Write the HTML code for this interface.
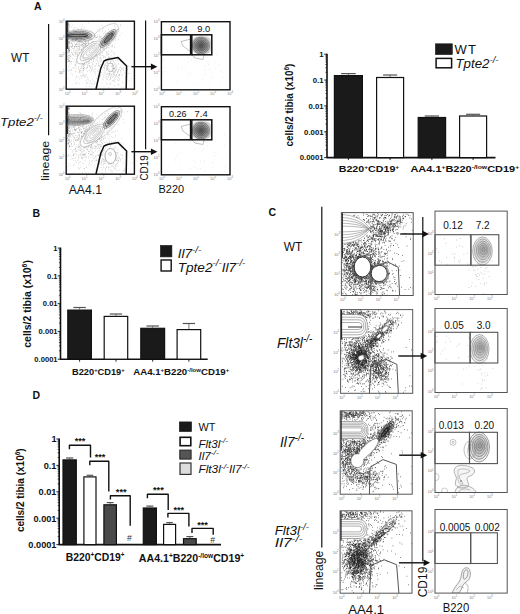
<!DOCTYPE html>
<html><head><meta charset="utf-8"><style>
html,body{margin:0;padding:0;background:#fff;}
svg{display:block;}
text{font-family:"Liberation Sans",sans-serif;}
</style></head><body>
<svg width="520" height="614" viewBox="0 0 520 614">
<rect width="520" height="614" fill="#fff"/>
<text x="34.00" y="9.80" font-size="10.5" text-anchor="start" font-weight="bold" font-style="normal" fill="#111">A</text>
<text x="32.50" y="217.00" font-size="10.5" text-anchor="start" font-weight="bold" font-style="normal" fill="#111">B</text>
<text x="268.50" y="216.20" font-size="10.5" text-anchor="start" font-weight="bold" font-style="normal" fill="#111">C</text>
<text x="32.50" y="398.80" font-size="10.5" text-anchor="start" font-weight="bold" font-style="normal" fill="#111">D</text>
<line x1="327.00" y1="53.70" x2="327.00" y2="157.60" stroke="#111" stroke-width="1.6"/>
<line x1="326.50" y1="157.60" x2="495.50" y2="157.60" stroke="#111" stroke-width="1.6"/>
<line x1="324.20" y1="54.20" x2="327.00" y2="54.20" stroke="#111" stroke-width="0.9"/>
<text x="323.60" y="57.01" font-size="7.8" text-anchor="end" font-weight="bold" font-style="normal" fill="#111" textLength="4.34" lengthAdjust="spacingAndGlyphs">1</text>
<line x1="325.40" y1="72.27" x2="327.00" y2="72.27" stroke="#111" stroke-width="0.7"/>
<line x1="325.40" y1="67.72" x2="327.00" y2="67.72" stroke="#111" stroke-width="0.7"/>
<line x1="325.40" y1="64.49" x2="327.00" y2="64.49" stroke="#111" stroke-width="0.7"/>
<line x1="325.40" y1="61.98" x2="327.00" y2="61.98" stroke="#111" stroke-width="0.7"/>
<line x1="325.40" y1="59.93" x2="327.00" y2="59.93" stroke="#111" stroke-width="0.7"/>
<line x1="325.40" y1="58.20" x2="327.00" y2="58.20" stroke="#111" stroke-width="0.7"/>
<line x1="325.40" y1="56.71" x2="327.00" y2="56.71" stroke="#111" stroke-width="0.7"/>
<line x1="325.40" y1="55.38" x2="327.00" y2="55.38" stroke="#111" stroke-width="0.7"/>
<line x1="324.20" y1="80.05" x2="327.00" y2="80.05" stroke="#111" stroke-width="0.9"/>
<text x="323.60" y="82.86" font-size="7.8" text-anchor="end" font-weight="bold" font-style="normal" fill="#111" textLength="10.84" lengthAdjust="spacingAndGlyphs">0.1</text>
<line x1="325.40" y1="98.12" x2="327.00" y2="98.12" stroke="#111" stroke-width="0.7"/>
<line x1="325.40" y1="93.57" x2="327.00" y2="93.57" stroke="#111" stroke-width="0.7"/>
<line x1="325.40" y1="90.34" x2="327.00" y2="90.34" stroke="#111" stroke-width="0.7"/>
<line x1="325.40" y1="87.83" x2="327.00" y2="87.83" stroke="#111" stroke-width="0.7"/>
<line x1="325.40" y1="85.78" x2="327.00" y2="85.78" stroke="#111" stroke-width="0.7"/>
<line x1="325.40" y1="84.05" x2="327.00" y2="84.05" stroke="#111" stroke-width="0.7"/>
<line x1="325.40" y1="82.56" x2="327.00" y2="82.56" stroke="#111" stroke-width="0.7"/>
<line x1="325.40" y1="81.23" x2="327.00" y2="81.23" stroke="#111" stroke-width="0.7"/>
<line x1="324.20" y1="105.90" x2="327.00" y2="105.90" stroke="#111" stroke-width="0.9"/>
<text x="323.60" y="108.71" font-size="7.8" text-anchor="end" font-weight="bold" font-style="normal" fill="#111" textLength="15.18" lengthAdjust="spacingAndGlyphs">0.01</text>
<line x1="325.40" y1="123.97" x2="327.00" y2="123.97" stroke="#111" stroke-width="0.7"/>
<line x1="325.40" y1="119.42" x2="327.00" y2="119.42" stroke="#111" stroke-width="0.7"/>
<line x1="325.40" y1="116.19" x2="327.00" y2="116.19" stroke="#111" stroke-width="0.7"/>
<line x1="325.40" y1="113.68" x2="327.00" y2="113.68" stroke="#111" stroke-width="0.7"/>
<line x1="325.40" y1="111.63" x2="327.00" y2="111.63" stroke="#111" stroke-width="0.7"/>
<line x1="325.40" y1="109.90" x2="327.00" y2="109.90" stroke="#111" stroke-width="0.7"/>
<line x1="325.40" y1="108.41" x2="327.00" y2="108.41" stroke="#111" stroke-width="0.7"/>
<line x1="325.40" y1="107.08" x2="327.00" y2="107.08" stroke="#111" stroke-width="0.7"/>
<line x1="324.20" y1="131.75" x2="327.00" y2="131.75" stroke="#111" stroke-width="0.9"/>
<text x="323.60" y="134.56" font-size="7.8" text-anchor="end" font-weight="bold" font-style="normal" fill="#111" textLength="19.52" lengthAdjust="spacingAndGlyphs">0.001</text>
<line x1="325.40" y1="149.82" x2="327.00" y2="149.82" stroke="#111" stroke-width="0.7"/>
<line x1="325.40" y1="145.27" x2="327.00" y2="145.27" stroke="#111" stroke-width="0.7"/>
<line x1="325.40" y1="142.04" x2="327.00" y2="142.04" stroke="#111" stroke-width="0.7"/>
<line x1="325.40" y1="139.53" x2="327.00" y2="139.53" stroke="#111" stroke-width="0.7"/>
<line x1="325.40" y1="137.48" x2="327.00" y2="137.48" stroke="#111" stroke-width="0.7"/>
<line x1="325.40" y1="135.75" x2="327.00" y2="135.75" stroke="#111" stroke-width="0.7"/>
<line x1="325.40" y1="134.26" x2="327.00" y2="134.26" stroke="#111" stroke-width="0.7"/>
<line x1="325.40" y1="132.93" x2="327.00" y2="132.93" stroke="#111" stroke-width="0.7"/>
<line x1="324.20" y1="157.60" x2="327.00" y2="157.60" stroke="#111" stroke-width="0.9"/>
<text x="323.60" y="160.41" font-size="7.8" text-anchor="end" font-weight="bold" font-style="normal" fill="#111" textLength="23.85" lengthAdjust="spacingAndGlyphs">0.0001</text>
<line x1="348.40" y1="73.60" x2="348.40" y2="75.00" stroke="#555" stroke-width="0.8"/>
<line x1="341.10" y1="73.60" x2="355.70" y2="73.60" stroke="#555" stroke-width="1.2"/>
<rect x="334.40" y="75.60" width="28.00" height="82.00" fill="#1a1a1a" stroke="#111" stroke-width="1.2"/>
<line x1="390.10" y1="75.00" x2="390.10" y2="76.90" stroke="#555" stroke-width="0.8"/>
<line x1="383.05" y1="75.00" x2="397.15" y2="75.00" stroke="#555" stroke-width="1.2"/>
<rect x="376.60" y="77.50" width="27.00" height="80.10" fill="#fff" stroke="#111" stroke-width="1.2"/>
<line x1="431.90" y1="116.00" x2="431.90" y2="116.90" stroke="#555" stroke-width="0.8"/>
<line x1="424.75" y1="116.00" x2="439.05" y2="116.00" stroke="#555" stroke-width="1.2"/>
<rect x="418.20" y="117.50" width="27.40" height="40.10" fill="#1a1a1a" stroke="#111" stroke-width="1.2"/>
<line x1="473.10" y1="114.30" x2="473.10" y2="115.40" stroke="#555" stroke-width="0.8"/>
<line x1="466.05" y1="114.30" x2="480.15" y2="114.30" stroke="#555" stroke-width="1.2"/>
<rect x="459.60" y="116.00" width="27.00" height="41.60" fill="#fff" stroke="#111" stroke-width="1.2"/>
<line x1="348.40" y1="157.60" x2="348.40" y2="160.10" stroke="#111" stroke-width="0.9"/>
<line x1="390.10" y1="157.60" x2="390.10" y2="160.10" stroke="#111" stroke-width="0.9"/>
<line x1="431.90" y1="157.60" x2="431.90" y2="160.10" stroke="#111" stroke-width="0.9"/>
<line x1="473.10" y1="157.60" x2="473.10" y2="160.10" stroke="#111" stroke-width="0.9"/>
<text transform="translate(293.40,146.60) rotate(-90)" x="0" y="0" font-size="10.1" text-anchor="start" font-weight="bold" font-style="normal" fill="#111" textLength="83.00" lengthAdjust="spacingAndGlyphs"><tspan>cells/2 tibia (x10</tspan><tspan font-size="6.57" dy="-4.24">6</tspan><tspan dy="4.24">)</tspan></text>
<text x="338.70" y="171.90" font-size="8.8" text-anchor="start" font-weight="bold" font-style="normal" fill="#111" textLength="60.50" lengthAdjust="spacingAndGlyphs"><tspan>B220</tspan><tspan font-size="5.46" dy="-3.34">+</tspan><tspan dy="3.34">CD19</tspan><tspan font-size="5.46" dy="-3.34">+</tspan></text>
<text x="410.40" y="171.90" font-size="8.8" text-anchor="start" font-weight="bold" font-style="normal" fill="#111" textLength="108.80" lengthAdjust="spacingAndGlyphs"><tspan>AA4.1</tspan><tspan font-size="5.46" dy="-3.34">+</tspan><tspan dy="3.34">B220</tspan><tspan font-size="5.46" dy="-3.34">-/low</tspan><tspan dy="3.34">CD19</tspan><tspan font-size="5.46" dy="-3.34">+</tspan></text>
<rect x="435.40" y="43.80" width="16.90" height="10.80" fill="#1a1a1a" stroke="#1a1a1a" stroke-width="0.6"/>
<text x="454.4" y="54.2" font-size="13" fill="#111" textLength="21.6" lengthAdjust="spacing">WT</text>
<rect x="436.10" y="58.40" width="15.50" height="9.40" fill="#fff" stroke="#111" stroke-width="1.5"/>
<text x="455.40" y="68.30" font-size="13" text-anchor="start" font-weight="normal" font-style="italic" fill="#111" textLength="43.10" lengthAdjust="spacingAndGlyphs"><tspan>Tpte2</tspan><tspan font-size="9.36" dy="-5.46">-/-</tspan></text>
<line x1="60.50" y1="247.60" x2="60.50" y2="359.20" stroke="#111" stroke-width="1.6"/>
<line x1="60.00" y1="359.20" x2="207.70" y2="359.20" stroke="#111" stroke-width="1.6"/>
<line x1="57.70" y1="248.10" x2="60.50" y2="248.10" stroke="#111" stroke-width="0.9"/>
<text x="57.60" y="250.84" font-size="7.6" text-anchor="end" font-weight="bold" font-style="normal" fill="#111" textLength="4.23" lengthAdjust="spacingAndGlyphs">1</text>
<line x1="58.90" y1="267.51" x2="60.50" y2="267.51" stroke="#111" stroke-width="0.7"/>
<line x1="58.90" y1="262.62" x2="60.50" y2="262.62" stroke="#111" stroke-width="0.7"/>
<line x1="58.90" y1="259.15" x2="60.50" y2="259.15" stroke="#111" stroke-width="0.7"/>
<line x1="58.90" y1="256.46" x2="60.50" y2="256.46" stroke="#111" stroke-width="0.7"/>
<line x1="58.90" y1="254.26" x2="60.50" y2="254.26" stroke="#111" stroke-width="0.7"/>
<line x1="58.90" y1="252.40" x2="60.50" y2="252.40" stroke="#111" stroke-width="0.7"/>
<line x1="58.90" y1="250.79" x2="60.50" y2="250.79" stroke="#111" stroke-width="0.7"/>
<line x1="58.90" y1="249.37" x2="60.50" y2="249.37" stroke="#111" stroke-width="0.7"/>
<line x1="57.70" y1="275.88" x2="60.50" y2="275.88" stroke="#111" stroke-width="0.9"/>
<text x="57.60" y="278.61" font-size="7.6" text-anchor="end" font-weight="bold" font-style="normal" fill="#111" textLength="10.56" lengthAdjust="spacingAndGlyphs">0.1</text>
<line x1="58.90" y1="295.29" x2="60.50" y2="295.29" stroke="#111" stroke-width="0.7"/>
<line x1="58.90" y1="290.40" x2="60.50" y2="290.40" stroke="#111" stroke-width="0.7"/>
<line x1="58.90" y1="286.93" x2="60.50" y2="286.93" stroke="#111" stroke-width="0.7"/>
<line x1="58.90" y1="284.24" x2="60.50" y2="284.24" stroke="#111" stroke-width="0.7"/>
<line x1="58.90" y1="282.04" x2="60.50" y2="282.04" stroke="#111" stroke-width="0.7"/>
<line x1="58.90" y1="280.18" x2="60.50" y2="280.18" stroke="#111" stroke-width="0.7"/>
<line x1="58.90" y1="278.57" x2="60.50" y2="278.57" stroke="#111" stroke-width="0.7"/>
<line x1="58.90" y1="277.15" x2="60.50" y2="277.15" stroke="#111" stroke-width="0.7"/>
<line x1="57.70" y1="303.65" x2="60.50" y2="303.65" stroke="#111" stroke-width="0.9"/>
<text x="57.60" y="306.39" font-size="7.6" text-anchor="end" font-weight="bold" font-style="normal" fill="#111" textLength="14.79" lengthAdjust="spacingAndGlyphs">0.01</text>
<line x1="58.90" y1="323.06" x2="60.50" y2="323.06" stroke="#111" stroke-width="0.7"/>
<line x1="58.90" y1="318.17" x2="60.50" y2="318.17" stroke="#111" stroke-width="0.7"/>
<line x1="58.90" y1="314.70" x2="60.50" y2="314.70" stroke="#111" stroke-width="0.7"/>
<line x1="58.90" y1="312.01" x2="60.50" y2="312.01" stroke="#111" stroke-width="0.7"/>
<line x1="58.90" y1="309.81" x2="60.50" y2="309.81" stroke="#111" stroke-width="0.7"/>
<line x1="58.90" y1="307.95" x2="60.50" y2="307.95" stroke="#111" stroke-width="0.7"/>
<line x1="58.90" y1="306.34" x2="60.50" y2="306.34" stroke="#111" stroke-width="0.7"/>
<line x1="58.90" y1="304.92" x2="60.50" y2="304.92" stroke="#111" stroke-width="0.7"/>
<line x1="57.70" y1="331.42" x2="60.50" y2="331.42" stroke="#111" stroke-width="0.9"/>
<text x="57.60" y="334.16" font-size="7.6" text-anchor="end" font-weight="bold" font-style="normal" fill="#111" textLength="19.02" lengthAdjust="spacingAndGlyphs">0.001</text>
<line x1="58.90" y1="350.84" x2="60.50" y2="350.84" stroke="#111" stroke-width="0.7"/>
<line x1="58.90" y1="345.95" x2="60.50" y2="345.95" stroke="#111" stroke-width="0.7"/>
<line x1="58.90" y1="342.48" x2="60.50" y2="342.48" stroke="#111" stroke-width="0.7"/>
<line x1="58.90" y1="339.79" x2="60.50" y2="339.79" stroke="#111" stroke-width="0.7"/>
<line x1="58.90" y1="337.59" x2="60.50" y2="337.59" stroke="#111" stroke-width="0.7"/>
<line x1="58.90" y1="335.73" x2="60.50" y2="335.73" stroke="#111" stroke-width="0.7"/>
<line x1="58.90" y1="334.12" x2="60.50" y2="334.12" stroke="#111" stroke-width="0.7"/>
<line x1="58.90" y1="332.70" x2="60.50" y2="332.70" stroke="#111" stroke-width="0.7"/>
<line x1="57.70" y1="359.20" x2="60.50" y2="359.20" stroke="#111" stroke-width="0.9"/>
<text x="57.60" y="361.94" font-size="7.6" text-anchor="end" font-weight="bold" font-style="normal" fill="#111" textLength="23.24" lengthAdjust="spacingAndGlyphs">0.0001</text>
<line x1="79.60" y1="307.50" x2="79.60" y2="309.50" stroke="#555" stroke-width="0.8"/>
<line x1="73.40" y1="307.50" x2="85.80" y2="307.50" stroke="#555" stroke-width="1.2"/>
<rect x="67.80" y="310.10" width="23.60" height="49.10" fill="#1a1a1a" stroke="#111" stroke-width="1.2"/>
<line x1="115.95" y1="314.00" x2="115.95" y2="315.80" stroke="#555" stroke-width="0.8"/>
<line x1="109.78" y1="314.00" x2="122.12" y2="314.00" stroke="#555" stroke-width="1.2"/>
<rect x="104.20" y="316.40" width="23.50" height="42.80" fill="#fff" stroke="#111" stroke-width="1.2"/>
<line x1="152.70" y1="326.00" x2="152.70" y2="327.70" stroke="#555" stroke-width="0.8"/>
<line x1="146.45" y1="326.00" x2="158.95" y2="326.00" stroke="#555" stroke-width="1.2"/>
<rect x="140.80" y="328.30" width="23.80" height="30.90" fill="#1a1a1a" stroke="#111" stroke-width="1.2"/>
<line x1="188.90" y1="323.50" x2="188.90" y2="329.00" stroke="#555" stroke-width="0.8"/>
<line x1="182.70" y1="323.50" x2="195.10" y2="323.50" stroke="#555" stroke-width="1.2"/>
<rect x="177.10" y="329.60" width="23.60" height="29.60" fill="#fff" stroke="#111" stroke-width="1.2"/>
<line x1="79.60" y1="359.20" x2="79.60" y2="361.70" stroke="#111" stroke-width="0.9"/>
<line x1="116.00" y1="359.20" x2="116.00" y2="361.70" stroke="#111" stroke-width="0.9"/>
<line x1="152.70" y1="359.20" x2="152.70" y2="361.70" stroke="#111" stroke-width="0.9"/>
<line x1="188.90" y1="359.20" x2="188.90" y2="361.70" stroke="#111" stroke-width="0.9"/>
<text transform="translate(31.40,347.70) rotate(-90)" x="0" y="0" font-size="10.5" text-anchor="start" font-weight="bold" font-style="normal" fill="#111" textLength="87.60" lengthAdjust="spacingAndGlyphs"><tspan>cells/2 tibia (x10</tspan><tspan font-size="6.83" dy="-4.41">6</tspan><tspan dy="4.41">)</tspan></text>
<text x="72.00" y="374.90" font-size="8.9" text-anchor="start" font-weight="bold" font-style="normal" fill="#111" textLength="52.60" lengthAdjust="spacingAndGlyphs"><tspan>B220</tspan><tspan font-size="5.52" dy="-3.38">+</tspan><tspan dy="3.38">CD19</tspan><tspan font-size="5.52" dy="-3.38">+</tspan></text>
<text x="133.20" y="375.20" font-size="8.9" text-anchor="start" font-weight="bold" font-style="normal" fill="#111" textLength="96.00" lengthAdjust="spacingAndGlyphs"><tspan>AA4.1</tspan><tspan font-size="5.52" dy="-3.38">+</tspan><tspan dy="3.38">B220</tspan><tspan font-size="5.52" dy="-3.38">-/low</tspan><tspan dy="3.38">CD19</tspan><tspan font-size="5.52" dy="-3.38">+</tspan></text>
<rect x="160.40" y="245.40" width="11.50" height="11.50" fill="#1a1a1a" stroke="#1a1a1a" stroke-width="0.6"/>
<text x="177.70" y="258.30" font-size="13.4" text-anchor="start" font-weight="normal" font-style="italic" fill="#111" textLength="23.50" lengthAdjust="spacingAndGlyphs"><tspan>Il7</tspan><tspan font-size="9.65" dy="-5.63">-/-</tspan></text>
<rect x="161.10" y="260.00" width="10.10" height="11.00" fill="#fff" stroke="#111" stroke-width="1.4"/>
<text x="177.70" y="271.70" font-size="13.4" text-anchor="start" font-weight="normal" font-style="italic" fill="#111" textLength="67.70" lengthAdjust="spacingAndGlyphs"><tspan>Tpte2</tspan><tspan font-size="9.65" dy="-5.63">-/-</tspan><tspan dy="5.63">Il7</tspan><tspan font-size="9.65" dy="-5.63">-/-</tspan></text>
<line x1="59.20" y1="438.50" x2="59.20" y2="544.60" stroke="#111" stroke-width="1.6"/>
<line x1="58.70" y1="544.60" x2="221.00" y2="544.60" stroke="#111" stroke-width="1.6"/>
<line x1="56.40" y1="439.00" x2="59.20" y2="439.00" stroke="#111" stroke-width="0.9"/>
<text x="56.50" y="442.31" font-size="9.2" text-anchor="end" font-weight="bold" font-style="normal" fill="#111" textLength="5.12" lengthAdjust="spacingAndGlyphs">1</text>
<line x1="57.60" y1="457.45" x2="59.20" y2="457.45" stroke="#111" stroke-width="0.7"/>
<line x1="57.60" y1="452.80" x2="59.20" y2="452.80" stroke="#111" stroke-width="0.7"/>
<line x1="57.60" y1="449.51" x2="59.20" y2="449.51" stroke="#111" stroke-width="0.7"/>
<line x1="57.60" y1="446.95" x2="59.20" y2="446.95" stroke="#111" stroke-width="0.7"/>
<line x1="57.60" y1="444.86" x2="59.20" y2="444.86" stroke="#111" stroke-width="0.7"/>
<line x1="57.60" y1="443.09" x2="59.20" y2="443.09" stroke="#111" stroke-width="0.7"/>
<line x1="57.60" y1="441.56" x2="59.20" y2="441.56" stroke="#111" stroke-width="0.7"/>
<line x1="57.60" y1="440.21" x2="59.20" y2="440.21" stroke="#111" stroke-width="0.7"/>
<line x1="56.40" y1="465.40" x2="59.20" y2="465.40" stroke="#111" stroke-width="0.9"/>
<text x="56.50" y="468.71" font-size="9.2" text-anchor="end" font-weight="bold" font-style="normal" fill="#111" textLength="12.79" lengthAdjust="spacingAndGlyphs">0.1</text>
<line x1="57.60" y1="483.85" x2="59.20" y2="483.85" stroke="#111" stroke-width="0.7"/>
<line x1="57.60" y1="479.20" x2="59.20" y2="479.20" stroke="#111" stroke-width="0.7"/>
<line x1="57.60" y1="475.91" x2="59.20" y2="475.91" stroke="#111" stroke-width="0.7"/>
<line x1="57.60" y1="473.35" x2="59.20" y2="473.35" stroke="#111" stroke-width="0.7"/>
<line x1="57.60" y1="471.26" x2="59.20" y2="471.26" stroke="#111" stroke-width="0.7"/>
<line x1="57.60" y1="469.49" x2="59.20" y2="469.49" stroke="#111" stroke-width="0.7"/>
<line x1="57.60" y1="467.96" x2="59.20" y2="467.96" stroke="#111" stroke-width="0.7"/>
<line x1="57.60" y1="466.61" x2="59.20" y2="466.61" stroke="#111" stroke-width="0.7"/>
<line x1="56.40" y1="491.80" x2="59.20" y2="491.80" stroke="#111" stroke-width="0.9"/>
<text x="56.50" y="495.11" font-size="9.2" text-anchor="end" font-weight="bold" font-style="normal" fill="#111" textLength="17.90" lengthAdjust="spacingAndGlyphs">0.01</text>
<line x1="57.60" y1="510.25" x2="59.20" y2="510.25" stroke="#111" stroke-width="0.7"/>
<line x1="57.60" y1="505.60" x2="59.20" y2="505.60" stroke="#111" stroke-width="0.7"/>
<line x1="57.60" y1="502.31" x2="59.20" y2="502.31" stroke="#111" stroke-width="0.7"/>
<line x1="57.60" y1="499.75" x2="59.20" y2="499.75" stroke="#111" stroke-width="0.7"/>
<line x1="57.60" y1="497.66" x2="59.20" y2="497.66" stroke="#111" stroke-width="0.7"/>
<line x1="57.60" y1="495.89" x2="59.20" y2="495.89" stroke="#111" stroke-width="0.7"/>
<line x1="57.60" y1="494.36" x2="59.20" y2="494.36" stroke="#111" stroke-width="0.7"/>
<line x1="57.60" y1="493.01" x2="59.20" y2="493.01" stroke="#111" stroke-width="0.7"/>
<line x1="56.40" y1="518.20" x2="59.20" y2="518.20" stroke="#111" stroke-width="0.9"/>
<text x="56.50" y="521.51" font-size="9.2" text-anchor="end" font-weight="bold" font-style="normal" fill="#111" textLength="23.02" lengthAdjust="spacingAndGlyphs">0.001</text>
<line x1="57.60" y1="536.65" x2="59.20" y2="536.65" stroke="#111" stroke-width="0.7"/>
<line x1="57.60" y1="532.00" x2="59.20" y2="532.00" stroke="#111" stroke-width="0.7"/>
<line x1="57.60" y1="528.71" x2="59.20" y2="528.71" stroke="#111" stroke-width="0.7"/>
<line x1="57.60" y1="526.15" x2="59.20" y2="526.15" stroke="#111" stroke-width="0.7"/>
<line x1="57.60" y1="524.06" x2="59.20" y2="524.06" stroke="#111" stroke-width="0.7"/>
<line x1="57.60" y1="522.29" x2="59.20" y2="522.29" stroke="#111" stroke-width="0.7"/>
<line x1="57.60" y1="520.76" x2="59.20" y2="520.76" stroke="#111" stroke-width="0.7"/>
<line x1="57.60" y1="519.41" x2="59.20" y2="519.41" stroke="#111" stroke-width="0.7"/>
<line x1="56.40" y1="544.60" x2="59.20" y2="544.60" stroke="#111" stroke-width="0.9"/>
<text x="56.50" y="547.91" font-size="9.2" text-anchor="end" font-weight="bold" font-style="normal" fill="#111" textLength="28.13" lengthAdjust="spacingAndGlyphs">0.0001</text>
<line x1="69.65" y1="458.00" x2="69.65" y2="459.30" stroke="#555" stroke-width="0.8"/>
<line x1="66.03" y1="458.00" x2="73.28" y2="458.00" stroke="#555" stroke-width="1.2"/>
<rect x="63.00" y="459.90" width="13.30" height="84.70" fill="#1a1a1a" stroke="#111" stroke-width="1.2"/>
<line x1="89.95" y1="475.30" x2="89.95" y2="476.30" stroke="#555" stroke-width="0.8"/>
<line x1="86.62" y1="475.30" x2="93.27" y2="475.30" stroke="#555" stroke-width="1.2"/>
<rect x="83.90" y="476.90" width="12.10" height="67.70" fill="#fff" stroke="#111" stroke-width="1.2"/>
<line x1="110.15" y1="502.60" x2="110.15" y2="504.20" stroke="#555" stroke-width="0.8"/>
<line x1="106.73" y1="502.60" x2="113.58" y2="502.60" stroke="#555" stroke-width="1.2"/>
<rect x="103.90" y="504.80" width="12.50" height="39.80" fill="#4a4a4a" stroke="#111" stroke-width="1.2"/>
<line x1="149.85" y1="506.10" x2="149.85" y2="507.40" stroke="#555" stroke-width="0.8"/>
<line x1="146.27" y1="506.10" x2="153.43" y2="506.10" stroke="#555" stroke-width="1.2"/>
<rect x="143.30" y="508.00" width="13.10" height="36.60" fill="#1a1a1a" stroke="#111" stroke-width="1.2"/>
<line x1="169.60" y1="522.60" x2="169.60" y2="523.80" stroke="#555" stroke-width="0.8"/>
<line x1="166.30" y1="522.60" x2="172.90" y2="522.60" stroke="#555" stroke-width="1.2"/>
<rect x="163.60" y="524.40" width="12.00" height="20.20" fill="#fff" stroke="#111" stroke-width="1.2"/>
<line x1="189.85" y1="536.60" x2="189.85" y2="538.10" stroke="#555" stroke-width="0.8"/>
<line x1="186.38" y1="536.60" x2="193.33" y2="536.60" stroke="#555" stroke-width="1.2"/>
<rect x="183.50" y="538.70" width="12.70" height="5.90" fill="#4a4a4a" stroke="#111" stroke-width="1.2"/>
<text x="129.30" y="540.60" font-size="8.6" text-anchor="middle" font-weight="normal" font-style="normal" fill="#333">#</text>
<text x="212.60" y="542.60" font-size="8.6" text-anchor="middle" font-weight="normal" font-style="normal" fill="#333">#</text>
<path d="M69.40 449.20 L69.40 445.20 L90.50 445.20 L90.50 457.40" fill="none" stroke="#111" stroke-width="1.4" stroke-linejoin="round"/>
<path d="M89.80 465.20 L89.80 461.30 L108.80 461.30 L108.80 491.50" fill="none" stroke="#111" stroke-width="1.4" stroke-linejoin="round"/>
<path d="M110.40 499.40 L110.40 495.80 L130.20 495.80 L130.20 525.70" fill="none" stroke="#111" stroke-width="1.4" stroke-linejoin="round"/>
<path d="M147.40 498.30 L147.40 494.20 L168.20 494.20 L168.20 510.10" fill="none" stroke="#111" stroke-width="1.4" stroke-linejoin="round"/>
<path d="M167.90 517.50 L167.90 513.40 L188.90 513.40 L188.90 526.60" fill="none" stroke="#111" stroke-width="1.4" stroke-linejoin="round"/>
<path d="M192.00 533.00 L192.00 528.40 L213.20 528.40 L213.20 534.80" fill="none" stroke="#111" stroke-width="1.4" stroke-linejoin="round"/>
<text x="80.00" y="443.80" font-size="9.2" text-anchor="middle" font-weight="bold" font-style="normal" fill="#111">***</text>
<text x="100.00" y="459.90" font-size="9.2" text-anchor="middle" font-weight="bold" font-style="normal" fill="#111">***</text>
<text x="121.20" y="494.60" font-size="9.2" text-anchor="middle" font-weight="bold" font-style="normal" fill="#111">***</text>
<text x="158.40" y="492.60" font-size="9.2" text-anchor="middle" font-weight="bold" font-style="normal" fill="#111">***</text>
<text x="178.80" y="512.60" font-size="9.2" text-anchor="middle" font-weight="bold" font-style="normal" fill="#111">***</text>
<text x="202.60" y="527.60" font-size="9.2" text-anchor="middle" font-weight="bold" font-style="normal" fill="#111">***</text>
<text transform="translate(24.20,532.10) rotate(-90)" x="0" y="0" font-size="10.2" text-anchor="start" font-weight="bold" font-style="normal" fill="#111" textLength="83.80" lengthAdjust="spacingAndGlyphs"><tspan>cells/2 tibia (x10</tspan><tspan font-size="6.63" dy="-4.28">6</tspan><tspan dy="4.28">)</tspan></text>
<text x="65.80" y="561.40" font-size="10.3" text-anchor="start" font-weight="bold" font-style="normal" fill="#111" textLength="58.80" lengthAdjust="spacingAndGlyphs"><tspan>B220</tspan><tspan font-size="6.39" dy="-3.91">+</tspan><tspan dy="3.91">CD19</tspan><tspan font-size="6.39" dy="-3.91">+</tspan></text>
<text x="138.80" y="561.60" font-size="10.3" text-anchor="start" font-weight="bold" font-style="normal" fill="#111" textLength="105.40" lengthAdjust="spacingAndGlyphs"><tspan>AA4.1</tspan><tspan font-size="6.39" dy="-3.91">+</tspan><tspan dy="3.91">B220</tspan><tspan font-size="6.39" dy="-3.91">-/low</tspan><tspan dy="3.91">CD19</tspan><tspan font-size="6.39" dy="-3.91">+</tspan></text>
<rect x="179.30" y="421.90" width="12.30" height="9.70" fill="#1a1a1a" stroke="#1a1a1a" stroke-width="0.6"/>
<text x="198.40" y="430.70" font-size="10.5" text-anchor="start" font-weight="normal" font-style="normal" fill="#111" textLength="16.90" lengthAdjust="spacingAndGlyphs">WT</text>
<rect x="180.10" y="437.30" width="10.70" height="8.40" fill="#fff" stroke="#111" stroke-width="1.6"/>
<text x="198.40" y="447.60" font-size="11" text-anchor="start" font-weight="normal" font-style="italic" fill="#111" textLength="29.70" lengthAdjust="spacingAndGlyphs"><tspan>Flt3l</tspan><tspan font-size="7.92" dy="-4.62">-/-</tspan></text>
<rect x="179.80" y="450.10" width="11.30" height="9.00" fill="#555" stroke="#222" stroke-width="1"/>
<text x="198.40" y="459.90" font-size="11" text-anchor="start" font-weight="normal" font-style="italic" fill="#111" textLength="20.40" lengthAdjust="spacingAndGlyphs"><tspan>Il7</tspan><tspan font-size="7.92" dy="-4.62">-/-</tspan></text>
<rect x="180.00" y="463.00" width="11.00" height="11.40" fill="#ddd" stroke="#333" stroke-width="1.2"/>
<text x="198.40" y="473.20" font-size="11" text-anchor="start" font-weight="normal" font-style="italic" fill="#111" textLength="51.20" lengthAdjust="spacingAndGlyphs"><tspan>Flt3l</tspan><tspan font-size="7.92" dy="-4.62">-/-</tspan><tspan dy="4.62">Il7</tspan><tspan font-size="7.92" dy="-4.62">-/-</tspan></text>
<clipPath id="cA0"><rect x="66.2" y="21.2" width="68.2" height="68.0"/></clipPath><g clip-path="url(#cA0)"><path transform="scale(.25)" d="M336 244h2M323 182h2M314 176h2M339 298h2M312 196h2M360 247h2M341 180h2M335 264h2M271 204h2M275 242h2M289 186h2M334 274h2M308 222h2M277 232h2M401 148h2M377 234h2M305 332h2M373 166h2M340 258h2M327 264h2M333 263h2M405 193h2M342 166h2M308 218h2M379 288h2M272 187h2M367 124h2M314 223h2M396 264h2M320 209h2M324 307h2M315 212h2M327 170h2M335 205h2M392 262h2M335 263h2M320 283h2M336 258h2M274 246h2M321 181h2M344 345h2M296 196h2M346 254h2M370 255h2M286 224h2M338 173h2M348 183h2M383 238h2M340 197h2M330 124h2M282 247h2M295 269h2M342 148h2M396 303h2M328 177h2M389 200h2M334 187h2M306 162h2M396 220h2M382 229h2M303 211h2M309 228h2M318 212h2M270 186h2M415 193h2M285 246h2M404 152h2M326 195h2M300 252h2M310 221h2M283 165h2M400 202h2M315 202h2M392 263h2M270 277h2M382 221h2M362 269h2M376 276h2M314 307h2M276 273h2M360 273h2M426 305h2M281 140h2M375 175h2M335 272h2M295 149h2M328 177h2M333 249h2M289 194h2M288 182h2M345 187h2M353 246h2M433 156h2M379 223h2M335 153h2M314 267h2M322 288h2M335 114h2M303 126h2M400 230h2M280 179h2M390 236h2M338 270h2M363 239h2M286 255h2M303 285h2M275 221h2M336 159h2M419 304h2M314 268h2M354 92h2M340 172h2M323 219h2M393 245h2M336 308h2M309 208h2M382 276h2M368 234h2M409 257h2M333 198h2M306 311h2M360 232h2M319 170h2M333 273h2M317 216h2M295 274h2M299 258h2M409 212h2M307 238h2M336 176h2M358 333h2M324 217h2M286 245h2M276 170h2M397 181h2M388 307h2M348 257h2M430 218h2M308 158h2M338 305h2M295 202h2M346 243h2M360 325h2M364 231h2M377 265h2M329 139h2M318 193h2M367 345h2M346 187h2M280 225h2M328 168h2M342 168h2M389 283h2M388 203h2M317 210h2M274 153h2M374 218h2M346 280h2M344 248h2M318 282h2M346 165h2M291 270h2M358 129h2M401 259h2M400 208h2M322 169h2M458 219h2M412 194h2M344 141h2M318 279h2M276 284h2M352 174h2M312 204h2M334 200h2M296 212h2M287 161h2M334 274h2M305 177h2M408 187h2M300 259h2M329 259h2M334 172h2M334 138h2M367 172h2M389 149h2M284 189h2M282 248h2M297 190h2M357 177h2M278 133h2M425 211h2M428 174h2M272 267h2M269 210h2M361 172h2M386 172h2M322 150h2M289 300h2M294 130h2M317 226h2M282 225h2M334 295h2M426 221h2M299 225h2M307 189h2M333 174h2M301 179h2M325 199h2M271 231h2M272 196h2M322 120h2M328 206h2M318 177h2M323 199h2M340 165h2M329 205h2M363 141h2M358 241h2M350 248h2M305 215h2M367 250h2M346 149h2M362 289h2M384 240h2M329 96h2M354 150h2M274 195h2M397 209h2M349 319h2M413 223h2M324 162h2M303 250h2M355 234h2M333 266h2M364 284h2M353 176h2M307 183h2M379 248h2M307 227h2M330 256h2M369 316h2M390 244h2M350 269h2M310 226h2M379 330h2M346 298h2M335 304h2M290 218h2M326 269h2M386 150h2M292 246h2M304 149h2M386 254h2M385 216h2M295 239h2M302 263h2M348 180h2M315 291h2M443 332h2M410 222h2M289 234h2M358 185h2M360 182h2M319 175h2M390 227h2M301 210h2M325 264h2M382 222h2M370 335h2M325 209h2M394 254h2M428 317h2M363 264h2M327 251h2M300 211h2M307 210h2M348 286h2M431 229h2M278 202h2M340 124h2M352 149h2M321 224h2M310 196h2M425 331h2M399 265h2M304 303h2M315 224h2M284 209h2M445 224h2M325 256h2M370 170h2M326 276h2M411 193h2M408 127h2M304 200h2M368 260h2M403 146h2M304 256h2M292 120h2M318 150h2M305 247h2M351 311h2M326 148h2M300 180h2M278 251h2M305 125h2M369 222h2M366 230h2M395 250h2M355 249h2M271 313h2M341 165h2M332 191h2M340 195h2M334 279h2M459 176h2M314 184h2M374 168h2M313 226h2M289 178h2M313 119h2M374 257h2M332 182h2M280 186h2M406 239h2M392 203h2M332 245h2M394 203h2M399 244h2M375 171h2M378 337h2M373 241h2M343 321h2M291 222h2M358 267h2M315 244h2M330 169h2M335 274h2M290 215h2M368 172h2M345 173h2M390 348h2M433 217h2M372 234h2M341 308h2M273 283h2M334 301h2M345 193h2M349 266h2M338 253h2M311 117h2M379 264h2M386 204h2M302 218h2M393 156h2M393 195h2M283 294h2M331 160h2M319 276h2M393 206h2M356 265h2M305 246h2M334 200h2M312 231h2M337 199h2M316 286h2M346 274h2M394 259h2M445 185h2M425 316h2M368 269h2M371 224h2M358 262h2M332 281h2M286 278h2M325 182h2M354 181h2M292 147h2M335 254h2M385 221h2M386 229h2M332 258h2M387 210h2M324 220h2M340 181h2M385 207h2M358 185h2M353 248h2M316 333h2M354 320h2M318 251h2M322 134h2M325 113h2M302 217h2M349 154h2M412 173h2M367 157h2M333 258h2M420 238h2M342 177h2M376 226h2M420 125h2M322 274h2M319 187h2M323 156h2M391 170h2M294 207h2M303 274h2M282 147h2M302 112h2M359 325h2M392 168h2M378 288h2M300 178h2M331 145h2M407 103h2M283 214h2M391 117h2M336 191h2M292 195h2M374 246h2M303 334h2M447 152h2M374 239h2M326 200h2M326 199h2M315 165h2M334 182h2M327 282h2M354 254h2M372 172h2M400 230h2M300 203h2M304 236h2M302 287h2M298 110h2M301 124h2M334 283h2M367 158h2M299 320h2M398 235h2M353 260h2M307 173h2M339 179h2M448 184h2M357 282h2M312 185h2M362 230h2M287 209h2M338 254h2M308 215h2M414 114h2M318 186h2M332 130h2M329 184h2M310 240h2M367 275h2M312 276h2M392 287h2M403 220h2M328 271h2M295 159h2M319 189h2M368 166h2M311 148h2M339 162h2M318 132h2M279 133h2M331 132h2M303 152h2M304 175h2M335 159h2M364 159h2M276 203h2M352 173h2M336 109h2M288 157h2M273 173h2M377 156h2M298 138h2M331 178h2M286 187h2M297 146h2M329 186h2M290 176h2M316 236h2M286 201h2M317 165h2M291 155h2M344 182h2M328 132h2M396 148h2M402 192h2M315 163h2M324 172h2M295 167h2M397 127h2M332 146h2M329 188h2M317 187h2M291 183h2M329 106h2M284 173h2M395 175h2M332 134h2M389 211h2M321 163h2M450 185h2M273 200h2M333 189h2M340 177h2M283 137h2M323 151h2M296 124h2M329 178h2M416 132h2M287 190h2M310 160h2M402 160h2M336 175h2M346 182h2M289 183h2M347 125h2M305 178h2M292 117h2M306 186h2M396 115h2M445 141h2M367 172h2M286 107h2M456 185h2M407 146h2M390 206h2M395 167h2M324 144h2M312 165h2M413 199h2M318 197h2M283 160h2M364 138h2M307 136h2M326 207h2M284 173h2M277 140h2M433 180h2M286 185h2M304 187h2M334 175h2M349 154h2M301 127h2M299 134h2M313 145h2M325 179h2M275 186h2M402 188h2M303 203h2M289 101h2M447 206h2M270 172h2M310 170h2M342 173h2M378 170h2M433 151h2M332 122h2M275 181h2M317 143h2M303 156h2M297 186h2M351 154h2M276 175h2M315 193h2M447 188h2M318 164h2M279 146h2M272 159h2M299 186h2M301 163h2M308 185h2M450 139h2M340 186h2M381 152h2M340 147h2M287 153h2M313 172h2M342 133h2M417 196h2M356 159h2M316 181h2M340 127h2M356 240h2M338 165h2M388 139h2M328 204h2M310 158h2M326 157h2M396 146h2M363 137h2M353 165h2M267 157h2M396 140h2M268 204h2M326 206h2M336 146h2M317 198h2M366 168h2M322 165h2M291 216h2M320 140h2M296 186h2M352 165h2M287 169h2M359 156h2M339 198h2M352 169h2M425 184h2M303 186h2M340 147h2M324 164h2M306 157h2M318 171h2M384 151h2M295 194h2M301 161h2M331 194h2M270 141h2M278 147h2M335 146h2M326 178h2M284 171h2M401 176h2M289 166h2M275 175h2M362 148h2M310 195h2M296 173h2M270 148h2M295 220h2M300 155h2M293 164h2M351 173h2M419 173h2M389 175h2M349 133h2M314 166h2M308 116h2M362 159h2M299 162h2M309 178h2M334 171h2M302 154h2M280 167h2M377 143h2M393 188h2M298 187h2M304 156h2M325 117h2M344 134h2M288 158h2M272 168h2M348 182h2M272 149h2M385 217h2M361 267h2M434 180h2M435 180h2M431 190h2M447 132h2M457 129h2M397 163h2M410 199h2M375 234h2M423 169h2M336 255h2M417 145h2M376 143h2M420 145h2M409 122h2M427 150h2M420 137h2M421 230h2M384 174h2M472 159h2M360 180h2M462 151h2M452 164h2M430 134h2M482 98h2M399 212h2M473 120h2M374 226h2M445 122h2M398 219h2M396 158h2M419 169h2M455 146h2M364 239h2M444 152h2M433 134h2M391 224h2M342 187h2M430 132h2M377 170h2M402 196h2M345 270h2M429 153h2M386 257h2M384 212h2M435 190h2M408 208h2M401 219h2M474 115h2M445 204h2M407 154h2M414 136h2M462 154h2M414 172h2M385 220h2M336 245h2M400 151h2M424 155h2M375 225h2M457 154h2M454 118h2M388 230h2M435 182h2M426 194h2M446 157h2M430 165h2M419 173h2M432 136h2M462 115h2M438 142h2M430 214h2M379 172h2M480 104h2M423 131h2M429 174h2M456 104h2M432 161h2M365 156h2M435 164h2M374 176h2M459 129h2M462 161h2M403 207h2M399 186h2M405 181h2M446 140h2M399 180h2M406 154h2M391 195h2M418 227h2M457 137h2M439 209h2M417 165h2M422 171h2M453 127h2M462 91h2M415 140h2M461 109h2M420 192h2M432 118h2M376 172h2M411 172h2M448 179h2M344 245h2M402 200h2M385 224h2M409 172h2M416 161h2M367 241h2M415 166h2M458 159h2M479 142h2M358 235h2M427 136h2M415 189h2M429 144h2M397 165h2M474 124h2M438 159h2M487 131h2M371 227h2M453 209h2M380 147h2M388 203h2M401 196h2M389 172h2M425 143h2M371 177h2M392 215h2M355 235h2M425 147h2M399 155h2M466 146h2M389 146h2M268 163h2M271 235h2M273 148h2M267 232h2M275 246h2M272 168h2M274 121h2M275 173h2M273 198h2M268 163h2M274 142h2M269 133h2M271 92h2M275 203h2M270 213h2M270 150h2M268 182h2M272 120h2M273 194h2M277 200h2M277 165h2M278 243h2M270 226h2M274 178h2M276 196h2M274 129h2M269 239h2M273 190h2M276 231h2M271 245h2M276 171h2M275 102h2M275 209h2M274 95h2M272 115h2M274 223h2M269 98h2M272 139h2M278 224h2M273 197h2M272 199h2M276 193h2M275 206h2M276 207h2M273 201h2M273 96h2M272 98h2M275 211h2M269 184h2M272 127h2M274 171h2M268 99h2M267 216h2M276 100h2M274 165h2M275 100h2M271 212h2M271 122h2M276 242h2M272 196h2M273 139h2M270 224h2M273 239h2M271 133h2M270 245h2M269 94h2M274 204h2M269 132h2M273 154h2M269 188h2M275 92h2M270 121h2M271 101h2M277 205h2M274 120h2M275 166h2M270 138h2M276 123h2M270 237h2M278 167h2M277 191h2M274 200h2M276 219h2M272 127h2M275 97h2M278 112h2M275 87h2M268 187h2M273 152h2M275 106h2M277 171h2M270 113h2M278 245h2M275 240h2M271 236h2M270 220h2M273 191h2M275 109h2M277 185h2M270 95h2M269 201h2M277 140h2M277 198h2M276 221h2M274 185h2M274 223h2M276 192h2M272 236h2M272 231h2M270 91h2M276 128h2M277 148h2M267 125h2M275 113h2M269 227h2M268 88h2M268 114h2M273 209h2M269 121h2M268 126h2M269 209h2M275 158h2M271 128h2M273 245h2M269 95h2M277 200h2M278 146h2M276 202h2M267 132h2M275 105h2M271 87h2M267 132h2M469 291h2M427 254h2M492 272h2M438 335h2M476 301h2M457 302h2M441 231h2M409 297h2M457 273h2M413 230h2M437 230h2M471 323h2M525 314h2M429 251h2M349 261h2M441 317h2M463 303h2M452 306h2M487 244h2M433 232h2M491 329h2M467 239h2M451 274h2M448 275h2M461 268h2M470 291h2M438 278h2M434 311h2M438 293h2M435 229h2M471 244h2M465 297h2M400 248h2M432 252h2M413 309h2M439 296h2M434 293h2M425 281h2M462 284h2M433 243h2M451 294h2M439 254h2M438 294h2M457 190h2M449 257h2M485 273h2M424 274h2M451 262h2M445 233h2M440 310h2M501 307h2M454 325h2M475 342h2M476 278h2M453 288h2M454 289h2M424 206h2M427 209h2M448 282h2M399 307h2M470 285h2M493 349h2M412 319h2M458 297h2M472 256h2M429 252h2M425 278h2M405 244h2M462 279h2M457 214h2M424 262h2M447 261h2M472 280h2M446 282h2M466 265h2M477 299h2M450 284h2M461 319h2M472 296h2M471 286h2M481 281h2M388 330h2M449 240h2M440 250h2M505 300h2M402 302h2M435 351h2M417 201h2M448 269h2M434 205h2M458 342h2M393 324h2M458 275h2M477 301h2M429 308h2M432 218h2M503 269h2M429 294h2M402 233h2M432 263h2M448 322h2M433 300h2M463 243h2M452 248h2M476 298h2M446 234h2M449 254h2M466 278h2M423 315h2M466 261h2M479 271h2M437 286h2M425 266h2M442 337h2M488 273h2M491 280h2M457 314h2M453 239h2M483 267h2M437 174h2M474 311h2M468 317h2M493 280h2M472 255h2M436 320h2M457 234h2M456 275h2M423 298h2M435 225h2M415 346h2M404 290h2M463 305h2M412 270h2M450 311h2M428 240h2M474 322h2M456 260h2M457 286h2M469 237h2M449 276h2M415 290h2M447 267h2M457 231h2M444 298h2M454 321h2M412 228h2M453 298h2M505 304h2M422 311h2M422 229h2M519 294h2M466 302h2M497 292h2M480 245h2M407 333h2M487 300h2M452 288h2M427 337h2M464 300h2M457 320h2M460 309h2M413 300h2M507 263h2M442 314h2M473 304h2M401 300h2M413 252h2M461 271h2M468 308h2M421 259h2M416 263h2M415 258h2M440 246h2M406 233h2M459 284h2M474 337h2M375 325h2M486 297h2M316 316h2M454 306h2M365 334h2M325 313h2M364 277h2M433 272h2M444 266h2M303 309h2M449 263h2M485 278h2M409 316h2M443 246h2M517 322h2M369 271h2M278 260h2M439 293h2M319 287h2M513 293h2M358 347h2M433 305h2M356 254h2M316 289h2M384 315h2M440 311h2M416 272h2M331 283h2M380 264h2M320 301h2M408 283h2M436 297h2M327 305h2M484 348h2M508 278h2M382 297h2M443 306h2M387 345h2M348 271h2M457 327h2M479 270h2M478 319h2M527 264h2M416 295h2M286 281h2M481 289h2M348 332h2M471 336h2M343 302h2M474 283h2M346 331h2M512 267h2M327 300h2M444 299h2M350 309h2M331 302h2M459 277h2M328 290h2M282 281h2M347 332h2M369 279h2M303 266h2M395 297h2M482 284h2M476 312h2M400 240h2M307 328h2M501 311h2M455 291h2M373 283h2" stroke="#555" stroke-width="2" stroke-opacity="0.75"/><rect x="66.2" y="21" width="2" height="28" fill="#222" opacity=".9"/><ellipse cx="80.0" cy="35.6" rx="15.0" ry="5.8" transform="rotate(0 80.0 35.6)" fill="rgba(0,0,0,0.06)" stroke="#888" stroke-width="0.5" opacity="1"/><ellipse cx="79.0" cy="35.6" rx="13.0" ry="4.3" transform="rotate(0 79.0 35.6)" fill="rgba(0,0,0,0.08)" stroke="#555" stroke-width="0.55" opacity="1"/><ellipse cx="78.5" cy="35.6" rx="11.5" ry="2.8" transform="rotate(0 78.5 35.6)" fill="rgba(0,0,0,0.1)" stroke="#333" stroke-width="0.6" opacity="1"/><ellipse cx="78.0" cy="35.6" rx="10.0" ry="1.3" transform="rotate(0 78.0 35.6)" fill="rgba(0,0,0,0.3)" stroke="#222" stroke-width="0.8" opacity="1"/><ellipse cx="89.0" cy="52.5" rx="15.5" ry="6.5" transform="rotate(-42 89.0 52.5)" fill="#fff" stroke="#999" stroke-width="0.5" opacity="1"/><ellipse cx="89.6" cy="52.0" rx="12.0" ry="4.8" transform="rotate(-42 89.6 52.0)" fill="none" stroke="#999" stroke-width="0.5" opacity="1"/><ellipse cx="90.2" cy="51.5" rx="9.0" ry="3.4" transform="rotate(-42 90.2 51.5)" fill="none" stroke="#999" stroke-width="0.5" opacity="1"/><ellipse cx="90.8" cy="51.0" rx="6.0" ry="2.2" transform="rotate(-42 90.8 51.0)" fill="none" stroke="#aaa" stroke-width="0.5" opacity="1"/><ellipse cx="91.4" cy="50.5" rx="3.0" ry="1.1" transform="rotate(-42 91.4 50.5)" fill="none" stroke="#bbb" stroke-width="0.5" opacity="1"/><ellipse cx="100.0" cy="41.5" rx="24.0" ry="9.0" transform="rotate(-44 100.0 41.5)" fill="none" stroke="#aaa" stroke-width="0.5" opacity="1"/><ellipse cx="108.0" cy="38.5" rx="11.5" ry="4.2" transform="rotate(-48 108.0 38.5)" fill="rgba(0,0,0,0.12)" stroke="#555" stroke-width="0.5" opacity="1"/><ellipse cx="108.0" cy="38.5" rx="9.0" ry="2.8" transform="rotate(-48 108.0 38.5)" fill="rgba(0,0,0,0.15)" stroke="#333" stroke-width="0.6" opacity="1"/><ellipse cx="108.5" cy="38.0" rx="6.5" ry="1.6" transform="rotate(-48 108.5 38.0)" fill="rgba(0,0,0,0.35)" stroke="#222" stroke-width="0.7" opacity="1"/><path d="M113 33.5 L118 29.0" stroke="#999" stroke-width=".6"/><ellipse cx="110.5" cy="67.5" rx="3.2" ry="4.2" transform="rotate(0 110.5 67.5)" fill="none" stroke="#888" stroke-width="0.5" opacity="1"/><ellipse cx="110.5" cy="68.0" rx="6.0" ry="7.5" transform="rotate(0 110.5 68.0)" fill="none" stroke="#ccc" stroke-width="0.5" opacity="1"/></g><clipPath id="cA85"><rect x="66.2" y="106.2" width="68.2" height="67.99999999999999"/></clipPath><g clip-path="url(#cA85)"><path transform="scale(.25)" d="M383 586h2M325 551h2M363 585h2M296 657h2M407 621h2M332 596h2M285 535h2M296 517h2M327 582h2M365 660h2M353 614h2M307 605h2M343 544h2M331 565h2M345 589h2M312 529h2M372 480h2M306 649h2M369 482h2M461 433h2M405 649h2M353 521h2M375 510h2M323 620h2M283 549h2M344 498h2M392 586h2M299 534h2M340 531h2M383 566h2M312 508h2M364 617h2M406 617h2M296 532h2M402 584h2M325 630h2M317 553h2M314 466h2M377 505h2M309 529h2M371 564h2M337 481h2M332 491h2M351 587h2M335 674h2M361 599h2M382 625h2M274 623h2M361 618h2M358 503h2M280 663h2M348 494h2M334 555h2M350 599h2M296 504h2M310 562h2M323 492h2M313 673h2M285 480h2M349 599h2M358 510h2M282 536h2M331 605h2M381 572h2M379 495h2M269 552h2M331 543h2M314 640h2M446 569h2M335 606h2M424 506h2M363 576h2M338 533h2M304 561h2M329 507h2M411 561h2M270 625h2M300 594h2M335 581h2M344 538h2M338 674h2M357 513h2M270 680h2M318 676h2M362 572h2M359 601h2M393 591h2M343 577h2M401 610h2M288 535h2M318 518h2M323 590h2M384 568h2M436 564h2M489 620h2M345 668h2M270 667h2M324 606h2M320 603h2M340 509h2M381 604h2M365 620h2M389 567h2M271 496h2M401 605h2M341 545h2M320 532h2M440 580h2M307 500h2M301 605h2M283 636h2M300 561h2M269 519h2M341 586h2M331 620h2M384 585h2M362 616h2M339 591h2M320 495h2M288 608h2M357 651h2M339 613h2M400 620h2M307 558h2M342 517h2M359 621h2M313 671h2M322 557h2M325 531h2M416 600h2M268 563h2M295 617h2M335 655h2M371 611h2M347 579h2M367 616h2M302 594h2M462 563h2M324 532h2M339 584h2M293 623h2M366 589h2M412 600h2M353 633h2M379 592h2M352 659h2M295 550h2M286 574h2M348 462h2M337 602h2M344 518h2M277 512h2M335 619h2M392 579h2M279 534h2M293 559h2M358 519h2M392 622h2M314 631h2M320 647h2M291 493h2M332 547h2M405 546h2M301 633h2M404 586h2M365 569h2M411 497h2M400 564h2M268 510h2M307 515h2M394 638h2M349 514h2M330 532h2M406 584h2M282 587h2M341 526h2M317 649h2M290 520h2M325 532h2M315 596h2M419 475h2M332 558h2M320 620h2M314 561h2M328 620h2M336 577h2M334 516h2M296 513h2M345 531h2M285 580h2M361 476h2M417 570h2M331 623h2M339 537h2M441 512h2M331 612h2M285 563h2M355 693h2M293 566h2M368 572h2M278 589h2M341 591h2M390 621h2M356 584h2M283 561h2M341 525h2M410 680h2M317 589h2M325 634h2M325 575h2M288 603h2M302 596h2M342 625h2M335 621h2M292 600h2M325 578h2M339 617h2M274 574h2M310 474h2M320 602h2M327 617h2M319 568h2M318 586h2M427 587h2M345 536h2M300 644h2M283 521h2M331 546h2M430 445h2M353 605h2M282 534h2M357 653h2M292 486h2M383 647h2M320 453h2M406 558h2M390 566h2M318 545h2M407 643h2M421 549h2M271 568h2M331 563h2M313 552h2M314 585h2M297 553h2M329 636h2M362 589h2M388 594h2M422 638h2M334 546h2M378 595h2M331 491h2M373 610h2M274 622h2M310 588h2M356 526h2M308 460h2M292 474h2M380 587h2M306 586h2M317 600h2M351 517h2M321 615h2M418 549h2M319 451h2M330 545h2M318 518h2M373 489h2M321 669h2M338 592h2M329 507h2M334 589h2M287 586h2M396 624h2M365 605h2M294 507h2M295 575h2M367 580h2M286 458h2M324 577h2M324 546h2M303 605h2M333 574h2M289 536h2M344 516h2M276 551h2M394 578h2M406 561h2M321 496h2M308 643h2M352 606h2M370 568h2M326 574h2M368 592h2M360 576h2M299 554h2M291 620h2M451 550h2M282 567h2M398 560h2M365 573h2M339 540h2M312 588h2M356 608h2M343 494h2M322 491h2M308 530h2M334 492h2M282 536h2M295 615h2M343 524h2M390 499h2M283 624h2M327 555h2M352 503h2M373 569h2M382 627h2M380 595h2M366 427h2M269 540h2M368 642h2M306 521h2M436 571h2M294 619h2M417 493h2M411 553h2M407 548h2M380 677h2M419 604h2M325 541h2M322 525h2M323 436h2M313 597h2M277 537h2M364 507h2M333 617h2M360 588h2M295 535h2M341 616h2M296 510h2M388 581h2M378 659h2M369 608h2M292 532h2M367 648h2M403 688h2M351 579h2M384 569h2M333 514h2M361 494h2M376 485h2M315 629h2M297 571h2M313 448h2M351 590h2M283 598h2M298 516h2M336 533h2M446 487h2M371 619h2M354 627h2M318 513h2M291 584h2M347 496h2M419 624h2M377 506h2M316 540h2M316 510h2M357 580h2M398 578h2M333 618h2M322 555h2M304 603h2M315 537h2M300 597h2M310 481h2M353 587h2M394 622h2M308 559h2M274 655h2M357 641h2M321 461h2M410 573h2M367 596h2M311 544h2M419 616h2M320 471h2M344 596h2M332 503h2M298 503h2M346 611h2M347 597h2M311 560h2M438 579h2M338 479h2M335 630h2M369 571h2M307 560h2M390 558h2M346 628h2M396 542h2M400 588h2M336 591h2M268 527h2M331 600h2M318 561h2M383 641h2M373 634h2M317 552h2M312 654h2M326 518h2M359 663h2M340 632h2M315 542h2M303 561h2M424 508h2M415 516h2M325 611h2M366 583h2M326 578h2M281 543h2M274 619h2M323 597h2M303 542h2M281 545h2M408 637h2M313 557h2M296 578h2M391 493h2M380 499h2M295 475h2M437 571h2M348 533h2M387 459h2M337 683h2M318 569h2M337 618h2M345 587h2M319 584h2M339 644h2M380 513h2M314 579h2M395 567h2M331 539h2M414 623h2M331 495h2M298 598h2M301 614h2M353 583h2M367 594h2M295 551h2M448 505h2M313 623h2M328 526h2M272 596h2M385 641h2M339 622h2M286 577h2M303 577h2M372 624h2M288 634h2M313 515h2M328 492h2M336 583h2M326 596h2M321 568h2M295 545h2M332 578h2M322 593h2M353 614h2M398 594h2M335 514h2M291 544h2M349 579h2M366 579h2M350 584h2M310 514h2M360 590h2M325 546h2M445 529h2M326 582h2M406 530h2M350 522h2M325 531h2M313 498h2M325 530h2M336 524h2M432 540h2M305 488h2M333 484h2M355 495h2M286 474h2M290 503h2M370 471h2M349 521h2M319 480h2M346 517h2M355 518h2M395 476h2M289 525h2M305 550h2M301 523h2M359 482h2M337 525h2M330 546h2M378 488h2M326 488h2M348 487h2M364 517h2M367 505h2M312 541h2M341 524h2M408 516h2M387 472h2M362 502h2M314 508h2M337 548h2M286 536h2M300 519h2M301 524h2M369 498h2M322 474h2M335 529h2M293 535h2M321 506h2M317 525h2M297 478h2M280 508h2M277 526h2M332 535h2M387 500h2M331 566h2M270 530h2M293 509h2M324 544h2M275 495h2M298 518h2M268 499h2M370 504h2M350 521h2M303 471h2M367 512h2M367 460h2M278 533h2M347 507h2M326 526h2M305 518h2M327 456h2M302 541h2M301 505h2M291 496h2M374 502h2M271 433h2M293 461h2M354 462h2M361 519h2M282 526h2M362 476h2M329 500h2M361 491h2M322 486h2M333 551h2M292 509h2M384 492h2M279 481h2M338 520h2M312 509h2M324 525h2M308 492h2M297 465h2M317 493h2M341 483h2M298 484h2M267 524h2M296 518h2M294 521h2M327 503h2M358 512h2M344 525h2M315 500h2M334 497h2M336 534h2M359 498h2M312 533h2M299 502h2M353 495h2M310 548h2M331 484h2M344 508h2M328 494h2M317 502h2M333 541h2M335 467h2M271 469h2M280 520h2M337 493h2M330 489h2M277 541h2M381 502h2M315 492h2M316 523h2M318 531h2M374 515h2M333 505h2M334 480h2M337 512h2M276 558h2M271 486h2M331 460h2M280 470h2M271 504h2M333 533h2M346 495h2M371 495h2M288 543h2M355 512h2M353 528h2M285 539h2M342 487h2M316 478h2M319 520h2M330 460h2M301 519h2M332 534h2M286 511h2M337 523h2M290 511h2M344 505h2M318 544h2M340 516h2M337 501h2M402 542h2M313 483h2M416 493h2M272 514h2M301 519h2M333 553h2M346 506h2M371 500h2M300 560h2M278 495h2M319 481h2M280 494h2M299 483h2M432 524h2M353 470h2M316 478h2M354 501h2M319 504h2M289 470h2M345 473h2M283 513h2M366 513h2M327 507h2M358 462h2M335 484h2M299 521h2M370 451h2M314 554h2M322 472h2M363 489h2M304 513h2M395 559h2M312 551h2M292 487h2M299 563h2M333 511h2M300 503h2M365 492h2M322 516h2M363 509h2M400 501h2M288 495h2M366 513h2M278 515h2M343 523h2M280 529h2M473 431h2M420 456h2M366 581h2M424 504h2M471 497h2M388 489h2M469 466h2M444 481h2M409 460h2M424 509h2M421 553h2M409 478h2M447 491h2M439 539h2M426 504h2M364 515h2M416 530h2M326 573h2M381 586h2M398 555h2M410 521h2M372 591h2M441 496h2M457 456h2M425 519h2M430 485h2M414 495h2M457 490h2M448 528h2M468 436h2M389 579h2M419 468h2M429 462h2M388 506h2M393 503h2M421 501h2M437 470h2M435 532h2M438 464h2M433 454h2M447 462h2M454 484h2M416 517h2M516 519h2M444 479h2M403 553h2M413 474h2M486 463h2M443 496h2M435 494h2M407 528h2M487 468h2M491 478h2M446 511h2M402 542h2M446 546h2M432 486h2M425 529h2M426 464h2M407 477h2M376 513h2M396 545h2M442 471h2M396 554h2M326 550h2M453 486h2M448 465h2M427 472h2M376 509h2M395 556h2M417 471h2M420 468h2M382 480h2M386 554h2M432 455h2M407 541h2M440 487h2M468 474h2M398 487h2M403 551h2M384 573h2M427 491h2M444 490h2M453 454h2M409 508h2M495 448h2M461 526h2M377 582h2M424 478h2M408 502h2M437 515h2M391 575h2M431 536h2M452 505h2M455 497h2M410 490h2M453 488h2M430 524h2M510 446h2M413 553h2M470 471h2M436 492h2M446 478h2M475 432h2M338 584h2M435 498h2M411 489h2M459 440h2M439 473h2M403 564h2M327 581h2M429 482h2M443 474h2M438 548h2M411 508h2M450 487h2M411 493h2M418 455h2M490 448h2M461 460h2M464 478h2M496 491h2M418 514h2M368 457h2M433 472h2M477 479h2M430 536h2M485 446h2M412 557h2M270 528h2M275 556h2M273 486h2M268 547h2M271 510h2M274 545h2M273 545h2M272 435h2M275 561h2M273 559h2M271 433h2M276 534h2M278 481h2M270 479h2M271 529h2M272 438h2M277 563h2M273 431h2M269 463h2M274 478h2M269 435h2M272 576h2M272 572h2M271 457h2M273 561h2M272 479h2M273 471h2M275 537h2M273 577h2M274 482h2M270 554h2M277 439h2M276 502h2M278 452h2M271 437h2M276 490h2M272 466h2M277 479h2M276 582h2M270 464h2M272 547h2M274 538h2M272 511h2M276 463h2M275 458h2M270 469h2M277 569h2M275 500h2M273 571h2M272 450h2M278 476h2M276 432h2M271 460h2M278 525h2M276 564h2M273 544h2M276 539h2M269 485h2M274 434h2M268 528h2M268 436h2M269 555h2M269 446h2M278 428h2M268 588h2M271 451h2M271 519h2M274 434h2M278 585h2M276 537h2M274 473h2M276 430h2M273 434h2M276 511h2M272 571h2M271 528h2M277 457h2M272 461h2M276 584h2M274 496h2M270 554h2M272 542h2M273 470h2M276 457h2M277 547h2M267 582h2M276 585h2M269 476h2M269 435h2M275 586h2M272 474h2M270 563h2M275 464h2M277 581h2M273 504h2M274 561h2M276 522h2M269 550h2M278 436h2M267 438h2M276 568h2M267 573h2M269 541h2M272 522h2M271 576h2M270 532h2M273 562h2M271 463h2M267 526h2M275 536h2M270 548h2M276 543h2M270 572h2M269 452h2M268 575h2M269 462h2M267 564h2M268 521h2M274 479h2M267 556h2M267 443h2M269 462h2M267 557h2M273 557h2M276 436h2M276 510h2M271 541h2M275 477h2M275 434h2M458 674h2M487 622h2M474 622h2M415 648h2M388 641h2M479 647h2M468 654h2M466 641h2M444 681h2M492 651h2M441 686h2M425 668h2M481 638h2M471 632h2M421 654h2M446 656h2M469 524h2M455 571h2M449 685h2M398 643h2M444 568h2M464 637h2M396 602h2M408 607h2M435 667h2M503 614h2M459 662h2M419 643h2M462 673h2M478 629h2M415 644h2M471 641h2M464 642h2M467 682h2M494 682h2M419 691h2M498 597h2M470 646h2M475 680h2M407 618h2M437 593h2M415 639h2M440 577h2M431 655h2M412 603h2M490 683h2M401 587h2M457 593h2M462 545h2M384 592h2M474 630h2M398 654h2M466 627h2M480 641h2M439 669h2M460 667h2M402 656h2M422 680h2M469 610h2M414 636h2M405 570h2M450 663h2M504 624h2M431 573h2M453 667h2M439 679h2M447 691h2M455 598h2M428 581h2M397 646h2M415 672h2M465 656h2M394 663h2M414 612h2M471 592h2M426 571h2M498 674h2M459 644h2M463 610h2M480 618h2M422 683h2M442 656h2M434 555h2M461 588h2M476 580h2M394 647h2M412 668h2M405 619h2M470 613h2M462 661h2M398 594h2M455 566h2M466 663h2M441 586h2M466 620h2M486 553h2M418 654h2M404 662h2M412 639h2M472 666h2M420 674h2M478 636h2M453 528h2M396 617h2M454 657h2M492 573h2M447 667h2M409 635h2M499 683h2M461 542h2M532 628h2M419 645h2M444 664h2M453 593h2M433 677h2M468 600h2M490 634h2M471 612h2M405 656h2M453 655h2M432 653h2M469 634h2M459 587h2M343 690h2M527 652h2M393 603h2M426 669h2M293 662h2M435 658h2M319 661h2M292 692h2M410 607h2M497 681h2M328 654h2M485 571h2M472 642h2M399 610h2M330 630h2M312 694h2M304 620h2M377 644h2M457 670h2M378 632h2M403 670h2M469 652h2M328 633h2M384 624h2M295 634h2M402 578h2M385 640h2M312 589h2M292 641h2M376 665h2M368 631h2M462 681h2M455 677h2M433 669h2M463 657h2M405 649h2M383 632h2M398 652h2M319 581h2M421 593h2M419 648h2M315 619h2M403 578h2M405 644h2M407 620h2M367 587h2M409 694h2M412 656h2M329 690h2M345 670h2M408 613h2M474 644h2M413 658h2M398 632h2M405 623h2M293 622h2M364 644h2M485 590h2M409 573h2M325 628h2M411 646h2M392 618h2" stroke="#555" stroke-width="2" stroke-opacity="0.75"/><rect x="66.2" y="106" width="2" height="28" fill="#222" opacity=".9"/><path d="M64 115.6 C75 114.4 86 113.2 93.0 118.0 C96.0 122.2 86 126.4 64 125.8" fill="rgba(0,0,0,0.025)" stroke="#999" stroke-width=".65"/><path d="M64 116.9 C75 115.9 86 115.0 91.8 118.7 C94.8 121.9 86 125.1 64 124.7" fill="rgba(0,0,0,0.025)" stroke="#777" stroke-width=".65"/><path d="M64 118.0 C75 117.4 86 116.7 90.6 119.3 C93.6 121.7 86 124.0 64 123.6" fill="rgba(0,0,0,0.025)" stroke="#666" stroke-width=".65"/><path d="M64 119.2 C75 118.8 86 118.4 89.4 120.0 C92.4 121.4 86 122.8 64 122.6" fill="rgba(0,0,0,0.025)" stroke="#555" stroke-width=".65"/><path d="M64 120.3 C75 120.1 86 120.0 88.2 120.6 C91.2 121.2 86 121.7 64 121.6" fill="rgba(0,0,0,0.025)" stroke="#444" stroke-width=".65"/><ellipse cx="92.5" cy="135.5" rx="15.5" ry="6.5" transform="rotate(-42 92.5 135.5)" fill="#fff" stroke="#999" stroke-width="0.5" opacity="1"/><ellipse cx="93.1" cy="135.0" rx="12.0" ry="4.8" transform="rotate(-42 93.1 135.0)" fill="none" stroke="#999" stroke-width="0.5" opacity="1"/><ellipse cx="93.7" cy="134.5" rx="9.0" ry="3.4" transform="rotate(-42 93.7 134.5)" fill="none" stroke="#999" stroke-width="0.5" opacity="1"/><ellipse cx="94.3" cy="134.0" rx="6.0" ry="2.2" transform="rotate(-42 94.3 134.0)" fill="none" stroke="#aaa" stroke-width="0.5" opacity="1"/><ellipse cx="94.9" cy="133.5" rx="3.0" ry="1.1" transform="rotate(-42 94.9 133.5)" fill="none" stroke="#bbb" stroke-width="0.5" opacity="1"/><ellipse cx="103.5" cy="124.5" rx="24.0" ry="9.0" transform="rotate(-44 103.5 124.5)" fill="none" stroke="#aaa" stroke-width="0.5" opacity="1"/><ellipse cx="111.5" cy="119.5" rx="11.5" ry="4.2" transform="rotate(-48 111.5 119.5)" fill="rgba(0,0,0,0.12)" stroke="#555" stroke-width="0.5" opacity="1"/><ellipse cx="111.5" cy="119.5" rx="9.0" ry="2.8" transform="rotate(-48 111.5 119.5)" fill="rgba(0,0,0,0.15)" stroke="#333" stroke-width="0.6" opacity="1"/><ellipse cx="112.0" cy="119.0" rx="6.5" ry="1.6" transform="rotate(-48 112.0 119.0)" fill="rgba(0,0,0,0.35)" stroke="#222" stroke-width="0.7" opacity="1"/><path d="M116.5 114.5 L121.5 110.0" stroke="#999" stroke-width=".6"/><ellipse cx="110.5" cy="156.0" rx="5.5" ry="7.5" transform="rotate(0 110.5 156.0)" fill="#fff" stroke="#777" stroke-width="0.6" opacity="1"/><ellipse cx="110.0" cy="154.0" rx="1.5" ry="1.5" transform="rotate(0 110.0 154.0)" fill="none" stroke="#999" stroke-width="0.5" opacity="1"/></g><clipPath id="cB0"><rect x="161" y="21.6" width="68.80000000000001" height="68.6"/></clipPath><g clip-path="url(#cB0)"><path transform="scale(.25)" d="M829 219h2M857 249h2M831 253h2M751 294h2M808 183h2M763 293h2M782 243h2M831 247h2M727 276h2M845 289h2M878 260h2M837 329h2M786 337h2M883 284h2M888 288h2M758 304h2M816 263h2M807 316h2M827 201h2M823 281h2M765 216h2M782 206h2M817 297h2M891 307h2M849 304h2M864 219h2M833 258h2M794 215h2M776 225h2M741 269h2M799 246h2M816 281h2M772 234h2M723 116h2M707 326h2M712 266h2M871 214h2M878 343h2M830 199h2M899 288h2M656 270h2M799 338h2M840 312h2M710 275h2M657 240h2M649 291h2M837 356h2M651 342h2M752 233h2M862 271h2M662 286h2M837 278h2M764 239h2M752 249h2" stroke="#999" stroke-width="2" stroke-opacity="0.7"/><rect x="192.5" y="36.5" width="18.5" height="17.5" rx="5" fill="rgba(0,0,0,0.18)"/><ellipse cx="201.0" cy="45.5" rx="8.5" ry="8.5" transform="rotate(0 201.0 45.5)" fill="rgba(0,0,0,0.13)" stroke="#444" stroke-width="0.5" opacity="1"/><ellipse cx="201.0" cy="45.5" rx="7.1" ry="7.1" transform="rotate(0 201.0 45.5)" fill="rgba(0,0,0,0.13)" stroke="#444" stroke-width="0.5" opacity="1"/><ellipse cx="201.0" cy="45.5" rx="5.6" ry="5.6" transform="rotate(0 201.0 45.5)" fill="rgba(0,0,0,0.13)" stroke="#444" stroke-width="0.5" opacity="1"/><ellipse cx="201.0" cy="45.5" rx="4.2" ry="4.2" transform="rotate(0 201.0 45.5)" fill="rgba(0,0,0,0.13)" stroke="#444" stroke-width="0.5" opacity="1"/><ellipse cx="201.0" cy="45.5" rx="2.7" ry="2.7" transform="rotate(0 201.0 45.5)" fill="rgba(0,0,0,0.13)" stroke="#444" stroke-width="0.5" opacity="1"/><ellipse cx="201.0" cy="45.5" rx="1.3" ry="1.3" transform="rotate(0 201.0 45.5)" fill="rgba(0,0,0,0.13)" stroke="#444" stroke-width="0.5" opacity="1"/><path d="M191 39 L181 41.5 L183 46 L191 52" fill="none" stroke="#999" stroke-width=".6"/><path d="M192 55 L195 58 L203 59.5 L204 55" fill="none" stroke="#999" stroke-width=".6"/></g><clipPath id="cB85"><rect x="161" y="106.6" width="68.80000000000001" height="68.6"/></clipPath><g clip-path="url(#cB85)"><path transform="scale(.25)" d="M782 649h2M896 540h2M784 573h2M784 512h2M806 602h2M820 514h2M796 484h2M845 524h2M788 556h2M773 522h2M716 679h2M814 596h2M902 576h2M828 583h2M858 610h2M817 567h2M815 647h2M702 575h2M781 565h2M707 623h2M761 569h2M777 488h2M780 479h2M756 564h2M801 585h2M822 513h2M772 545h2M793 548h2M761 674h2M804 563h2M789 570h2M868 609h2M817 641h2M896 584h2M719 615h2M773 482h2M772 641h2M859 622h2M767 630h2M714 599h2M778 596h2M850 668h2M677 664h2M777 669h2M789 674h2M701 639h2M820 682h2M716 651h2M801 647h2M801 674h2M849 650h2M899 665h2M896 687h2" stroke="#999" stroke-width="2" stroke-opacity="0.7"/><rect x="192.5" y="121.5" width="18.5" height="17.5" rx="5" fill="rgba(0,0,0,0.18)"/><ellipse cx="201.0" cy="130.5" rx="8.5" ry="8.5" transform="rotate(0 201.0 130.5)" fill="rgba(0,0,0,0.13)" stroke="#444" stroke-width="0.5" opacity="1"/><ellipse cx="201.0" cy="130.5" rx="7.1" ry="7.1" transform="rotate(0 201.0 130.5)" fill="rgba(0,0,0,0.13)" stroke="#444" stroke-width="0.5" opacity="1"/><ellipse cx="201.0" cy="130.5" rx="5.6" ry="5.6" transform="rotate(0 201.0 130.5)" fill="rgba(0,0,0,0.13)" stroke="#444" stroke-width="0.5" opacity="1"/><ellipse cx="201.0" cy="130.5" rx="4.2" ry="4.2" transform="rotate(0 201.0 130.5)" fill="rgba(0,0,0,0.13)" stroke="#444" stroke-width="0.5" opacity="1"/><ellipse cx="201.0" cy="130.5" rx="2.7" ry="2.7" transform="rotate(0 201.0 130.5)" fill="rgba(0,0,0,0.13)" stroke="#444" stroke-width="0.5" opacity="1"/><ellipse cx="201.0" cy="130.5" rx="1.3" ry="1.3" transform="rotate(0 201.0 130.5)" fill="rgba(0,0,0,0.13)" stroke="#444" stroke-width="0.5" opacity="1"/><path d="M191 124 L181 126.5 L183 131 L191 137" fill="none" stroke="#999" stroke-width=".6"/><path d="M192 140 L195 143 L203 144.5 L204 140" fill="none" stroke="#999" stroke-width=".6"/></g>
<rect x="66.20" y="21.20" width="68.20" height="68.00" fill="none" stroke="#111" stroke-width="1.4"/>
<rect x="161.40" y="21.70" width="68.60" height="68.10" fill="none" stroke="#111" stroke-width="1.4"/>
<path d="M96.00 89.00 L100.80 68.20 L104.00 61.00 L107.50 59.50 L118.10 57.60 L126.60 66.00 L126.20 89.00" fill="none" stroke="#111" stroke-width="1.5" stroke-linejoin="round"/>
<rect x="161.40" y="34.80" width="29.20" height="20.00" fill="none" stroke="#111" stroke-width="1.5"/>
<rect x="191.80" y="34.80" width="20.00" height="20.00" fill="none" stroke="#111" stroke-width="1.5"/>
<line x1="131.40" y1="66.70" x2="151.40" y2="66.70" stroke="#111" stroke-width="1.4"/>
<path d="M157.40 66.70 L150.90 63.50 L150.90 69.90 Z" fill="#111"/>
<text x="67.7" y="94.6" font-size="3.9" fill="#7a7a7a" text-anchor="middle">10<tspan font-size="2.7" dy="-1.8">0</tspan></text>
<text x="84.5" y="94.6" font-size="3.9" fill="#7a7a7a" text-anchor="middle">10<tspan font-size="2.7" dy="-1.8">1</tspan></text>
<text x="101.3" y="94.6" font-size="3.9" fill="#7a7a7a" text-anchor="middle">10<tspan font-size="2.7" dy="-1.8">2</tspan></text>
<text x="118.1" y="94.6" font-size="3.9" fill="#7a7a7a" text-anchor="middle">10<tspan font-size="2.7" dy="-1.8">3</tspan></text>
<text x="134.9" y="94.6" font-size="3.9" fill="#7a7a7a" text-anchor="middle">10<tspan font-size="2.7" dy="-1.8">4</tspan></text>
<text x="64.5" y="90.6" font-size="3.9" fill="#7a7a7a" text-anchor="end">10<tspan font-size="2.7" dy="-1.8">0</tspan></text>
<text x="64.5" y="73.6" font-size="3.9" fill="#7a7a7a" text-anchor="end">10<tspan font-size="2.7" dy="-1.8">1</tspan></text>
<text x="64.5" y="56.6" font-size="3.9" fill="#7a7a7a" text-anchor="end">10<tspan font-size="2.7" dy="-1.8">2</tspan></text>
<text x="64.5" y="39.6" font-size="3.9" fill="#7a7a7a" text-anchor="end">10<tspan font-size="2.7" dy="-1.8">3</tspan></text>
<text x="64.5" y="22.6" font-size="3.9" fill="#7a7a7a" text-anchor="end">10<tspan font-size="2.7" dy="-1.8">4</tspan></text>
<text x="162.0" y="95.0" font-size="3.9" fill="#7a7a7a" text-anchor="middle">10<tspan font-size="2.7" dy="-1.8">0</tspan></text>
<text x="179.0" y="95.0" font-size="3.9" fill="#7a7a7a" text-anchor="middle">10<tspan font-size="2.7" dy="-1.8">1</tspan></text>
<text x="196.0" y="95.0" font-size="3.9" fill="#7a7a7a" text-anchor="middle">10<tspan font-size="2.7" dy="-1.8">2</tspan></text>
<text x="213.0" y="95.0" font-size="3.9" fill="#7a7a7a" text-anchor="middle">10<tspan font-size="2.7" dy="-1.8">3</tspan></text>
<text x="230.0" y="95.0" font-size="3.9" fill="#7a7a7a" text-anchor="middle">10<tspan font-size="2.7" dy="-1.8">4</tspan></text>
<text x="159.4" y="91.2" font-size="3.9" fill="#7a7a7a" text-anchor="end">10<tspan font-size="2.7" dy="-1.8">0</tspan></text>
<text x="159.4" y="74.2" font-size="3.9" fill="#7a7a7a" text-anchor="end">10<tspan font-size="2.7" dy="-1.8">1</tspan></text>
<text x="159.4" y="57.2" font-size="3.9" fill="#7a7a7a" text-anchor="end">10<tspan font-size="2.7" dy="-1.8">2</tspan></text>
<text x="159.4" y="40.2" font-size="3.9" fill="#7a7a7a" text-anchor="end">10<tspan font-size="2.7" dy="-1.8">3</tspan></text>
<text x="159.4" y="23.2" font-size="3.9" fill="#7a7a7a" text-anchor="end">10<tspan font-size="2.7" dy="-1.8">4</tspan></text>
<rect x="66.20" y="106.20" width="68.20" height="68.00" fill="none" stroke="#111" stroke-width="1.4"/>
<rect x="161.40" y="106.70" width="68.60" height="68.10" fill="none" stroke="#111" stroke-width="1.4"/>
<path d="M96.00 174.00 L100.80 153.20 L104.00 146.00 L107.50 144.50 L118.10 142.60 L126.60 151.00 L126.20 174.00" fill="none" stroke="#111" stroke-width="1.5" stroke-linejoin="round"/>
<rect x="161.40" y="119.80" width="29.20" height="20.00" fill="none" stroke="#111" stroke-width="1.5"/>
<rect x="191.80" y="119.80" width="20.00" height="20.00" fill="none" stroke="#111" stroke-width="1.5"/>
<line x1="131.40" y1="151.70" x2="151.40" y2="151.70" stroke="#111" stroke-width="1.4"/>
<path d="M157.40 151.70 L150.90 148.50 L150.90 154.90 Z" fill="#111"/>
<text x="67.7" y="179.6" font-size="3.9" fill="#7a7a7a" text-anchor="middle">10<tspan font-size="2.7" dy="-1.8">0</tspan></text>
<text x="84.5" y="179.6" font-size="3.9" fill="#7a7a7a" text-anchor="middle">10<tspan font-size="2.7" dy="-1.8">1</tspan></text>
<text x="101.3" y="179.6" font-size="3.9" fill="#7a7a7a" text-anchor="middle">10<tspan font-size="2.7" dy="-1.8">2</tspan></text>
<text x="118.1" y="179.6" font-size="3.9" fill="#7a7a7a" text-anchor="middle">10<tspan font-size="2.7" dy="-1.8">3</tspan></text>
<text x="134.9" y="179.6" font-size="3.9" fill="#7a7a7a" text-anchor="middle">10<tspan font-size="2.7" dy="-1.8">4</tspan></text>
<text x="64.5" y="175.6" font-size="3.9" fill="#7a7a7a" text-anchor="end">10<tspan font-size="2.7" dy="-1.8">0</tspan></text>
<text x="64.5" y="158.6" font-size="3.9" fill="#7a7a7a" text-anchor="end">10<tspan font-size="2.7" dy="-1.8">1</tspan></text>
<text x="64.5" y="141.6" font-size="3.9" fill="#7a7a7a" text-anchor="end">10<tspan font-size="2.7" dy="-1.8">2</tspan></text>
<text x="64.5" y="124.6" font-size="3.9" fill="#7a7a7a" text-anchor="end">10<tspan font-size="2.7" dy="-1.8">3</tspan></text>
<text x="64.5" y="107.6" font-size="3.9" fill="#7a7a7a" text-anchor="end">10<tspan font-size="2.7" dy="-1.8">4</tspan></text>
<text x="162.0" y="180.0" font-size="3.9" fill="#7a7a7a" text-anchor="middle">10<tspan font-size="2.7" dy="-1.8">0</tspan></text>
<text x="179.0" y="180.0" font-size="3.9" fill="#7a7a7a" text-anchor="middle">10<tspan font-size="2.7" dy="-1.8">1</tspan></text>
<text x="196.0" y="180.0" font-size="3.9" fill="#7a7a7a" text-anchor="middle">10<tspan font-size="2.7" dy="-1.8">2</tspan></text>
<text x="213.0" y="180.0" font-size="3.9" fill="#7a7a7a" text-anchor="middle">10<tspan font-size="2.7" dy="-1.8">3</tspan></text>
<text x="230.0" y="180.0" font-size="3.9" fill="#7a7a7a" text-anchor="middle">10<tspan font-size="2.7" dy="-1.8">4</tspan></text>
<text x="159.4" y="176.2" font-size="3.9" fill="#7a7a7a" text-anchor="end">10<tspan font-size="2.7" dy="-1.8">0</tspan></text>
<text x="159.4" y="159.2" font-size="3.9" fill="#7a7a7a" text-anchor="end">10<tspan font-size="2.7" dy="-1.8">1</tspan></text>
<text x="159.4" y="142.2" font-size="3.9" fill="#7a7a7a" text-anchor="end">10<tspan font-size="2.7" dy="-1.8">2</tspan></text>
<text x="159.4" y="125.2" font-size="3.9" fill="#7a7a7a" text-anchor="end">10<tspan font-size="2.7" dy="-1.8">3</tspan></text>
<text x="159.4" y="108.2" font-size="3.9" fill="#7a7a7a" text-anchor="end">10<tspan font-size="2.7" dy="-1.8">4</tspan></text>
<line x1="48.60" y1="24.00" x2="48.60" y2="135.20" stroke="#111" stroke-width="1.2"/>
<line x1="145.60" y1="20.60" x2="145.60" y2="149.30" stroke="#111" stroke-width="1.2"/>
<text x="11.10" y="61.70" font-size="12.5" text-anchor="start" font-weight="normal" font-style="normal" fill="#111" textLength="18.20" lengthAdjust="spacingAndGlyphs">WT</text>
<text x="0.00" y="126.40" font-size="11.7" text-anchor="start" font-weight="normal" font-style="italic" fill="#111" textLength="42.70" lengthAdjust="spacingAndGlyphs"><tspan>Tpte2</tspan><tspan font-size="8.42" dy="-4.91">-/-</tspan></text>
<text x="170.30" y="32.10" font-size="8.8" text-anchor="start" font-weight="normal" font-style="normal" fill="#111" textLength="17.60" lengthAdjust="spacingAndGlyphs">0.24</text>
<text x="197.20" y="32.10" font-size="8.8" text-anchor="start" font-weight="normal" font-style="normal" fill="#111" textLength="13.00" lengthAdjust="spacingAndGlyphs">9.0</text>
<text x="169.00" y="116.60" font-size="8.8" text-anchor="start" font-weight="normal" font-style="normal" fill="#111" textLength="17.60" lengthAdjust="spacingAndGlyphs">0.26</text>
<text x="194.60" y="116.60" font-size="8.8" text-anchor="start" font-weight="normal" font-style="normal" fill="#111" textLength="13.00" lengthAdjust="spacingAndGlyphs">7.4</text>
<text transform="translate(49.20,180.80) rotate(-90)" x="0" y="0" font-size="10" text-anchor="start" font-weight="normal" font-style="normal" fill="#111" textLength="40.00" lengthAdjust="spacingAndGlyphs">lineage</text>
<text x="68.70" y="194.10" font-size="13" text-anchor="start" font-weight="normal" font-style="normal" fill="#111" textLength="33.30" lengthAdjust="spacingAndGlyphs">AA4.1</text>
<text transform="translate(148.10,180.60) rotate(-90)" x="0" y="0" font-size="11.6" text-anchor="start" font-weight="normal" font-style="normal" fill="#111" textLength="25.40" lengthAdjust="spacingAndGlyphs">CD19</text>
<text x="158.60" y="193.40" font-size="11.7" text-anchor="start" font-weight="normal" font-style="normal" fill="#111" textLength="25.40" lengthAdjust="spacingAndGlyphs">B220</text>
<clipPath id="cc0"><rect x="341.4" y="212.6" width="71.80000000000001" height="82.9"/></clipPath><g clip-path="url(#cc0)"><path transform="scale(.25)" d="M1479 985h3M1513 1007h3M1417 1130h3M1462 1127h3M1390 1054h3M1463 1168h3M1392 1125h3M1408 1086h3M1520 1042h3M1412 1097h3M1388 959h3M1486 1125h3M1387 1149h3M1425 1101h3M1439 1002h3M1411 1141h3M1411 1167h3M1498 1026h3M1464 1137h3M1450 1013h3M1464 1179h3M1393 1104h3M1415 1157h3M1402 1110h3M1467 1138h3M1475 1131h3M1458 1126h3M1429 1138h3M1394 1005h3M1491 995h3M1505 1135h3M1450 989h3M1488 1120h3M1442 1118h3M1383 1051h3M1417 1074h3M1462 1127h3M1464 1156h3M1473 1135h3M1411 1094h3M1497 1053h3M1375 1057h3M1407 1110h3M1422 1169h3M1437 1019h3M1477 1154h3M1450 1124h3M1418 1092h3M1561 1003h3M1514 1137h3M1377 1001h3M1416 1126h3M1509 1036h3M1533 1058h3M1424 1110h3M1479 973h3M1469 1006h3M1423 1117h3M1421 1094h3M1443 1176h3M1455 1015h3M1411 1029h3M1493 1116h3M1435 984h3M1479 1046h3M1410 1166h3M1517 1143h3M1410 1079h3M1401 1075h3M1447 1155h3M1419 1125h3M1453 1014h3M1427 1038h3M1459 1003h3M1385 1025h3M1405 1107h3M1404 1088h3M1436 1009h3M1388 1098h3M1474 1114h3M1418 1177h3M1375 1086h3M1414 1063h3M1436 1017h3M1432 1108h3M1410 1095h3M1413 1032h3M1418 1081h3M1489 1128h3M1385 957h3M1418 1037h3M1387 979h3M1479 1030h3M1485 1032h3M1525 991h3M1398 1064h3M1422 1144h3M1385 1033h3M1551 1046h3M1462 1115h3M1405 1041h3M1386 1090h3M1385 1177h3M1529 1127h3M1479 1032h3M1501 1028h3M1459 980h3M1425 1096h3M1488 1066h3M1508 944h3M1479 1096h3M1386 1002h3M1492 1014h3M1426 1100h3M1416 1085h3M1456 1022h3M1515 979h3M1536 1036h3M1395 1074h3M1500 1023h3M1475 1107h3M1442 1021h3M1412 1108h3M1489 1026h3M1395 1133h3M1386 1077h3M1418 978h3M1445 1122h3M1499 1042h3M1416 1152h3M1427 1108h3M1509 1050h3M1393 1072h3M1388 1036h3M1470 1014h3M1488 953h3M1423 1148h3M1486 998h3M1381 1113h3M1369 1111h3M1425 1017h3M1395 1082h3M1418 1101h3M1442 1125h3M1399 1015h3M1383 1054h3M1493 1154h3M1473 1126h3M1475 1030h3M1469 1119h3M1422 1000h3M1409 1020h3M1502 1006h3M1437 1112h3M1530 1129h3M1488 1076h3M1406 1106h3M1410 1106h3M1511 1055h3M1474 1141h3M1418 1052h3M1405 1131h3M1382 1061h3M1498 1055h3M1400 1073h3M1480 1030h3M1418 1083h3M1414 1036h3M1474 1128h3M1513 1026h3M1491 1162h3M1408 1101h3M1410 1056h3M1464 997h3M1492 1066h3M1439 1160h3M1394 1126h3M1420 1030h3M1526 1031h3M1434 1018h3M1515 1007h3M1488 1145h3M1383 1079h3M1391 1061h3M1547 1034h3M1445 979h3M1433 1132h3M1434 975h3M1429 1028h3M1478 1127h3M1461 991h3M1423 1118h3M1466 1104h3M1397 1142h3M1523 1157h3M1490 1046h3M1497 1061h3M1482 1025h3M1399 1070h3M1414 1064h3M1477 1004h3M1490 1161h3M1463 999h3M1514 1054h3M1482 1091h3M1461 970h3M1407 1081h3M1485 1018h3M1372 971h3M1456 1003h3M1484 1066h3M1467 1104h3M1433 1114h3M1513 1039h3M1412 1067h3M1459 1126h3M1392 1077h3M1413 1067h3M1397 1008h3M1497 1024h3M1534 998h3M1474 1011h3M1463 1018h3M1521 1041h3M1377 1055h3M1471 1164h3M1512 1049h3M1476 1157h3M1477 994h3M1420 1089h3M1479 1024h3M1394 1017h3M1469 989h3M1420 1105h3M1426 1027h3M1575 962h3M1497 1052h3M1408 1068h3M1395 1014h3M1433 1115h3M1492 1040h3M1482 1039h3M1530 1047h3M1508 958h3M1544 1060h3M1401 1077h3M1553 1097h3M1401 1047h3M1513 998h3M1549 1055h3M1512 1035h3M1420 1122h3M1482 981h3M1483 1104h3M1429 1036h3M1443 1002h3M1453 993h3M1409 1114h3M1539 1139h3M1395 1136h3M1536 1016h3M1422 1091h3M1479 997h3M1409 1132h3M1406 1070h3M1494 1017h3M1417 1071h3M1484 1003h3M1396 1123h3M1469 1149h3M1402 1126h3M1419 1108h3M1513 999h3M1409 1021h3M1483 1114h3M1430 995h3M1555 1127h3M1470 1017h3M1413 1153h3M1410 1024h3M1519 1060h3M1411 1070h3M1518 1042h3M1495 1126h3M1495 1010h3M1452 975h3M1402 1100h3M1516 1045h3M1463 1004h3M1461 1150h3M1485 1034h3M1460 1027h3M1421 1097h3M1468 963h3M1459 1135h3M1392 1113h3M1407 1007h3M1428 1006h3M1526 1006h3M1386 1054h3M1501 994h3M1436 1018h3M1493 1119h3M1572 1061h3M1525 1009h3M1435 1026h3M1435 1104h3M1420 1129h3M1522 1129h3M1434 989h3M1490 1061h3M1442 1148h3M1426 1125h3M1494 1003h3M1414 976h3M1387 1092h3M1409 1054h3M1443 992h3M1383 1093h3M1461 1023h3M1534 1025h3M1481 1178h3M1458 1145h3M1454 975h3M1488 1124h3M1507 1132h3M1457 1115h3M1548 1012h3M1430 1004h3M1404 1098h3M1412 1017h3M1443 1111h3M1474 1119h3M1411 1081h3M1427 1123h3M1490 1017h3M1513 1011h3M1417 1013h3M1424 1099h3M1394 1070h3M1455 975h3M1468 1006h3M1445 1117h3M1434 1146h3M1431 1104h3M1444 990h3M1484 1088h3M1398 1076h3M1486 1065h3M1391 1055h3M1476 1117h3M1516 972h3M1508 1157h3M1414 1051h3M1409 1112h3M1397 1131h3M1487 998h3M1486 1061h3M1500 983h3M1507 1062h3M1492 1147h3M1384 1062h3M1446 991h3M1536 1025h3M1404 1085h3M1382 1082h3M1398 1121h3M1396 1075h3M1400 1028h3M1512 1042h3M1441 1144h3M1403 1007h3M1480 988h3M1438 1128h3M1423 1023h3M1430 1032h3M1484 976h3M1406 1018h3M1469 985h3M1414 1036h3M1457 999h3M1501 1053h3M1424 1019h3M1449 1120h3M1422 1101h3M1454 1023h3M1486 992h3M1481 1023h3M1471 1139h3M1478 1038h3M1402 1012h3M1376 1064h3M1409 1121h3M1400 1101h3M1522 963h3M1462 1028h3M1439 996h3M1423 1020h3M1455 1000h3M1513 995h3M1433 1128h3M1479 1117h3M1435 1119h3M1406 1087h3M1483 1044h3M1459 984h3M1466 1139h3M1461 992h3M1441 1132h3M1478 986h3M1413 1101h3M1536 1051h3M1389 960h3M1483 1006h3M1504 1018h3M1455 1152h3M1415 1020h3M1466 987h3M1415 1099h3M1425 1022h3M1404 1074h3M1444 1161h3M1433 967h3M1458 985h3M1500 1065h3M1450 987h3M1510 1046h3M1399 1073h3M1413 1088h3M1405 1060h3M1430 1026h3M1432 1000h3M1486 1120h3M1466 1019h3M1425 1096h3M1457 952h3M1480 1034h3M1404 1056h3M1477 1015h3M1521 1149h3M1464 1123h3M1464 1110h3M1426 1107h3M1438 1140h3M1503 1006h3M1498 1048h3M1469 1018h3M1476 1008h3M1479 1092h3M1483 1041h3M1580 1057h3M1513 1045h3M1495 1022h3M1492 1054h3M1417 1091h3M1404 1022h3M1486 977h3M1485 1049h3M1415 1081h3M1480 1041h3M1446 1109h3M1485 1067h3M1422 1023h3M1429 1103h3M1512 1055h3M1534 969h3M1417 1095h3M1481 1151h3M1375 1124h3M1500 1061h3M1422 1110h3M1411 1026h3M1456 1000h3M1401 1117h3M1434 988h3M1427 1034h3M1399 1111h3M1475 1110h3M1463 1024h3M1428 1031h3M1468 1114h3M1469 1030h3M1487 1080h3M1480 1128h3M1431 1029h3M1383 1093h3M1433 1128h3M1410 1072h3M1486 1009h3M1390 1094h3M1451 1111h3M1486 1158h3M1434 1123h3M1465 965h3M1456 982h3M1407 1111h3M1424 1099h3M1457 1015h3M1483 1007h3M1414 984h3M1522 1142h3M1404 1152h3M1380 1174h3M1492 1019h3M1441 1028h3M1423 1113h3M1423 1110h3M1498 1013h3M1445 1138h3M1463 1162h3M1518 1027h3M1439 999h3M1460 1141h3M1451 1109h3M1456 1137h3M1397 1066h3M1427 1138h3M1532 1143h3M1486 1038h3M1396 1071h3M1444 991h3M1518 1016h3M1428 1100h3M1389 1117h3M1495 1057h3M1411 1049h3M1379 1140h3M1418 1100h3M1518 1009h3M1432 986h3M1484 1080h3M1550 1066h3M1492 992h3M1435 1028h3M1500 1164h3M1529 1041h3M1445 1012h3M1390 1006h3M1415 1104h3M1435 1030h3M1483 1100h3M1424 1041h3M1484 1090h3M1455 1127h3M1420 1116h3M1474 1022h3M1401 1170h3M1408 1026h3M1442 1110h3M1464 944h3M1437 1018h3M1404 1014h3M1469 1021h3M1454 1124h3M1438 963h3M1419 975h3M1567 1134h3M1398 1065h3M1403 985h3M1501 998h3M1375 1168h3M1468 1154h3M1466 1147h3M1436 1118h3M1427 999h3M1479 1144h3M1493 1007h3M1478 983h3M1391 1124h3M1418 1085h3M1438 1121h3M1487 1030h3M1536 1014h3M1476 1128h3M1512 958h3M1500 1135h3M1519 957h3M1436 1142h3M1426 1136h3M1481 997h3M1412 1048h3M1460 1124h3M1448 1119h3M1440 1020h3M1475 1173h3M1419 1174h3M1510 1128h3M1415 1122h3M1500 1043h3M1489 1038h3M1473 1015h3M1420 1124h3M1416 1098h3M1508 1158h3M1403 1139h3M1434 1128h3M1512 1018h3M1505 1126h3M1495 1001h3M1407 1109h3M1397 1119h3M1531 1047h3M1485 1003h3M1483 1080h3M1489 1074h3M1487 1144h3M1465 1125h3M1434 1113h3M1409 1092h3M1515 1049h3M1380 1084h3M1429 1171h3M1433 1028h3M1515 1014h3M1398 1159h3M1397 1078h3M1555 965h3M1398 1141h3M1456 1025h3M1463 1150h3M1509 1175h3M1383 972h3M1510 1047h3M1489 1068h3M1455 1169h3M1387 1096h3M1446 1171h3M1443 1115h3M1498 1158h3M1401 1154h3M1417 1071h3M1556 1093h3M1441 1161h3M1413 1095h3M1449 1027h3M1462 1122h3M1500 1126h3M1554 1095h3M1503 1137h3M1485 1153h3M1517 1049h3M1463 1014h3M1479 1009h3M1432 1032h3M1428 1177h3M1502 1012h3M1464 1123h3M1407 1088h3M1499 1000h3M1440 1157h3M1448 1108h3M1514 1060h3M1400 1057h3M1480 1018h3M1547 1041h3M1485 990h3M1481 1105h3M1499 1133h3M1381 1047h3M1510 1056h3M1444 1119h3M1477 1144h3M1473 1111h3M1434 1026h3M1474 1122h3M1488 1120h3M1503 993h3M1494 1146h3M1478 1038h3M1517 967h3M1473 983h3M1478 1117h3M1472 1133h3M1406 1131h3M1447 1137h3M1490 1144h3M1520 1029h3M1477 1148h3M1554 1003h3M1397 1097h3M1443 1024h3M1473 1034h3M1388 1051h3M1543 1066h3M1382 1114h3M1501 1015h3M1389 1081h3M1487 1017h3M1407 1008h3M1530 1026h3M1451 1016h3M1473 998h3M1495 1018h3M1545 1000h3M1470 1105h3M1447 990h3M1446 1109h3M1503 954h3M1452 1008h3M1479 1129h3M1483 1118h3M1533 1133h3M1435 1111h3M1427 1032h3M1446 969h3M1490 1072h3M1540 1050h3M1497 1163h3M1422 1124h3M1442 1018h3M1419 1131h3M1528 1045h3M1487 1076h3M1394 1032h3M1515 1129h3M1386 1116h3M1512 961h3M1425 993h3M1423 1115h3M1416 1117h3M1386 1026h3M1395 1137h3M1382 1015h3M1484 1083h3M1548 1163h3M1482 1106h3M1379 1028h3M1398 1026h3M1420 1125h3M1384 1105h3M1400 1020h3M1486 1125h3M1488 1114h3M1464 998h3M1426 982h3M1440 1004h3M1374 1108h3M1488 1003h3M1462 1108h3M1444 1114h3M1464 1125h3M1477 1111h3M1522 1132h3M1464 1130h3M1417 1097h3M1409 1049h3M1533 1046h3M1479 1036h3M1412 1168h3M1500 993h3M1380 1029h3M1440 989h3M1407 1075h3M1399 1119h3M1475 1020h3M1464 1134h3M1525 992h3M1448 998h3M1385 1043h3M1473 1129h3M1485 1108h3M1413 1062h3M1497 1050h3M1539 1051h3M1380 1037h3M1450 1010h3M1438 1000h3M1483 1004h3M1485 1049h3M1442 1131h3M1459 973h3M1476 922h3M1394 1074h3M1441 1173h3M1436 1170h3M1515 1039h3M1419 1138h3M1444 1008h3M1438 1021h3M1388 1055h3M1533 1154h3M1477 1141h3M1438 1129h3M1568 1038h3M1397 969h3M1453 1011h3M1467 1005h3M1439 994h3M1481 1140h3M1447 1026h3M1482 1102h3M1485 1110h3M1417 1039h3M1384 1114h3M1481 1025h3M1458 975h3M1402 1039h3M1526 1026h3M1440 1013h3M1484 1072h3M1428 1121h3M1498 962h3M1447 1128h3M1497 1057h3M1402 1035h3M1397 1099h3M1379 1123h3M1383 1073h3M1390 1054h3M1500 1129h3M1482 1050h3M1485 1033h3M1437 1003h3M1492 1005h3M1597 1064h3M1520 945h3M1489 1023h3M1373 1081h3M1426 1032h3M1466 1149h3M1463 1117h3M1382 1101h3M1406 1011h3M1401 1015h3M1479 1124h3M1430 1034h3M1506 996h3M1439 1007h3M1437 1014h3M1392 981h3M1433 1104h3M1400 1047h3M1485 1060h3M1453 1123h3M1411 979h3M1472 1126h3M1429 1028h3M1488 1131h3M1452 962h3M1399 1065h3M1450 1127h3M1401 1145h3M1456 1132h3M1411 1088h3M1389 1053h3M1478 997h3M1391 1082h3M1412 1105h3M1402 974h3M1420 1148h3M1416 1070h3M1465 1020h3M1474 982h3M1486 1147h3M1474 1150h3M1418 1103h3M1490 1029h3M1407 1105h3M1438 1110h3M1473 1147h3M1514 999h3M1418 1050h3M1411 1004h3M1432 1137h3M1486 1072h3M1456 984h3M1407 1081h3M1369 1051h3M1400 1041h3M1387 988h3M1420 1043h3M1393 981h3M1396 1026h3M1401 1072h3M1412 1147h3M1392 1080h3M1392 1032h3M1418 1087h3M1379 978h3M1425 999h3M1393 1084h3M1427 1006h3M1380 1135h3M1380 1123h3M1397 1035h3M1386 1040h3M1380 969h3M1388 972h3M1399 1024h3M1385 1004h3M1386 1144h3M1391 976h3M1384 1066h3M1387 1007h3M1385 1030h3M1401 1050h3M1418 1112h3M1395 1101h3M1391 1010h3M1377 1084h3M1431 985h3M1400 1038h3M1384 1008h3M1387 1006h3M1393 1046h3M1407 970h3M1410 1073h3M1391 1018h3M1415 1045h3M1369 1030h3M1405 1033h3M1396 1007h3M1376 1034h3M1414 1100h3M1408 980h3M1445 985h3M1374 1079h3M1390 1113h3M1385 1043h3M1394 1030h3M1386 1010h3M1431 969h3M1378 993h3M1405 1047h3M1397 1005h3M1384 1030h3M1389 1129h3M1382 1060h3M1386 960h3M1369 990h3M1375 1089h3M1388 969h3M1387 987h3M1390 954h3M1390 1089h3M1374 1036h3M1413 1049h3M1417 979h3M1377 1096h3M1397 1112h3M1379 999h3M1425 1011h3M1384 1054h3M1392 1035h3M1409 1042h3M1393 994h3M1394 1016h3M1377 994h3M1414 980h3M1415 1000h3M1395 960h3M1387 1098h3M1411 1030h3M1399 1052h3M1417 1162h3M1401 1087h3M1412 1116h3M1408 1052h3M1427 973h3M1407 1096h3M1402 1029h3M1406 1066h3M1374 1044h3M1419 996h3M1411 1158h3M1413 982h3M1374 1033h3M1408 1029h3M1412 1035h3M1420 971h3M1396 1156h3M1409 1004h3M1370 1127h3M1377 1081h3M1398 995h3M1411 1064h3M1401 1090h3M1413 971h3M1383 1107h3M1429 980h3M1374 1064h3M1399 975h3M1407 1062h3M1419 972h3M1400 1028h3M1380 1041h3M1399 1019h3M1382 1081h3M1393 1042h3M1408 980h3M1383 866h3M1383 1038h3M1409 1003h3M1398 1054h3M1377 970h3M1439 963h3M1422 1028h3M1428 978h3M1405 1047h3M1388 1045h3M1375 1018h3M1384 1077h3M1384 1016h3M1372 1117h3M1403 1083h3M1375 995h3M1402 1030h3M1381 1030h3M1426 974h3M1392 1089h3M1401 1145h3M1390 1066h3M1369 1035h3M1411 971h3M1398 962h3M1408 1094h3M1398 873h3M1438 1028h3M1382 1071h3M1432 1006h3M1429 1113h3M1406 960h3M1415 1156h3M1412 1137h3M1375 1096h3M1395 1056h3M1388 1019h3M1391 1030h3M1407 1059h3M1392 1042h3M1383 1081h3M1381 1141h3M1393 1043h3M1375 999h3M1397 1025h3M1394 1035h3M1406 1113h3M1407 978h3M1378 1018h3M1385 1156h3M1368 1096h3M1377 1097h3M1370 1077h3M1383 965h3M1390 1058h3M1403 1137h3M1384 881h3M1384 1069h3M1397 1003h3M1406 1150h3M1381 1024h3M1370 1043h3M1418 1122h3M1393 973h3M1396 1122h3M1412 1081h3M1398 1084h3M1395 1065h3M1378 967h3M1388 1008h3M1395 981h3M1409 1027h3M1402 1025h3M1404 1069h3M1399 1012h3M1386 1003h3M1395 1113h3M1417 1115h3M1409 1004h3M1399 1057h3M1387 1034h3M1378 1023h3M1382 1044h3M1405 1042h3M1371 1010h3M1369 1173h3M1374 1056h3M1388 999h3M1417 1085h3M1387 961h3M1444 1127h3M1397 1005h3M1401 1032h3M1395 970h3M1425 1156h3M1392 1065h3M1428 1005h3M1372 1101h3M1406 1012h3M1393 1162h3M1394 1012h3M1405 1044h3M1386 1128h3M1371 966h3M1378 977h3M1396 1105h3M1420 1100h3M1399 1076h3M1402 987h3M1440 1027h3M1421 1178h3M1374 1003h3M1388 1014h3M1416 980h3M1436 1002h3M1373 994h3M1391 1042h3M1399 971h3M1389 979h3M1384 1060h3M1371 1079h3M1397 1082h3M1416 1117h3M1409 1078h3M1390 1068h3M1373 1009h3M1412 1023h3M1427 985h3M1404 1025h3M1417 999h3M1370 890h3M1407 1131h3M1402 1116h3M1402 1050h3M1406 1068h3M1399 968h3M1388 989h3M1377 1077h3M1377 1030h3M1368 1156h3M1382 1013h3M1412 985h3M1387 1132h3M1398 981h3M1413 1101h3M1395 999h3M1400 1031h3M1400 1084h3M1393 1042h3M1389 1062h3M1383 1043h3M1377 1034h3M1418 991h3M1410 962h3M1385 1009h3M1424 971h3M1390 1093h3M1381 1025h3M1450 1139h3M1402 1030h3M1392 1123h3M1397 971h3M1395 1032h3M1370 1083h3M1400 866h3M1399 988h3M1422 1124h3M1389 966h3M1382 1059h3M1380 1042h3M1369 1127h3M1378 1099h3M1370 1010h3M1422 990h3M1403 972h3M1398 960h3M1421 994h3M1409 1062h3M1389 1119h3M1426 978h3M1379 1039h3M1410 995h3M1391 1070h3M1404 1110h3M1400 960h3M1385 999h3M1384 959h3M1388 1037h3M1412 969h3M1388 999h3M1457 954h3M1479 1020h3M1418 983h3M1403 1049h3M1378 1028h3M1391 988h3M1395 1028h3M1373 1033h3M1428 1133h3M1401 1095h3M1397 1106h3M1397 1054h3M1492 906h3M1609 866h3M1507 886h3M1559 966h3M1540 926h3M1543 920h3M1520 871h3M1469 885h3M1533 873h3M1586 918h3M1389 962h3M1515 887h3M1575 894h3M1504 913h3M1540 870h3M1586 853h3M1472 883h3M1546 930h3M1526 923h3M1532 903h3M1494 901h3M1518 897h3M1452 855h3M1555 860h3M1491 920h3M1592 885h3M1515 944h3M1504 881h3M1621 934h3M1516 873h3M1553 926h3M1478 891h3M1553 938h3M1537 933h3M1474 889h3M1571 920h3M1551 929h3M1511 888h3M1527 962h3M1513 883h3M1524 864h3M1518 895h3M1557 908h3M1562 982h3M1494 877h3M1530 902h3M1513 885h3M1535 907h3M1523 944h3M1474 878h3M1567 884h3M1511 920h3M1545 905h3M1482 887h3M1614 934h3M1492 880h3M1547 913h3M1483 912h3M1540 870h3M1487 886h3M1543 913h3M1600 872h3M1513 884h3M1572 902h3M1481 866h3M1492 932h3M1541 861h3M1589 896h3M1471 885h3M1533 887h3M1569 922h3M1538 910h3M1574 894h3M1516 891h3M1572 928h3M1511 891h3M1563 882h3M1482 929h3M1537 972h3M1540 946h3M1496 956h3M1600 882h3M1479 863h3M1534 928h3M1537 863h3M1463 857h3M1418 860h3M1527 925h3M1503 882h3M1504 923h3M1488 906h3M1488 887h3M1506 867h3M1529 859h3M1585 933h3M1526 988h3M1551 922h3M1527 898h3M1504 909h3M1568 856h3M1478 863h3M1452 878h3M1563 975h3M1576 865h3M1508 867h3M1528 946h3M1535 933h3M1535 946h3M1485 906h3M1518 939h3M1500 868h3M1562 918h3M1524 862h3M1481 923h3M1581 903h3M1599 885h3M1545 862h3M1511 894h3M1493 923h3M1525 892h3M1484 866h3M1533 882h3M1528 857h3M1577 870h3M1566 889h3M1533 899h3M1540 904h3M1572 926h3M1540 959h3M1467 947h3M1508 855h3M1529 897h3M1594 888h3M1507 912h3M1593 904h3M1513 928h3M1488 865h3M1496 874h3M1598 881h3M1497 888h3M1491 945h3M1527 860h3M1481 928h3M1502 921h3M1494 899h3M1455 961h3M1503 897h3M1546 901h3M1509 902h3M1465 874h3M1467 941h3M1471 891h3M1480 927h3M1610 874h3M1533 908h3M1488 921h3M1516 871h3M1589 932h3M1566 856h3M1490 887h3M1537 948h3M1497 937h3M1502 862h3M1494 870h3M1478 913h3M1423 980h3M1571 927h3M1623 947h3M1476 944h3M1569 905h3M1569 915h3M1469 866h3M1497 937h3M1601 890h3M1543 965h3M1427 870h3M1623 895h3M1497 911h3M1560 947h3M1510 893h3M1502 914h3M1574 908h3M1601 876h3M1532 961h3M1572 915h3M1457 881h3M1496 914h3M1491 856h3M1548 858h3M1474 1020h3M1507 893h3M1473 864h3M1489 952h3M1532 952h3M1504 913h3M1564 898h3M1497 917h3M1507 882h3M1530 938h3M1521 946h3M1509 898h3M1481 924h3M1490 942h3M1495 857h3M1556 951h3M1503 919h3M1475 896h3M1521 925h3M1587 931h3M1485 907h3M1536 870h3M1575 934h3M1492 883h3M1554 963h3M1556 911h3M1542 874h3M1542 854h3M1527 922h3M1421 967h3M1476 914h3M1469 986h3M1559 964h3M1546 927h3M1513 897h3M1537 910h3M1497 859h3M1489 924h3M1480 916h3M1497 871h3M1457 880h3M1490 896h3M1565 869h3M1481 901h3M1641 953h3M1537 936h3M1512 936h3M1473 881h3M1481 957h3M1588 885h3M1567 900h3M1563 895h3M1557 901h3M1490 904h3M1514 886h3M1433 961h3M1473 950h3M1525 916h3M1578 959h3M1561 886h3M1435 871h3M1412 965h3M1496 909h3M1517 972h3M1476 944h3M1522 900h3M1466 890h3M1518 908h3M1566 883h3M1515 915h3M1508 928h3M1493 945h3M1468 858h3M1504 944h3M1479 885h3M1488 911h3M1497 916h3M1537 877h3M1580 920h3M1585 867h3M1595 907h3M1490 872h3M1537 898h3M1492 952h3M1508 884h3M1563 886h3M1509 905h3M1618 865h3M1490 925h3M1566 863h3M1551 931h3M1500 986h3M1506 876h3M1590 938h3M1485 926h3M1535 969h3M1473 863h3M1528 891h3M1495 913h3M1557 862h3M1457 988h3M1498 871h3M1493 886h3M1505 905h3M1482 945h3M1522 859h3M1535 872h3M1520 946h3M1619 903h3M1543 915h3M1485 915h3M1531 881h3M1550 942h3M1510 898h3M1487 910h3M1569 955h3M1481 875h3M1518 915h3M1532 918h3M1500 871h3M1527 893h3M1484 950h3M1481 913h3M1489 877h3M1541 902h3M1533 933h3M1500 922h3M1597 894h3M1510 919h3M1492 946h3M1550 938h3M1509 894h3M1487 893h3M1549 905h3M1480 907h3M1518 916h3M1601 877h3M1525 928h3M1510 898h3M1543 953h3M1534 938h3M1519 920h3M1553 867h3M1558 895h3M1499 898h3M1492 910h3M1524 890h3M1465 888h3M1548 892h3M1582 897h3M1578 867h3M1532 900h3M1613 907h3M1521 887h3M1593 933h3M1525 890h3M1526 935h3M1552 910h3M1519 920h3M1502 930h3M1587 887h3M1487 960h3M1604 890h3M1470 962h3M1548 909h3M1500 943h3M1527 922h3M1549 910h3M1508 945h3M1478 989h3M1463 977h3M1560 912h3M1562 923h3M1491 957h3M1544 910h3M1524 952h3M1506 939h3M1528 927h3M1547 912h3M1559 908h3M1573 916h3M1516 964h3M1526 941h3M1546 911h3M1465 1001h3M1502 937h3M1589 884h3M1638 872h3M1575 898h3M1566 881h3M1550 915h3M1522 938h3M1483 977h3M1589 864h3M1559 929h3M1552 896h3M1503 961h3M1537 911h3M1531 932h3M1534 914h3M1541 936h3M1540 917h3M1576 878h3M1582 904h3M1569 896h3M1528 903h3M1537 927h3M1581 892h3M1518 925h3M1540 922h3M1595 879h3M1518 935h3M1518 933h3M1432 978h3M1491 964h3M1539 924h3M1585 871h3M1594 885h3M1520 957h3M1470 956h3M1535 930h3M1517 906h3M1527 929h3M1539 905h3M1548 897h3M1552 916h3M1525 935h3M1522 925h3M1613 874h3M1522 923h3M1553 919h3M1589 905h3M1553 894h3M1639 863h3M1587 905h3M1472 966h3M1527 948h3M1486 956h3M1612 875h3M1537 950h3M1485 968h3M1534 932h3M1523 921h3M1541 900h3M1562 899h3M1578 885h3M1514 946h3M1580 859h3M1550 922h3M1472 959h3M1563 891h3M1525 957h3M1493 943h3M1431 986h3M1499 977h3M1585 867h3M1633 862h3M1538 933h3M1552 900h3M1456 970h3M1538 917h3M1515 954h3M1500 964h3M1520 937h3M1491 957h3M1494 929h3M1539 920h3M1579 895h3M1491 948h3M1423 992h3M1608 891h3M1576 897h3M1570 905h3M1458 969h3M1601 892h3M1549 909h3M1519 928h3M1486 932h3M1544 911h3M1543 943h3M1561 894h3M1555 886h3M1589 887h3M1536 932h3M1601 867h3M1512 973h3M1552 934h3M1513 946h3M1516 947h3M1523 923h3M1611 871h3M1449 985h3M1491 939h3M1511 935h3M1536 911h3M1454 977h3M1569 878h3M1571 904h3M1523 938h3M1504 941h3M1498 958h3M1596 868h3M1578 860h3M1494 940h3M1612 857h3M1560 874h3M1549 922h3M1519 895h3M1554 922h3M1602 879h3M1463 975h3M1574 882h3M1562 896h3M1550 924h3M1529 971h3M1549 918h3M1507 945h3M1518 915h3M1474 974h3M1517 898h3M1442 989h3M1541 928h3M1489 967h3M1523 925h3M1541 934h3M1571 910h3M1507 940h3M1484 954h3M1519 929h3M1575 900h3M1575 896h3M1589 885h3M1587 892h3M1572 895h3M1474 948h3M1630 858h3M1559 903h3M1540 963h3M1489 957h3M1530 911h3M1478 956h3M1521 927h3M1568 881h3M1569 920h3M1572 879h3M1414 1028h3M1558 898h3M1594 873h3M1537 906h3M1551 905h3M1525 947h3M1539 898h3M1577 905h3M1500 944h3M1541 916h3M1550 922h3M1533 957h3M1504 939h3M1645 876h3M1540 917h3M1500 967h3M1542 906h3M1568 919h3M1587 918h3M1595 885h3M1543 926h3M1601 887h3M1589 887h3M1583 906h3M1523 913h3M1621 867h3M1522 937h3M1517 912h3M1522 913h3M1548 912h3M1590 881h3M1555 905h3M1513 919h3M1586 888h3M1515 942h3M1516 927h3M1560 923h3M1518 915h3M1525 958h3M1512 959h3M1535 935h3M1524 908h3M1537 954h3M1538 930h3M1524 930h3M1558 914h3M1527 920h3M1470 949h3M1556 880h3M1609 881h3M1519 919h3M1542 919h3M1585 875h3M1523 932h3M1523 923h3M1452 962h3M1508 941h3M1602 908h3M1620 866h3M1623 856h3M1533 960h3M1489 952h3M1539 943h3M1519 947h3M1513 922h3M1552 914h3M1482 951h3M1512 956h3M1563 907h3M1559 899h3M1557 898h3M1476 958h3M1550 914h3M1575 868h3M1533 931h3M1499 955h3M1514 923h3M1580 869h3M1582 882h3M1492 943h3M1501 937h3M1539 893h3M1602 886h3M1595 864h3M1432 992h3M1535 928h3M1517 936h3M1536 900h3M1560 921h3M1506 946h3M1611 862h3M1589 887h3M1556 919h3M1529 926h3M1585 890h3M1554 891h3M1550 931h3M1583 893h3M1513 931h3M1571 918h3M1552 931h3M1536 941h3M1497 955h3M1498 962h3M1560 891h3M1504 940h3M1468 961h3M1549 1007h3M1438 995h3M1485 1133h3M1566 894h3M1371 983h3M1547 885h3M1539 982h3M1464 1114h3M1541 1125h3M1537 898h3M1585 1082h3M1578 909h3M1424 868h3M1582 1137h3M1489 860h3M1481 1144h3M1541 1048h3M1573 982h3M1394 981h3M1556 1146h3M1491 900h3M1474 1036h3M1564 954h3M1494 1148h3M1525 904h3M1540 1014h3M1493 939h3M1389 1053h3M1404 1153h3M1460 1004h3M1541 886h3M1563 886h3M1381 1155h3M1444 1012h3M1418 1029h3M1582 973h3M1404 983h3M1559 1139h3M1483 1101h3M1427 979h3M1460 1120h3M1396 976h3M1503 878h3M1517 927h3M1466 991h3M1545 997h3M1539 910h3M1536 930h3M1401 1025h3M1485 1064h3M1470 1145h3M1400 1085h3M1523 1054h3M1519 1022h3M1409 1178h3M1419 1120h3M1571 903h3M1522 995h3M1436 1154h3M1569 1097h3M1404 1031h3M1575 906h3M1412 862h3M1374 960h3M1370 1142h3M1420 1022h3M1540 1018h3M1545 1014h3M1397 1094h3M1439 1150h3M1577 1012h3M1531 895h3M1531 1168h3M1512 857h3M1463 1135h3M1545 1161h3M1518 1047h3M1567 943h3M1555 862h3M1556 1093h3M1387 1063h3M1371 890h3M1580 1164h3M1503 913h3M1497 1050h3M1553 989h3M1509 1054h3M1473 1147h3M1562 948h3M1548 1062h3M1592 911h3M1484 1166h3M1463 1165h3M1579 1134h3M1569 1035h3M1510 862h3M1382 1105h3M1545 1076h3M1383 1044h3M1438 1006h3M1400 977h3M1399 1095h3M1586 1014h3M1416 1051h3M1477 912h3M1551 1115h3M1422 1178h3M1527 1171h3M1394 1109h3M1550 892h3M1444 960h3M1510 1160h3M1581 949h3M1529 904h3M1441 994h3M1535 1176h3M1415 863h3M1582 1061h3M1417 1128h3M1374 1120h3M1486 1154h3M1401 1130h3M1475 984h3M1550 1032h3M1477 997h3M1485 999h3M1399 1084h3M1580 902h3M1423 1125h3M1541 918h3M1484 966h3M1438 1128h3M1511 991h3M1528 1130h3M1397 983h3M1424 1178h3M1407 980h3M1371 1175h3M1506 978h3M1592 990h3M1578 1110h3M1453 878h3M1572 1108h3M1387 1015h3M1438 1134h3M1557 1056h3M1571 1163h3M1547 1021h3M1520 926h3M1436 1155h3M1589 1145h3M1496 1128h3M1551 1049h3M1578 858h3M1398 997h3M1460 1021h3M1388 1111h3M1494 859h3M1537 1173h3M1452 861h3M1542 1072h3M1454 1025h3M1490 1014h3M1386 1038h3M1543 1054h3M1482 1126h3M1545 1124h3M1543 1118h3M1542 871h3M1452 1140h3M1432 1024h3M1417 1137h3M1472 1150h3M1502 879h3M1561 987h3M1592 1018h3M1531 1050h3M1494 1160h3M1431 863h3M1498 1050h3M1430 1013h3M1563 896h3M1417 1077h3M1539 1012h3M1412 1166h3M1439 1125h3M1376 1070h3M1572 982h3M1569 1164h3M1451 1008h3M1574 897h3M1418 1048h3M1492 1136h3M1415 1017h3M1571 1094h3M1585 1131h3M1394 1111h3M1467 1112h3M1462 1110h3M1589 979h3M1589 861h3M1582 1065h3M1440 1161h3M1521 1158h3M1383 1090h3M1445 1117h3M1413 1128h3M1444 1119h3M1601 1102h3M1507 1158h3M1479 1154h3M1496 1163h3M1449 1143h3M1494 1162h3M1506 1148h3M1481 1157h3M1462 1132h3M1482 1174h3M1553 1151h3M1576 1126h3M1504 1124h3M1542 1136h3M1527 1178h3M1495 1128h3M1385 1128h3M1463 1162h3M1467 1154h3M1405 1108h3M1466 1135h3M1420 1126h3M1472 1114h3M1547 1180h3M1490 1133h3M1561 1148h3M1480 1131h3M1545 1130h3M1418 1118h3M1491 1120h3M1383 1148h3M1472 1129h3M1558 1124h3M1506 1170h3M1535 1141h3M1480 1143h3M1525 1150h3M1458 1147h3M1499 1153h3M1490 1170h3M1490 1158h3M1482 1122h3M1433 1132h3M1506 1167h3M1476 1123h3M1455 1168h3M1485 1124h3M1486 1135h3M1473 1108h3M1528 1177h3M1415 1139h3M1459 1113h3M1483 1143h3M1567 1083h3M1373 1158h3M1505 1137h3M1491 1116h3M1458 1114h3M1483 1130h3M1563 1151h3M1403 1146h3M1550 1143h3M1533 1135h3M1376 1149h3M1472 1139h3M1501 1135h3M1436 1141h3M1497 1148h3M1578 1118h3M1483 1150h3M1452 1162h3M1467 1151h3M1444 1147h3M1447 1115h3M1486 1137h3M1553 1096h3M1505 1176h3M1547 1127h3M1446 1124h3M1495 1141h3M1497 1151h3M1427 1108h3M1420 1103h3M1475 1144h3M1605 1149h3M1481 1171h3M1444 1144h3M1528 1155h3M1500 1127h3M1419 1132h3M1451 1153h3M1473 1150h3M1401 1160h3M1412 1121h3M1535 1154h3M1422 1138h3M1475 1097h3M1441 1113h3M1441 1116h3M1537 1127h3M1492 1155h3M1524 1153h3M1453 1109h3M1442 1124h3M1480 1134h3M1534 1133h3M1568 1161h3M1456 1157h3M1500 1146h3M1467 1132h3M1535 1131h3M1438 1152h3M1430 1154h3M1487 1164h3M1421 1167h3M1644 889h3M1627 984h3M1599 899h3M1650 1152h3M1637 1110h3M1614 1043h3M1611 915h3M1649 921h3M1606 1046h3M1641 1150h3M1619 1158h3M1634 1157h3M1641 958h3M1598 1081h3M1608 1022h3" stroke="#222" stroke-width="3" stroke-opacity="0.9"/><path d="M339.5 214.5 C355.8 214.5 366.0 221.8 370.0 229.0 C366.0 236.2 355.8 243.5 339.5 243.5 Z" fill="#fff" stroke="#888" stroke-width="0.6"/><path d="M339.5 217.4 C355.8 217.4 365.0 224.4 369.0 229.0 C365.0 233.6 355.8 240.6 339.5 240.6" fill="none" stroke="#888" stroke-width="0.6"/><path d="M339.5 220.3 C355.8 220.3 365.0 225.5 369.0 229.0 C365.0 232.5 355.8 237.7 339.5 237.7" fill="none" stroke="#888" stroke-width="0.6"/><path d="M339.5 223.2 C355.8 223.2 365.0 226.7 369.0 229.0 C365.0 231.3 355.8 234.8 339.5 234.8" fill="none" stroke="#888" stroke-width="0.6"/><path d="M339.5 226.1 C355.8 226.1 365.0 227.8 369.0 229.0 C365.0 230.2 355.8 231.9 339.5 231.9" fill="none" stroke="#888" stroke-width="0.6"/><ellipse cx="362.5" cy="267.0" rx="9.5" ry="11.2" transform="rotate(0 362.5 267.0)" fill="none" stroke="#333" stroke-width="2.2" opacity="0.45"/><ellipse cx="379.2" cy="273.4" rx="9.2" ry="9.4" transform="rotate(0 379.2 273.4)" fill="none" stroke="#333" stroke-width="2.2" opacity="0.45"/><ellipse cx="362.5" cy="267.0" rx="8.3" ry="10.0" transform="rotate(0 362.5 267.0)" fill="#fff" stroke="#222" stroke-width="0.9" opacity="1"/><ellipse cx="379.2" cy="273.4" rx="8.0" ry="8.2" transform="rotate(0 379.2 273.4)" fill="#fff" stroke="#222" stroke-width="0.9" opacity="1"/><ellipse cx="388.0" cy="226.0" rx="15.0" ry="3.2" transform="rotate(-37 388.0 226.0)" fill="none" stroke="#999" stroke-width="0.5" opacity="1"/><rect x="341.4" y="212.6" width="1.5" height="45" fill="#222"/></g><clipPath id="cr0"><rect x="435" y="211.1" width="72.19999999999999" height="83.4"/></clipPath><g clip-path="url(#cr0)"><path transform="scale(.25)" d="M1935 1139h3M1907 1105h3M1927 1046h3M1867 1013h3M1935 1096h3M1887 1066h3M1910 1077h3M1901 1098h3M1901 1066h3M1898 1083h3M1906 1106h3M1925 1055h3M1967 1044h3M1902 1146h3M1955 1106h3M1875 1150h3M1922 1070h3M1951 1062h3M1946 1070h3M1933 1048h3M1910 1055h3M1903 1100h3M1916 1100h3M1951 1087h3M1874 1080h3M1922 1134h3M1945 1131h3M1914 1118h3M1885 1145h3M1931 1113h3M1911 1094h3M1904 1115h3M1887 1132h3M1933 1175h3M1919 1088h3M1925 1093h3M1917 1047h3M1893 1069h3M1913 1043h3M1892 1080h3M1938 1084h3M1937 1132h3M1939 1075h3M1868 1056h3M1807 1016h3M1787 1057h3M1816 1044h3M1876 948h3M1840 954h3M1757 1043h3M1782 973h3M1836 1050h3M1874 1058h3M1817 1033h3M1818 1016h3M1744 995h3M1765 1049h3M1854 1017h3M1777 955h3M1817 1028h3M1837 982h3M1825 960h3M1848 987h3M1832 1044h3M1786 1030h3M1824 988h3M1839 1040h3M1753 1009h3" stroke="#999" stroke-width="3" stroke-opacity="0.8"/><ellipse cx="482.5" cy="251.0" rx="9.8" ry="14.0" transform="rotate(0 482.5 251.0)" fill="rgba(0,0,0,0.07)" stroke="#777" stroke-width="0.55" opacity="1"/><ellipse cx="482.7" cy="250.7" rx="8.2" ry="11.7" transform="rotate(0 482.7 250.7)" fill="rgba(0,0,0,0.07)" stroke="#777" stroke-width="0.55" opacity="1"/><ellipse cx="482.9" cy="250.4" rx="6.5" ry="9.3" transform="rotate(0 482.9 250.4)" fill="rgba(0,0,0,0.07)" stroke="#777" stroke-width="0.55" opacity="1"/><ellipse cx="483.0" cy="250.1" rx="4.9" ry="7.0" transform="rotate(0 483.0 250.1)" fill="rgba(0,0,0,0.07)" stroke="#777" stroke-width="0.55" opacity="1"/><ellipse cx="483.2" cy="249.8" rx="3.3" ry="4.7" transform="rotate(0 483.2 249.8)" fill="rgba(0,0,0,0.07)" stroke="#777" stroke-width="0.55" opacity="1"/><ellipse cx="483.4" cy="249.5" rx="1.6" ry="2.3" transform="rotate(0 483.4 249.5)" fill="rgba(0,0,0,0.07)" stroke="#777" stroke-width="0.55" opacity="1"/></g>
<clipPath id="cc1"><rect x="340.6" y="309.6" width="72.09999999999997" height="83.69999999999999"/></clipPath><g clip-path="url(#cc1)"><path transform="scale(.25)" d="M1471 1318h3M1435 1513h3M1435 1445h3M1420 1420h3M1518 1491h3M1420 1400h3M1433 1536h3M1440 1479h3M1419 1353h3M1481 1416h3M1403 1383h3M1407 1388h3M1376 1484h3M1446 1472h3M1419 1438h3M1438 1482h3M1462 1439h3M1408 1356h3M1403 1386h3M1412 1355h3M1493 1434h3M1383 1433h3M1471 1368h3M1455 1405h3M1474 1492h3M1443 1458h3M1432 1400h3M1389 1437h3M1429 1400h3M1429 1410h3M1394 1392h3M1474 1408h3M1483 1359h3M1383 1427h3M1460 1385h3M1455 1469h3M1471 1414h3M1484 1353h3M1401 1367h3M1393 1529h3M1456 1350h3M1430 1465h3M1452 1408h3M1403 1464h3M1432 1463h3M1446 1395h3M1484 1394h3M1448 1387h3M1424 1407h3M1408 1432h3M1480 1518h3M1484 1411h3M1485 1442h3M1497 1354h3M1486 1389h3M1474 1396h3M1465 1405h3M1423 1421h3M1405 1409h3M1440 1377h3M1377 1436h3M1420 1467h3M1413 1454h3M1400 1434h3M1435 1444h3M1398 1414h3M1401 1412h3M1433 1457h3M1436 1479h3M1449 1475h3M1445 1546h3M1482 1331h3M1415 1382h3M1459 1461h3M1445 1403h3M1432 1396h3M1474 1447h3M1504 1401h3M1485 1390h3M1426 1366h3M1451 1417h3M1455 1498h3M1430 1440h3M1465 1417h3M1412 1439h3M1450 1461h3M1462 1385h3M1448 1485h3M1415 1439h3M1410 1429h3M1495 1429h3M1397 1438h3M1440 1479h3M1383 1373h3M1473 1315h3M1409 1462h3M1454 1469h3M1414 1400h3M1413 1446h3M1403 1511h3M1454 1482h3M1460 1467h3M1431 1523h3M1394 1444h3M1432 1409h3M1444 1381h3M1464 1461h3M1436 1459h3M1411 1408h3M1522 1409h3M1470 1465h3M1508 1427h3M1456 1410h3M1401 1368h3M1404 1495h3M1443 1412h3M1433 1391h3M1431 1418h3M1456 1468h3M1373 1433h3M1482 1367h3M1423 1429h3M1472 1452h3M1424 1447h3M1470 1441h3M1499 1443h3M1395 1380h3M1428 1410h3M1455 1439h3M1494 1463h3M1486 1381h3M1417 1456h3M1436 1453h3M1441 1388h3M1494 1480h3M1376 1389h3M1433 1456h3M1430 1350h3M1462 1410h3M1476 1437h3M1469 1464h3M1464 1394h3M1470 1432h3M1388 1400h3M1421 1445h3M1457 1363h3M1459 1418h3M1395 1464h3M1405 1359h3M1460 1468h3M1409 1476h3M1469 1394h3M1505 1418h3M1456 1389h3M1474 1497h3M1501 1268h3M1454 1439h3M1430 1495h3M1403 1432h3M1431 1441h3M1419 1468h3M1468 1351h3M1474 1383h3M1423 1480h3M1437 1452h3M1462 1453h3M1414 1373h3M1458 1462h3M1446 1413h3M1464 1421h3M1384 1437h3M1452 1463h3M1402 1384h3M1446 1399h3M1431 1471h3M1448 1517h3M1444 1512h3M1472 1555h3M1435 1419h3M1481 1397h3M1418 1436h3M1448 1351h3M1444 1408h3M1428 1480h3M1452 1415h3M1438 1478h3M1463 1490h3M1430 1432h3M1507 1423h3M1496 1469h3M1420 1353h3M1458 1389h3M1478 1431h3M1437 1446h3M1454 1411h3M1493 1353h3M1451 1341h3M1421 1457h3M1392 1454h3M1511 1497h3M1435 1442h3M1402 1432h3M1424 1374h3M1388 1525h3M1439 1373h3M1421 1502h3M1494 1394h3M1443 1471h3M1423 1365h3M1401 1426h3M1408 1358h3M1427 1473h3M1460 1414h3M1504 1385h3M1433 1355h3M1463 1419h3M1376 1383h3M1500 1463h3M1440 1470h3M1379 1382h3M1388 1382h3M1422 1452h3M1472 1476h3M1531 1400h3M1435 1451h3M1406 1410h3M1450 1379h3M1452 1488h3M1438 1371h3M1442 1402h3M1446 1483h3M1464 1406h3M1439 1389h3M1376 1335h3M1458 1376h3M1461 1484h3M1406 1372h3M1418 1382h3M1457 1416h3M1433 1443h3M1416 1478h3M1367 1433h3M1450 1381h3M1408 1467h3M1384 1472h3M1401 1488h3M1481 1410h3M1452 1377h3M1418 1384h3M1453 1354h3M1427 1423h3M1368 1374h3M1424 1427h3M1439 1524h3M1455 1450h3M1414 1460h3M1456 1454h3M1428 1452h3M1486 1378h3M1458 1407h3M1416 1562h3M1415 1356h3M1414 1445h3M1410 1399h3M1442 1397h3M1436 1417h3M1393 1423h3M1390 1467h3M1398 1407h3M1366 1396h3M1387 1496h3M1427 1446h3M1369 1355h3M1472 1398h3M1426 1459h3M1407 1438h3M1474 1430h3M1436 1402h3M1433 1454h3M1437 1411h3M1487 1357h3M1397 1452h3M1395 1435h3M1455 1489h3M1438 1347h3M1459 1365h3M1427 1440h3M1426 1416h3M1401 1379h3M1457 1414h3M1414 1388h3M1437 1423h3M1418 1386h3M1433 1477h3M1464 1451h3M1435 1402h3M1443 1394h3M1419 1376h3M1429 1414h3M1495 1446h3M1418 1457h3M1414 1469h3M1458 1565h3M1393 1414h3M1427 1433h3M1456 1369h3M1405 1433h3M1465 1362h3M1377 1476h3M1460 1473h3M1397 1408h3M1427 1416h3M1466 1396h3M1412 1397h3M1413 1425h3M1424 1396h3M1480 1433h3M1419 1482h3M1412 1418h3M1428 1389h3M1417 1422h3M1381 1399h3M1441 1535h3M1454 1411h3M1427 1418h3M1446 1403h3M1483 1363h3M1452 1443h3M1391 1449h3M1450 1386h3M1510 1453h3M1419 1394h3M1405 1431h3M1433 1348h3M1395 1383h3M1417 1400h3M1408 1450h3M1463 1422h3M1450 1414h3M1452 1392h3M1445 1403h3M1425 1486h3M1390 1417h3M1393 1422h3M1447 1450h3M1436 1350h3M1439 1462h3M1465 1524h3M1450 1368h3M1413 1422h3M1466 1362h3M1462 1450h3M1401 1448h3M1405 1418h3M1420 1430h3M1390 1444h3M1411 1496h3M1449 1394h3M1400 1420h3M1409 1528h3M1403 1497h3M1412 1471h3M1438 1476h3M1463 1445h3M1431 1440h3M1437 1390h3M1497 1430h3M1409 1419h3M1425 1395h3M1429 1363h3M1401 1382h3M1460 1442h3M1433 1361h3M1417 1458h3M1473 1345h3M1416 1423h3M1443 1419h3M1454 1347h3M1484 1362h3M1433 1444h3M1471 1463h3M1461 1481h3M1426 1455h3M1484 1381h3M1383 1369h3M1479 1480h3M1419 1431h3M1447 1471h3M1367 1391h3M1422 1434h3M1434 1403h3M1537 1460h3M1462 1386h3M1445 1521h3M1494 1423h3M1389 1427h3M1421 1461h3M1387 1410h3M1441 1396h3M1468 1363h3M1389 1402h3M1460 1404h3M1411 1459h3M1439 1393h3M1436 1407h3M1404 1395h3M1417 1438h3M1444 1378h3M1425 1434h3M1469 1432h3M1499 1420h3M1457 1403h3M1397 1424h3M1436 1403h3M1403 1404h3M1447 1467h3M1469 1482h3M1445 1452h3M1416 1415h3M1449 1364h3M1404 1429h3M1385 1422h3M1380 1429h3M1432 1391h3M1399 1394h3M1435 1479h3M1414 1410h3M1479 1506h3M1414 1471h3M1472 1445h3M1397 1372h3M1451 1535h3M1425 1497h3M1497 1357h3M1411 1494h3M1465 1446h3M1431 1450h3M1410 1544h3M1436 1491h3M1414 1416h3M1396 1415h3M1396 1369h3M1380 1392h3M1496 1416h3M1438 1531h3M1409 1369h3M1449 1358h3M1443 1477h3M1394 1393h3M1490 1366h3M1408 1431h3M1420 1376h3M1487 1390h3M1443 1398h3M1423 1350h3M1463 1397h3M1475 1361h3M1415 1443h3M1435 1386h3M1427 1354h3M1437 1487h3M1462 1462h3M1417 1444h3M1417 1414h3M1428 1251h3M1463 1442h3M1460 1371h3M1455 1443h3M1433 1386h3M1431 1387h3M1483 1324h3M1384 1370h3M1384 1390h3M1430 1352h3M1444 1485h3M1469 1519h3M1471 1418h3M1493 1454h3M1496 1410h3M1438 1447h3M1424 1469h3M1392 1384h3M1466 1422h3M1435 1490h3M1470 1380h3M1431 1439h3M1372 1498h3M1501 1445h3M1464 1495h3M1426 1472h3M1445 1343h3M1401 1392h3M1469 1425h3M1466 1396h3M1388 1523h3M1526 1439h3M1425 1480h3M1394 1410h3M1382 1444h3M1441 1400h3M1403 1482h3M1420 1483h3M1402 1416h3M1416 1407h3M1458 1455h3M1432 1424h3M1424 1455h3M1434 1378h3M1437 1468h3M1439 1395h3M1426 1469h3M1419 1375h3M1463 1428h3M1437 1444h3M1456 1418h3M1403 1507h3M1434 1382h3M1438 1480h3M1383 1485h3M1427 1520h3M1455 1415h3M1475 1484h3M1420 1432h3M1414 1466h3M1384 1411h3M1441 1403h3M1417 1372h3M1443 1460h3M1458 1418h3M1474 1443h3M1465 1440h3M1433 1383h3M1428 1519h3M1400 1420h3M1402 1438h3M1431 1464h3M1437 1444h3M1476 1446h3M1428 1482h3M1428 1440h3M1421 1387h3M1393 1457h3M1494 1355h3M1462 1416h3M1448 1361h3M1433 1428h3M1481 1526h3M1443 1402h3M1508 1415h3M1430 1426h3M1448 1456h3M1413 1415h3M1497 1500h3M1425 1471h3M1415 1427h3M1417 1390h3M1434 1421h3M1413 1418h3M1435 1398h3M1410 1414h3M1457 1476h3M1439 1407h3M1432 1515h3M1464 1374h3M1431 1395h3M1434 1354h3M1412 1496h3M1467 1378h3M1397 1376h3M1368 1372h3M1423 1369h3M1459 1418h3M1414 1507h3M1457 1424h3M1496 1486h3M1408 1437h3M1498 1495h3M1389 1445h3M1376 1474h3M1431 1407h3M1476 1421h3M1424 1466h3M1422 1464h3M1433 1462h3M1454 1460h3M1398 1515h3M1427 1509h3M1412 1407h3M1424 1479h3M1418 1442h3M1379 1397h3M1440 1416h3M1368 1446h3M1399 1518h3M1426 1534h3M1456 1444h3M1416 1415h3M1467 1362h3M1448 1458h3M1420 1429h3M1475 1400h3M1450 1457h3M1425 1433h3M1440 1396h3M1517 1399h3M1492 1475h3M1469 1462h3M1401 1434h3M1391 1369h3M1424 1430h3M1489 1439h3M1470 1361h3M1392 1396h3M1494 1353h3M1377 1417h3M1474 1339h3M1424 1352h3M1483 1456h3M1442 1418h3M1424 1428h3M1410 1376h3M1394 1421h3M1405 1465h3M1451 1482h3M1400 1478h3M1422 1400h3M1412 1417h3M1412 1472h3M1483 1414h3M1414 1489h3M1426 1361h3M1428 1456h3M1487 1396h3M1451 1404h3M1472 1434h3M1442 1371h3M1421 1404h3M1432 1410h3M1420 1422h3M1441 1354h3M1427 1356h3M1445 1487h3M1463 1403h3M1413 1392h3M1445 1387h3M1403 1381h3M1413 1482h3M1385 1353h3M1453 1371h3M1427 1429h3M1433 1381h3M1464 1496h3M1397 1407h3M1465 1410h3M1397 1399h3M1461 1370h3M1409 1449h3M1456 1471h3M1465 1345h3M1464 1450h3M1466 1377h3M1464 1439h3M1392 1485h3M1405 1369h3M1446 1390h3M1445 1408h3M1442 1462h3M1431 1464h3M1462 1378h3M1462 1452h3M1437 1477h3M1490 1459h3M1381 1443h3M1428 1407h3M1444 1404h3M1489 1434h3M1433 1460h3M1460 1480h3M1455 1419h3M1381 1473h3M1421 1512h3M1495 1358h3M1443 1566h3M1405 1441h3M1425 1409h3M1423 1420h3M1459 1380h3M1450 1385h3M1405 1428h3M1407 1378h3M1473 1329h3M1452 1457h3M1412 1476h3M1464 1356h3M1451 1444h3M1407 1450h3M1459 1385h3M1421 1497h3M1400 1400h3M1401 1453h3M1432 1381h3M1387 1399h3M1473 1360h3M1431 1534h3M1493 1408h3M1427 1370h3M1384 1461h3M1424 1401h3M1427 1455h3M1466 1421h3M1426 1426h3M1505 1316h3M1392 1445h3M1438 1483h3M1479 1522h3M1405 1452h3M1424 1470h3M1439 1466h3M1407 1429h3M1415 1408h3M1417 1369h3M1472 1436h3M1471 1371h3M1427 1461h3M1470 1483h3M1487 1458h3M1437 1382h3M1457 1396h3M1405 1451h3M1441 1465h3M1408 1481h3M1446 1413h3M1406 1366h3M1385 1493h3M1383 1454h3M1424 1392h3M1416 1416h3M1465 1450h3M1433 1351h3M1370 1517h3M1473 1345h3M1459 1469h3M1442 1470h3M1384 1359h3M1426 1421h3M1430 1445h3M1447 1410h3M1462 1527h3M1436 1451h3M1401 1468h3M1465 1363h3M1453 1444h3M1489 1329h3M1430 1533h3M1418 1399h3M1496 1549h3M1437 1385h3M1412 1401h3M1403 1380h3M1390 1459h3M1441 1391h3M1423 1437h3M1435 1414h3M1460 1475h3M1422 1420h3M1394 1412h3M1450 1465h3M1439 1417h3M1407 1432h3M1394 1427h3M1433 1375h3M1444 1410h3M1454 1396h3M1450 1501h3M1439 1461h3M1410 1403h3M1366 1413h3M1393 1427h3M1436 1441h3M1374 1400h3M1523 1461h3M1400 1447h3M1441 1444h3M1466 1426h3M1463 1330h3M1521 1406h3M1410 1497h3M1454 1470h3M1411 1435h3M1458 1363h3M1425 1408h3M1422 1385h3M1388 1443h3M1441 1479h3M1430 1386h3M1381 1425h3M1421 1523h3M1513 1501h3M1401 1350h3M1424 1375h3M1482 1426h3M1418 1420h3M1477 1372h3M1450 1353h3M1425 1387h3M1475 1455h3M1411 1353h3M1404 1399h3M1424 1382h3M1470 1468h3M1423 1395h3M1424 1418h3M1433 1455h3M1395 1429h3M1411 1385h3M1501 1466h3M1449 1398h3M1447 1411h3M1448 1375h3M1430 1400h3M1382 1506h3M1461 1380h3M1380 1383h3M1403 1389h3M1379 1378h3M1434 1441h3M1397 1367h3M1421 1385h3M1457 1456h3M1421 1387h3M1495 1515h3M1446 1412h3M1468 1494h3M1414 1512h3M1426 1476h3M1414 1424h3M1416 1421h3M1468 1374h3M1422 1448h3M1416 1524h3M1380 1550h3M1409 1470h3M1489 1447h3M1382 1403h3M1435 1449h3M1467 1478h3M1484 1371h3M1467 1331h3M1437 1365h3M1369 1467h3M1431 1471h3M1376 1357h3M1429 1386h3M1435 1388h3M1420 1361h3M1478 1404h3M1390 1455h3M1440 1400h3M1376 1357h3M1442 1483h3M1426 1406h3M1472 1401h3M1455 1442h3M1385 1436h3M1439 1361h3M1395 1354h3M1481 1529h3M1457 1501h3M1384 1493h3M1503 1504h3M1398 1476h3M1428 1476h3M1409 1421h3M1412 1445h3M1428 1478h3M1462 1442h3M1431 1405h3M1432 1459h3M1431 1416h3M1453 1449h3M1397 1519h3M1390 1472h3M1473 1468h3M1433 1365h3M1388 1430h3M1489 1466h3M1431 1437h3M1457 1509h3M1405 1458h3M1442 1381h3M1396 1486h3M1444 1409h3M1436 1471h3M1436 1504h3M1423 1380h3M1428 1372h3M1420 1484h3M1493 1453h3M1439 1373h3M1396 1439h3M1438 1390h3M1416 1501h3M1468 1423h3M1440 1487h3M1432 1437h3M1401 1443h3M1448 1416h3M1379 1495h3M1482 1390h3M1502 1423h3M1404 1399h3M1365 1402h3M1375 1479h3M1444 1348h3M1438 1445h3M1435 1362h3M1428 1411h3M1434 1497h3M1493 1502h3M1409 1381h3M1433 1443h3M1497 1356h3M1406 1383h3M1450 1417h3M1454 1420h3M1408 1421h3M1460 1343h3M1376 1367h3M1410 1478h3M1420 1473h3M1482 1502h3M1414 1377h3M1446 1357h3M1435 1420h3M1491 1439h3M1408 1415h3M1386 1422h3M1424 1442h3M1444 1458h3M1389 1519h3M1406 1548h3M1460 1470h3M1442 1473h3M1395 1378h3M1406 1459h3M1454 1350h3M1457 1434h3M1439 1444h3M1431 1421h3M1470 1368h3M1389 1380h3M1469 1403h3M1501 1259h3M1406 1397h3M1442 1490h3M1425 1367h3M1462 1501h3M1443 1377h3M1415 1435h3M1433 1407h3M1390 1435h3M1408 1424h3M1411 1430h3M1459 1432h3M1456 1348h3M1409 1411h3M1450 1387h3M1442 1407h3M1421 1446h3M1433 1389h3M1418 1463h3M1459 1407h3M1418 1452h3M1427 1424h3M1400 1429h3M1463 1421h3M1438 1474h3M1457 1466h3M1452 1461h3M1407 1412h3M1407 1485h3M1425 1407h3M1384 1486h3M1412 1430h3M1452 1412h3M1446 1453h3M1451 1441h3M1438 1408h3M1421 1450h3M1408 1418h3M1455 1455h3M1432 1433h3M1424 1442h3M1462 1439h3M1431 1436h3M1479 1415h3M1435 1413h3M1447 1402h3M1449 1450h3M1424 1411h3M1410 1433h3M1417 1417h3M1431 1415h3M1457 1470h3M1397 1412h3M1445 1407h3M1429 1437h3M1468 1460h3M1433 1428h3M1416 1389h3M1433 1455h3M1455 1387h3M1436 1417h3M1446 1406h3M1458 1427h3M1451 1453h3M1401 1427h3M1470 1432h3M1461 1442h3M1430 1439h3M1461 1463h3M1469 1405h3M1456 1399h3M1452 1439h3M1465 1417h3M1457 1441h3M1440 1403h3M1451 1439h3M1435 1441h3M1449 1448h3M1478 1417h3M1480 1361h3M1459 1412h3M1480 1411h3M1461 1408h3M1417 1451h3M1457 1415h3M1488 1424h3M1471 1408h3M1421 1434h3M1420 1443h3M1397 1436h3M1429 1409h3M1431 1451h3M1466 1430h3M1457 1422h3M1452 1445h3M1429 1396h3M1414 1409h3M1434 1443h3M1454 1465h3M1428 1445h3M1454 1409h3M1442 1410h3M1435 1442h3M1406 1411h3M1424 1434h3M1425 1441h3M1423 1420h3M1452 1440h3M1460 1465h3M1433 1415h3M1419 1473h3M1422 1400h3M1445 1457h3M1415 1429h3M1411 1415h3M1472 1436h3M1416 1404h3M1480 1414h3M1464 1415h3M1466 1449h3M1436 1480h3M1421 1426h3M1423 1413h3M1433 1409h3M1433 1470h3M1405 1402h3M1421 1421h3M1460 1449h3M1488 1405h3M1417 1431h3M1423 1401h3M1434 1415h3M1430 1406h3M1467 1443h3M1477 1420h3M1437 1385h3M1435 1448h3M1401 1424h3M1451 1462h3M1438 1443h3M1475 1463h3M1431 1418h3M1460 1437h3M1429 1426h3M1435 1426h3M1410 1473h3M1464 1468h3M1451 1452h3M1404 1440h3M1420 1430h3M1427 1473h3M1468 1430h3M1426 1428h3M1439 1456h3M1446 1455h3M1443 1401h3M1418 1392h3M1463 1442h3M1431 1408h3M1446 1412h3M1418 1469h3M1421 1431h3M1467 1388h3M1416 1379h3M1477 1425h3M1458 1458h3M1446 1443h3M1454 1469h3M1450 1462h3M1434 1422h3M1451 1478h3M1457 1434h3M1479 1440h3M1447 1444h3M1433 1406h3M1423 1435h3M1436 1418h3M1405 1428h3M1475 1453h3M1461 1432h3M1461 1416h3M1431 1444h3M1412 1433h3M1446 1472h3M1426 1442h3M1427 1419h3M1387 1410h3M1463 1444h3M1443 1491h3M1451 1403h3M1472 1411h3M1448 1455h3M1424 1434h3M1400 1434h3M1397 1423h3M1474 1442h3M1483 1445h3M1461 1422h3M1432 1407h3M1437 1416h3M1460 1447h3M1438 1419h3M1383 1418h3M1446 1448h3M1379 1375h3M1443 1408h3M1436 1421h3M1452 1388h3M1429 1454h3M1444 1412h3M1423 1449h3M1459 1404h3M1422 1418h3M1463 1419h3M1433 1417h3M1424 1455h3M1484 1464h3M1450 1450h3M1433 1420h3M1417 1466h3M1433 1415h3M1428 1437h3M1429 1433h3M1443 1464h3M1416 1439h3M1426 1422h3M1472 1447h3M1432 1444h3M1440 1459h3M1431 1444h3M1437 1417h3M1442 1455h3M1428 1423h3M1447 1414h3M1457 1449h3M1395 1417h3M1419 1452h3M1459 1404h3M1427 1430h3M1433 1449h3M1460 1446h3M1462 1454h3M1439 1422h3M1426 1452h3M1458 1456h3M1434 1423h3M1445 1462h3M1424 1443h3M1451 1410h3M1475 1411h3M1459 1427h3M1443 1414h3M1429 1449h3M1436 1424h3M1458 1449h3M1474 1428h3M1448 1442h3M1413 1387h3M1443 1453h3M1444 1420h3M1427 1452h3M1434 1394h3M1454 1438h3M1448 1457h3M1466 1446h3M1437 1382h3M1466 1463h3M1450 1465h3M1424 1425h3M1444 1457h3M1426 1451h3M1486 1401h3M1460 1479h3M1465 1431h3M1424 1431h3M1423 1468h3M1426 1448h3M1444 1406h3M1437 1451h3M1431 1492h3M1462 1411h3M1391 1462h3M1421 1398h3M1403 1493h3M1472 1419h3M1477 1388h3M1454 1449h3M1423 1421h3M1420 1433h3M1466 1456h3M1448 1459h3M1405 1480h3M1439 1401h3M1433 1417h3M1394 1462h3M1474 1407h3M1469 1462h3M1460 1471h3M1413 1449h3M1420 1489h3M1421 1403h3M1462 1447h3M1452 1473h3M1426 1419h3M1429 1430h3M1440 1401h3M1446 1402h3M1434 1426h3M1435 1468h3M1473 1458h3M1472 1425h3M1468 1431h3M1413 1417h3M1437 1441h3M1438 1412h3M1417 1432h3M1416 1404h3M1423 1389h3M1446 1452h3M1432 1423h3M1394 1454h3M1418 1449h3M1428 1429h3M1436 1389h3M1495 1394h3M1442 1413h3M1435 1465h3M1403 1429h3M1448 1414h3M1407 1401h3M1432 1450h3M1442 1470h3M1444 1390h3M1452 1405h3M1432 1488h3M1415 1435h3M1440 1419h3M1480 1384h3M1419 1468h3M1451 1414h3M1422 1426h3M1493 1444h3M1419 1438h3M1427 1468h3M1446 1462h3M1443 1481h3M1420 1422h3M1448 1420h3M1490 1432h3M1425 1456h3M1429 1442h3M1438 1415h3M1468 1434h3M1462 1424h3M1411 1402h3M1430 1428h3M1441 1444h3M1415 1438h3M1416 1416h3M1491 1463h3M1433 1475h3M1468 1453h3M1469 1426h3M1438 1411h3M1452 1402h3M1430 1443h3M1430 1440h3M1476 1408h3M1468 1416h3M1421 1437h3M1461 1415h3M1425 1421h3M1426 1437h3M1426 1426h3M1463 1416h3M1425 1481h3M1470 1434h3M1457 1440h3M1430 1448h3M1446 1463h3M1403 1451h3M1443 1416h3M1431 1422h3M1414 1418h3M1456 1396h3M1432 1375h3M1428 1441h3M1418 1446h3M1422 1454h3M1470 1423h3M1460 1435h3M1440 1456h3M1419 1370h3M1464 1443h3M1463 1474h3M1438 1412h3M1456 1418h3M1435 1467h3M1451 1458h3M1413 1433h3M1462 1401h3M1394 1470h3M1426 1429h3M1474 1389h3M1441 1412h3M1467 1405h3M1447 1445h3M1435 1457h3M1418 1436h3M1469 1386h3M1490 1428h3M1417 1390h3M1457 1446h3M1463 1447h3M1438 1393h3M1468 1421h3M1419 1463h3M1450 1384h3M1407 1423h3M1415 1428h3M1492 1504h3M1439 1451h3M1458 1429h3M1411 1458h3M1437 1443h3M1454 1413h3M1474 1434h3M1454 1457h3M1429 1446h3M1431 1403h3M1434 1447h3M1451 1458h3M1427 1425h3M1442 1447h3M1438 1409h3M1409 1461h3M1462 1416h3M1470 1431h3M1449 1463h3M1431 1414h3M1405 1440h3M1449 1453h3M1463 1408h3M1448 1445h3M1438 1474h3M1449 1465h3M1458 1428h3M1479 1459h3M1420 1429h3M1501 1366h3M1495 1332h3M1484 1355h3M1460 1392h3M1539 1297h3M1432 1422h3M1520 1329h3M1560 1322h3M1517 1361h3M1472 1388h3M1464 1396h3M1491 1370h3M1471 1390h3M1512 1334h3M1470 1365h3M1501 1363h3M1509 1350h3M1561 1290h3M1532 1339h3M1537 1326h3M1534 1358h3M1507 1343h3M1552 1335h3M1570 1287h3M1551 1315h3M1522 1346h3M1539 1320h3M1578 1271h3M1588 1307h3M1600 1262h3M1491 1336h3M1533 1368h3M1437 1391h3M1552 1316h3M1440 1415h3M1513 1316h3M1539 1293h3M1560 1300h3M1471 1356h3M1499 1356h3M1503 1343h3M1513 1360h3M1475 1377h3M1531 1325h3M1562 1323h3M1501 1359h3M1393 1457h3M1530 1306h3M1549 1273h3M1562 1285h3M1468 1379h3M1493 1345h3M1453 1393h3M1554 1309h3M1561 1285h3M1496 1355h3M1523 1342h3M1589 1280h3M1532 1349h3M1470 1363h3M1541 1319h3M1526 1347h3M1498 1356h3M1534 1334h3M1553 1305h3M1501 1311h3M1547 1281h3M1534 1368h3M1485 1342h3M1572 1275h3M1505 1349h3M1549 1321h3M1518 1359h3M1483 1386h3M1494 1375h3M1482 1366h3M1561 1275h3M1471 1396h3M1498 1351h3M1526 1369h3M1469 1382h3M1510 1329h3M1515 1350h3M1486 1390h3M1466 1388h3M1554 1359h3M1445 1416h3M1557 1303h3M1459 1404h3M1478 1380h3M1459 1410h3M1415 1438h3M1568 1298h3M1496 1356h3M1520 1385h3M1510 1346h3M1479 1369h3M1531 1314h3M1475 1371h3M1500 1360h3M1491 1361h3M1494 1385h3M1513 1338h3M1523 1332h3M1448 1404h3M1582 1283h3M1553 1291h3M1447 1397h3M1556 1281h3M1491 1385h3M1500 1352h3M1528 1330h3M1502 1358h3M1483 1372h3M1528 1308h3M1493 1342h3M1547 1320h3M1559 1316h3M1559 1310h3M1490 1383h3M1497 1401h3M1529 1338h3M1473 1403h3M1544 1283h3M1486 1362h3M1499 1382h3M1588 1249h3M1551 1300h3M1544 1268h3M1506 1372h3M1493 1385h3M1502 1375h3M1531 1317h3M1480 1373h3M1558 1298h3M1516 1400h3M1447 1405h3M1524 1313h3M1508 1341h3M1457 1407h3M1460 1382h3M1551 1285h3M1546 1331h3M1555 1309h3M1490 1341h3M1521 1342h3M1483 1355h3M1537 1300h3M1525 1322h3M1459 1426h3M1541 1325h3M1454 1399h3M1516 1327h3M1558 1261h3M1522 1299h3M1437 1395h3M1527 1316h3M1476 1363h3M1444 1395h3M1468 1381h3M1473 1338h3M1495 1382h3M1490 1364h3M1475 1368h3M1494 1337h3M1487 1338h3M1508 1319h3M1543 1330h3M1450 1417h3M1502 1373h3M1484 1365h3M1507 1370h3M1507 1339h3M1506 1365h3M1555 1330h3M1465 1355h3M1483 1367h3M1501 1376h3M1601 1260h3M1482 1373h3M1544 1317h3M1507 1352h3M1543 1323h3M1471 1373h3M1541 1317h3M1528 1301h3M1504 1362h3M1501 1346h3M1533 1351h3M1438 1445h3M1510 1329h3M1533 1322h3M1547 1292h3M1537 1301h3M1526 1341h3M1509 1356h3M1493 1381h3M1480 1361h3M1502 1351h3M1481 1388h3M1507 1358h3M1436 1394h3M1487 1349h3M1507 1358h3M1564 1316h3M1532 1310h3M1524 1321h3M1519 1316h3M1564 1298h3M1483 1346h3M1513 1331h3M1510 1331h3M1491 1374h3M1554 1277h3M1503 1358h3M1497 1349h3M1585 1254h3M1517 1328h3M1482 1330h3M1540 1310h3M1484 1400h3M1491 1353h3M1483 1390h3M1505 1343h3M1446 1391h3M1521 1333h3M1419 1419h3M1540 1362h3M1457 1357h3M1533 1312h3M1460 1405h3M1489 1348h3M1454 1398h3M1494 1328h3M1535 1297h3M1566 1295h3M1503 1358h3M1483 1370h3M1567 1277h3M1531 1307h3M1515 1357h3M1463 1398h3M1412 1422h3M1499 1372h3M1527 1310h3M1504 1354h3M1449 1413h3M1572 1305h3M1480 1367h3M1466 1380h3M1503 1363h3M1502 1335h3M1548 1323h3M1481 1369h3M1488 1336h3M1519 1348h3M1586 1272h3M1495 1357h3M1539 1330h3M1475 1383h3M1515 1303h3M1560 1291h3M1541 1312h3M1497 1356h3M1527 1343h3M1487 1347h3M1471 1366h3M1529 1308h3M1569 1288h3M1516 1362h3M1490 1359h3M1545 1323h3M1490 1409h3M1519 1313h3M1509 1362h3M1524 1346h3M1610 1261h3M1594 1273h3M1495 1387h3M1489 1383h3M1526 1313h3M1479 1373h3M1536 1342h3M1529 1360h3M1538 1306h3M1485 1371h3M1488 1366h3M1543 1317h3M1542 1301h3M1463 1367h3M1435 1412h3M1511 1341h3M1529 1363h3M1465 1386h3M1483 1356h3M1564 1291h3M1550 1285h3M1605 1291h3M1476 1379h3M1511 1355h3M1463 1401h3M1534 1311h3M1415 1428h3M1502 1367h3M1476 1359h3M1539 1324h3M1540 1316h3M1557 1307h3M1442 1417h3M1542 1314h3M1565 1283h3M1528 1306h3M1506 1340h3M1460 1372h3M1524 1340h3M1475 1358h3M1483 1386h3M1474 1402h3M1448 1413h3M1549 1329h3M1487 1355h3M1463 1409h3M1502 1345h3M1497 1363h3M1523 1354h3M1490 1365h3M1498 1356h3M1543 1316h3M1454 1401h3M1511 1352h3M1512 1342h3M1542 1294h3M1593 1253h3M1478 1392h3M1566 1313h3M1574 1291h3M1518 1345h3M1507 1339h3M1592 1297h3M1510 1342h3M1477 1348h3M1480 1366h3M1502 1336h3M1561 1257h3M1514 1357h3M1453 1377h3M1511 1341h3M1502 1384h3M1577 1291h3M1507 1344h3M1545 1307h3M1583 1296h3M1496 1374h3M1581 1287h3M1473 1378h3M1501 1358h3M1511 1339h3M1560 1321h3M1478 1352h3M1529 1328h3M1524 1320h3M1517 1323h3M1573 1315h3M1454 1356h3M1490 1357h3M1523 1335h3M1559 1347h3M1490 1361h3M1516 1308h3M1541 1305h3M1451 1391h3M1543 1330h3M1569 1296h3M1492 1375h3M1534 1366h3M1550 1315h3M1507 1340h3M1464 1365h3M1606 1269h3M1546 1318h3M1438 1415h3M1532 1347h3M1479 1383h3M1508 1351h3M1489 1375h3M1503 1321h3M1585 1313h3M1493 1386h3M1474 1375h3M1589 1273h3M1580 1283h3M1556 1299h3M1591 1300h3M1539 1308h3M1495 1346h3M1547 1321h3M1499 1376h3M1512 1380h3M1565 1322h3M1481 1359h3M1452 1418h3M1486 1397h3M1531 1341h3M1462 1385h3M1533 1339h3M1471 1394h3M1493 1380h3M1507 1346h3M1546 1333h3M1520 1360h3M1482 1382h3M1477 1386h3M1483 1376h3M1535 1306h3M1448 1407h3M1541 1321h3M1490 1383h3M1514 1358h3M1488 1379h3M1559 1287h3M1513 1357h3M1542 1322h3M1499 1331h3M1507 1329h3M1501 1316h3M1592 1301h3M1528 1315h3M1514 1360h3M1538 1308h3M1572 1299h3M1536 1316h3M1512 1334h3M1519 1327h3M1564 1295h3M1529 1335h3M1518 1315h3M1569 1291h3M1488 1353h3M1486 1362h3M1511 1332h3M1523 1337h3M1510 1387h3M1516 1348h3M1520 1335h3M1556 1326h3M1507 1336h3M1519 1300h3M1522 1333h3M1516 1314h3M1491 1349h3M1501 1367h3M1504 1343h3M1563 1295h3M1428 1411h3M1536 1329h3M1527 1335h3M1480 1376h3M1461 1381h3M1472 1370h3M1500 1353h3M1493 1383h3M1510 1374h3M1543 1293h3M1536 1296h3M1573 1289h3M1455 1362h3M1486 1347h3M1545 1289h3M1508 1357h3M1515 1345h3M1509 1360h3M1481 1385h3M1467 1392h3M1466 1387h3M1546 1332h3M1435 1407h3M1485 1393h3M1484 1384h3M1479 1351h3M1506 1330h3M1548 1323h3M1555 1283h3M1582 1291h3M1461 1434h3M1568 1269h3M1512 1319h3M1508 1351h3M1528 1313h3M1502 1337h3M1532 1335h3M1525 1352h3M1544 1318h3M1543 1432h3M1515 1416h3M1515 1457h3M1535 1458h3M1501 1469h3M1513 1488h3M1495 1424h3M1478 1508h3M1486 1457h3M1489 1499h3M1502 1510h3M1499 1481h3M1534 1502h3M1487 1460h3M1514 1414h3M1533 1484h3M1528 1428h3M1520 1486h3M1540 1455h3M1532 1534h3M1506 1459h3M1508 1425h3M1507 1523h3M1494 1466h3M1544 1490h3M1521 1461h3M1513 1472h3M1532 1474h3M1538 1413h3M1535 1455h3M1516 1459h3M1531 1468h3M1531 1447h3M1520 1511h3M1542 1461h3M1519 1460h3M1513 1473h3M1545 1490h3M1551 1521h3M1486 1482h3M1505 1421h3M1490 1456h3M1556 1475h3M1512 1471h3M1498 1478h3M1514 1421h3M1531 1469h3M1532 1442h3M1518 1500h3M1478 1449h3M1507 1463h3M1504 1481h3M1540 1483h3M1540 1505h3M1502 1481h3M1507 1493h3M1508 1466h3M1556 1467h3M1480 1476h3M1523 1456h3M1518 1504h3M1504 1466h3M1500 1483h3M1513 1443h3M1513 1530h3M1476 1429h3M1524 1429h3M1562 1426h3M1486 1456h3M1542 1497h3M1530 1482h3M1547 1416h3M1523 1517h3M1491 1482h3M1545 1512h3M1513 1531h3M1528 1506h3M1491 1449h3M1499 1528h3M1462 1415h3M1535 1477h3M1447 1460h3M1509 1510h3M1472 1456h3M1541 1496h3M1495 1464h3M1482 1515h3M1506 1512h3M1535 1445h3M1513 1493h3M1527 1520h3M1543 1483h3M1533 1451h3M1503 1491h3M1524 1438h3M1515 1448h3M1504 1513h3M1495 1452h3M1530 1475h3M1521 1428h3M1516 1461h3M1498 1455h3M1510 1499h3M1560 1476h3M1551 1477h3M1482 1475h3M1547 1516h3M1496 1542h3M1500 1450h3M1505 1518h3M1526 1501h3M1465 1472h3M1514 1495h3M1506 1510h3M1501 1430h3M1479 1512h3M1535 1449h3M1543 1468h3M1514 1428h3M1504 1477h3M1522 1456h3M1540 1518h3M1498 1486h3M1482 1486h3M1495 1469h3M1521 1466h3M1541 1449h3M1506 1484h3M1516 1481h3M1512 1449h3M1533 1476h3M1538 1515h3M1509 1451h3M1507 1454h3M1471 1524h3M1527 1546h3M1504 1492h3M1524 1472h3M1540 1474h3M1516 1479h3M1466 1452h3M1500 1525h3M1531 1498h3M1532 1468h3M1556 1467h3M1485 1493h3M1545 1477h3M1526 1503h3M1553 1492h3M1556 1483h3M1566 1431h3M1539 1483h3M1520 1435h3M1542 1468h3M1495 1455h3M1512 1477h3M1497 1446h3M1527 1472h3M1563 1461h3M1535 1528h3M1513 1504h3M1524 1476h3M1555 1443h3M1504 1419h3M1515 1504h3M1512 1499h3M1500 1509h3M1515 1459h3M1555 1474h3M1531 1478h3M1534 1478h3M1490 1483h3M1528 1486h3M1512 1530h3M1501 1478h3M1522 1441h3M1490 1494h3M1533 1478h3M1480 1465h3M1523 1493h3M1545 1488h3M1540 1525h3M1464 1504h3M1507 1489h3M1522 1443h3M1497 1487h3M1513 1496h3M1509 1540h3M1511 1537h3M1500 1491h3M1543 1434h3M1495 1486h3M1544 1516h3M1530 1506h3M1491 1461h3M1551 1457h3M1512 1420h3M1513 1425h3M1526 1519h3M1524 1479h3M1508 1491h3M1492 1459h3M1567 1434h3M1504 1431h3M1545 1466h3M1488 1435h3M1543 1494h3M1535 1471h3M1538 1514h3M1532 1424h3M1472 1428h3M1523 1427h3M1492 1474h3M1497 1434h3M1539 1488h3M1535 1501h3M1550 1472h3M1512 1419h3M1511 1454h3M1541 1493h3M1550 1506h3M1544 1489h3M1520 1461h3M1516 1443h3M1525 1470h3M1469 1389h3M1499 1458h3M1509 1512h3M1502 1433h3M1525 1503h3M1554 1441h3M1510 1459h3M1551 1493h3M1516 1494h3M1508 1466h3M1515 1456h3M1510 1483h3M1521 1517h3M1536 1469h3M1465 1426h3M1504 1460h3M1486 1460h3M1518 1452h3M1512 1469h3M1499 1445h3M1513 1480h3M1492 1409h3M1494 1487h3M1478 1500h3M1502 1475h3M1498 1489h3M1516 1482h3M1471 1493h3M1477 1461h3M1527 1465h3M1527 1476h3M1517 1446h3M1538 1505h3M1503 1444h3M1520 1448h3M1518 1496h3M1530 1516h3M1526 1439h3M1496 1487h3M1559 1460h3M1494 1513h3M1512 1492h3M1540 1441h3M1507 1454h3M1527 1491h3M1504 1488h3M1475 1481h3M1523 1471h3M1482 1468h3M1491 1515h3M1509 1465h3M1513 1487h3M1517 1487h3M1494 1504h3M1504 1494h3M1520 1503h3M1513 1426h3M1489 1464h3M1546 1458h3M1516 1509h3M1502 1480h3M1521 1453h3M1520 1502h3M1539 1461h3M1581 1481h3M1509 1449h3M1493 1495h3M1450 1466h3M1484 1466h3M1514 1431h3M1493 1509h3M1503 1471h3M1508 1496h3M1543 1498h3M1528 1488h3M1488 1510h3M1502 1444h3M1507 1447h3M1524 1492h3M1544 1468h3M1502 1462h3M1489 1449h3M1560 1448h3M1505 1490h3M1521 1494h3M1496 1439h3M1545 1450h3M1513 1477h3M1473 1465h3M1500 1487h3M1508 1403h3M1533 1394h3M1506 1450h3M1501 1470h3M1537 1445h3M1501 1493h3M1526 1492h3M1523 1463h3M1504 1456h3M1535 1516h3M1560 1439h3M1510 1471h3M1511 1437h3M1564 1516h3M1511 1457h3M1515 1434h3M1507 1494h3M1553 1498h3M1544 1439h3M1442 1512h3M1519 1468h3M1553 1442h3M1493 1448h3M1552 1499h3M1475 1521h3M1515 1484h3M1498 1528h3M1525 1511h3M1492 1492h3M1517 1464h3M1497 1450h3M1489 1451h3M1515 1489h3M1480 1439h3M1501 1421h3M1509 1463h3M1511 1483h3M1537 1495h3M1521 1489h3M1497 1442h3M1530 1488h3M1565 1464h3M1493 1480h3M1505 1444h3M1546 1529h3M1524 1451h3M1521 1469h3M1483 1496h3M1523 1509h3M1502 1470h3M1513 1418h3M1573 1407h3M1489 1460h3M1479 1484h3M1505 1473h3M1521 1473h3M1518 1466h3M1525 1496h3M1509 1458h3M1506 1481h3M1507 1460h3M1481 1530h3M1487 1523h3M1534 1503h3M1522 1487h3M1522 1490h3M1535 1518h3M1493 1487h3M1553 1515h3M1492 1481h3M1522 1479h3M1464 1498h3M1479 1539h3M1531 1469h3M1531 1476h3M1504 1469h3M1524 1447h3M1533 1507h3M1541 1509h3M1546 1494h3M1547 1474h3M1526 1516h3M1561 1462h3M1483 1539h3M1543 1529h3M1537 1480h3M1502 1443h3M1550 1503h3M1524 1438h3M1504 1453h3M1509 1383h3M1522 1521h3M1504 1473h3M1523 1442h3M1527 1447h3M1506 1481h3M1515 1476h3M1495 1495h3M1491 1499h3M1505 1436h3M1514 1440h3M1504 1468h3M1535 1497h3M1528 1464h3M1481 1466h3M1509 1469h3M1504 1456h3M1535 1431h3M1517 1512h3M1498 1442h3M1511 1462h3M1523 1515h3M1514 1490h3M1503 1457h3M1523 1452h3M1545 1460h3M1513 1440h3M1506 1441h3M1505 1417h3M1516 1527h3M1472 1527h3M1514 1500h3M1493 1536h3M1491 1470h3M1553 1433h3M1461 1470h3M1498 1442h3M1495 1426h3M1549 1511h3M1484 1469h3M1506 1507h3M1497 1524h3M1516 1448h3M1514 1454h3M1570 1477h3M1505 1475h3M1551 1442h3M1476 1514h3M1531 1458h3M1514 1507h3M1452 1513h3M1512 1494h3M1515 1570h3M1501 1507h3M1454 1474h3M1535 1423h3M1468 1475h3M1540 1510h3M1500 1483h3M1482 1528h3M1502 1513h3M1510 1462h3M1555 1444h3M1547 1461h3M1495 1445h3M1543 1470h3M1508 1424h3M1544 1506h3M1524 1497h3M1438 1455h3M1520 1475h3M1502 1480h3M1499 1451h3M1486 1476h3M1499 1456h3M1549 1471h3M1515 1423h3M1503 1503h3M1529 1474h3M1512 1474h3M1526 1462h3M1456 1535h3M1543 1467h3M1550 1430h3M1547 1478h3M1537 1461h3M1520 1491h3M1541 1488h3M1527 1453h3M1557 1479h3M1511 1462h3M1487 1448h3M1479 1479h3M1514 1479h3M1369 1255h3M1480 1264h3M1490 1274h3M1386 1257h3M1459 1267h3M1442 1255h3M1434 1257h3M1396 1254h3M1406 1243h3M1427 1246h3M1481 1256h3M1407 1252h3M1412 1250h3M1381 1268h3M1439 1255h3M1411 1256h3M1498 1250h3M1476 1272h3M1461 1255h3M1419 1248h3M1449 1259h3M1390 1248h3M1412 1258h3M1426 1245h3M1499 1268h3M1379 1266h3M1371 1272h3M1400 1257h3M1491 1272h3M1432 1257h3M1459 1252h3M1434 1257h3M1456 1259h3M1403 1254h3M1465 1278h3M1472 1246h3M1365 1245h3M1471 1249h3M1437 1251h3M1487 1255h3M1441 1262h3M1516 1271h3M1459 1276h3M1450 1252h3M1450 1252h3M1455 1270h3M1372 1248h3M1469 1260h3M1404 1246h3M1476 1263h3M1499 1247h3M1421 1255h3M1498 1256h3M1392 1251h3M1404 1244h3M1418 1249h3M1436 1250h3M1444 1245h3M1394 1258h3M1443 1260h3M1394 1256h3M1406 1256h3M1439 1252h3M1389 1253h3M1481 1258h3M1450 1262h3M1474 1260h3M1376 1257h3M1472 1244h3M1478 1246h3M1539 1252h3M1472 1257h3M1455 1251h3M1404 1256h3M1366 1258h3M1453 1251h3M1414 1246h3M1532 1267h3M1389 1264h3M1441 1251h3M1386 1258h3M1413 1258h3M1402 1244h3M1374 1263h3M1467 1244h3M1491 1253h3M1446 1251h3M1440 1244h3M1396 1252h3M1481 1281h3M1454 1253h3M1469 1269h3M1465 1270h3M1473 1262h3M1444 1254h3M1443 1250h3M1435 1253h3M1517 1274h3M1435 1244h3M1370 1268h3M1429 1257h3M1365 1250h3M1458 1255h3M1439 1261h3M1423 1242h3M1467 1252h3M1447 1256h3M1460 1269h3M1378 1271h3M1478 1269h3M1539 1244h3M1376 1257h3M1381 1261h3M1447 1260h3M1458 1252h3M1409 1250h3M1436 1256h3M1429 1259h3M1387 1245h3M1494 1252h3M1422 1252h3M1377 1272h3M1434 1260h3M1367 1258h3M1453 1262h3M1470 1261h3M1454 1265h3M1376 1247h3M1415 1250h3M1451 1265h3M1477 1267h3M1374 1271h3M1395 1251h3M1469 1294h3M1401 1255h3M1482 1265h3M1443 1250h3M1498 1258h3M1395 1260h3M1453 1269h3M1488 1247h3M1523 1252h3M1419 1241h3M1387 1249h3M1419 1246h3M1464 1259h3M1412 1245h3M1415 1257h3M1369 1253h3M1531 1267h3M1490 1248h3M1442 1241h3M1457 1270h3M1432 1252h3M1465 1284h3M1445 1247h3M1436 1260h3M1462 1260h3M1425 1250h3M1396 1260h3M1429 1253h3M1466 1247h3M1470 1261h3M1506 1253h3M1406 1250h3M1369 1263h3M1377 1264h3M1412 1255h3M1374 1254h3M1386 1251h3M1452 1260h3M1441 1258h3M1441 1261h3M1374 1262h3M1408 1257h3M1435 1253h3M1504 1256h3M1473 1264h3M1395 1250h3M1411 1255h3M1409 1258h3M1373 1270h3M1374 1247h3M1464 1269h3M1564 1322h3M1518 1328h3M1377 1487h3M1435 1502h3M1378 1418h3M1479 1447h3M1445 1451h3M1455 1505h3M1524 1504h3M1378 1472h3M1405 1514h3M1542 1252h3M1399 1551h3M1555 1321h3M1562 1332h3M1389 1451h3M1525 1411h3M1408 1520h3M1509 1320h3M1561 1298h3M1459 1266h3M1408 1503h3M1499 1457h3M1488 1465h3M1474 1306h3M1468 1482h3M1448 1506h3M1552 1344h3M1499 1503h3M1448 1507h3M1479 1297h3M1492 1327h3M1541 1492h3M1456 1475h3M1530 1367h3M1396 1506h3M1513 1469h3M1507 1385h3M1367 1405h3M1495 1310h3M1379 1375h3M1549 1278h3M1477 1411h3M1513 1243h3M1420 1560h3M1479 1346h3M1527 1533h3M1510 1268h3M1528 1431h3M1509 1406h3M1408 1457h3M1433 1405h3M1534 1539h3M1369 1453h3M1551 1432h3M1366 1257h3M1477 1327h3M1547 1540h3M1470 1259h3M1516 1354h3M1370 1263h3M1515 1537h3M1490 1259h3M1493 1427h3M1420 1393h3M1488 1533h3M1520 1256h3M1536 1245h3M1380 1514h3M1545 1301h3M1509 1386h3M1475 1542h3M1514 1346h3M1516 1311h3M1476 1514h3M1539 1506h3M1542 1570h3M1529 1503h3M1409 1439h3M1552 1490h3M1480 1424h3M1399 1380h3M1529 1434h3M1561 1550h3M1499 1364h3M1557 1549h3M1428 1499h3M1544 1455h3M1380 1472h3M1518 1362h3M1554 1545h3M1552 1360h3M1391 1525h3M1477 1256h3M1500 1508h3M1428 1406h3M1513 1439h3M1441 1446h3M1541 1566h3M1479 1446h3M1452 1555h3M1466 1475h3M1449 1389h3M1463 1546h3M1507 1491h3M1431 1472h3M1369 1545h3M1503 1303h3M1540 1440h3M1369 1356h3M1520 1292h3M1530 1253h3M1430 1516h3M1496 1249h3M1407 1424h3M1527 1328h3M1477 1290h3M1538 1412h3M1502 1378h3M1456 1368h3M1487 1459h3M1384 1403h3M1415 1545h3M1469 1360h3M1547 1484h3M1366 1365h3M1382 1370h3M1531 1264h3M1544 1335h3M1477 1343h3M1409 1515h3M1533 1523h3M1432 1494h3M1490 1405h3M1526 1264h3M1433 1469h3M1408 1407h3M1378 1508h3M1551 1400h3M1371 1255h3M1531 1413h3M1555 1281h3M1449 1536h3M1392 1257h3M1504 1384h3M1431 1257h3M1512 1565h3M1517 1456h3M1490 1518h3M1468 1366h3M1515 1354h3M1401 1376h3M1405 1248h3M1399 1471h3M1403 1419h3M1456 1445h3M1553 1258h3M1378 1461h3M1554 1517h3M1526 1373h3M1477 1375h3M1471 1326h3M1527 1315h3M1431 1487h3M1530 1419h3M1452 1567h3M1528 1443h3M1563 1327h3M1490 1464h3M1495 1358h3M1412 1474h3M1568 1458h3M1377 1500h3M1369 1440h3M1437 1405h3M1564 1408h3M1429 1517h3M1520 1465h3M1525 1431h3M1380 1502h3M1399 1519h3M1394 1430h3M1429 1531h3M1488 1556h3M1497 1337h3M1489 1473h3M1450 1560h3M1400 1425h3M1392 1566h3M1514 1326h3M1403 1478h3M1461 1436h3M1621 1551h3M1636 1544h3M1644 1400h3M1645 1545h3M1636 1358h3M1638 1503h3M1594 1284h3M1613 1569h3M1623 1390h3M1619 1563h3" stroke="#222" stroke-width="3" stroke-opacity="0.9"/><path d="M339.0 314.5 L357.1 314.5 Q367.5 314.5 367.5 326.0 Q367.5 337.5 357.1 337.5 L339.0 337.5 Z" fill="#fff" stroke="#777" stroke-width="0.6"/><path d="M339.0 317.2 L357.7 317.2 Q365.7 317.2 365.7 326.0 Q365.7 334.8 357.7 334.8 L339.0 334.8 Z" fill="none" stroke="#777" stroke-width="0.6"/><path d="M339.0 319.8 L358.3 319.8 Q363.8 319.8 363.8 326.0 Q363.8 332.2 358.3 332.2 L339.0 332.2 Z" fill="none" stroke="#777" stroke-width="0.6"/><path d="M339.0 322.5 L358.8 322.5 Q362.0 322.5 362.0 326.0 Q362.0 329.5 358.8 329.5 L339.0 329.5 Z" fill="none" stroke="#777" stroke-width="0.6"/><line x1="348" y1="327" x2="362" y2="327" stroke="#333" stroke-width="1.2"/><ellipse cx="361.2" cy="357.8" rx="3.2" ry="2.6" transform="rotate(-30 361.2 357.8)" fill="#fff" stroke="#333" stroke-width="0.6" opacity="1"/><ellipse cx="378.0" cy="337.0" rx="12.0" ry="2.2" transform="rotate(-45 378.0 337.0)" fill="rgba(0,0,0,0.35)" stroke="none" stroke-width="0" opacity="1"/><ellipse cx="384.0" cy="330.0" rx="13.0" ry="3.8" transform="rotate(-45 384.0 330.0)" fill="none" stroke="#555" stroke-width="0.5" opacity="1"/><ellipse cx="385.0" cy="329.0" rx="4.0" ry="2.0" transform="rotate(-45 385.0 329.0)" fill="#fff" stroke="#444" stroke-width="0.5" opacity="1"/><ellipse cx="379.0" cy="336.0" rx="3.0" ry="1.6" transform="rotate(-45 379.0 336.0)" fill="#fff" stroke="#444" stroke-width="0.5" opacity="1"/><rect x="340.6" y="309.6" width="1.5" height="30" fill="#222"/></g><clipPath id="cr1"><rect x="435" y="308.5" width="72.19999999999999" height="84.0"/></clipPath><g clip-path="url(#cr1)"><path transform="scale(.25)" d="M1918 1479h3M1940 1455h3M1875 1467h3M1924 1492h3M1925 1536h3M1910 1480h3M1897 1465h3M1949 1502h3M1848 1536h3M1865 1472h3M1947 1493h3M1936 1522h3M1928 1439h3M1930 1461h3M1853 1477h3M1935 1493h3M1920 1557h3M1928 1524h3M1929 1553h3M1910 1535h3M1970 1474h3M1949 1435h3M1929 1517h3M1897 1418h3M1922 1476h3M1925 1500h3M1943 1550h3M1932 1428h3M1939 1504h3M1925 1551h3M1834 1432h3M1749 1364h3M1786 1345h3M1879 1442h3M1837 1375h3M1762 1416h3M1873 1352h3M1871 1427h3M1833 1431h3M1746 1370h3M1801 1366h3M1796 1355h3M1768 1403h3M1826 1385h3M1783 1436h3M1835 1380h3M1778 1395h3M1868 1382h3M1781 1369h3M1746 1346h3" stroke="#aaa" stroke-width="3" stroke-opacity="0.8"/><ellipse cx="479.5" cy="349.0" rx="9.5" ry="14.5" transform="rotate(0 479.5 349.0)" fill="rgba(0,0,0,0.07)" stroke="#777" stroke-width="0.55" opacity="1"/><ellipse cx="479.7" cy="348.7" rx="7.9" ry="12.1" transform="rotate(0 479.7 348.7)" fill="rgba(0,0,0,0.07)" stroke="#777" stroke-width="0.55" opacity="1"/><ellipse cx="479.9" cy="348.4" rx="6.3" ry="9.7" transform="rotate(0 479.9 348.4)" fill="rgba(0,0,0,0.07)" stroke="#777" stroke-width="0.55" opacity="1"/><ellipse cx="480.0" cy="348.1" rx="4.8" ry="7.2" transform="rotate(0 480.0 348.1)" fill="rgba(0,0,0,0.07)" stroke="#777" stroke-width="0.55" opacity="1"/><ellipse cx="480.2" cy="347.8" rx="3.2" ry="4.8" transform="rotate(0 480.2 347.8)" fill="rgba(0,0,0,0.07)" stroke="#777" stroke-width="0.55" opacity="1"/><ellipse cx="480.4" cy="347.5" rx="1.6" ry="2.4" transform="rotate(0 480.4 347.5)" fill="rgba(0,0,0,0.07)" stroke="#777" stroke-width="0.55" opacity="1"/></g>
<clipPath id="cc2"><rect x="340.2" y="410.8" width="72.0" height="83.39999999999998"/></clipPath><g clip-path="url(#cc2)"><path transform="scale(.25)" d="M1399 1798h3M1411 1771h3M1437 1803h3M1434 1774h3M1377 1771h3M1436 1804h3M1437 1801h3M1435 1765h3M1374 1855h3M1392 1880h3M1387 1850h3M1443 1893h3M1461 1843h3M1406 1825h3M1372 1862h3M1384 1857h3M1391 1890h3M1390 1792h3M1399 1764h3M1380 1806h3M1381 1832h3M1380 1787h3M1398 1867h3M1374 1903h3M1364 1790h3M1402 1780h3M1404 1837h3M1398 1672h3M1399 1775h3M1434 1670h3M1386 1836h3M1448 1773h3M1422 1876h3M1417 1799h3M1470 1752h3M1424 1771h3M1464 1907h3M1379 1862h3M1375 1826h3M1424 1799h3M1417 1754h3M1378 1785h3M1385 1923h3M1410 1817h3M1420 1908h3M1413 1799h3M1417 1890h3M1402 1899h3M1418 1810h3M1424 1930h3M1400 1897h3M1410 1866h3M1429 1773h3M1387 1765h3M1397 1809h3M1397 1850h3M1378 1807h3M1436 1913h3M1410 1887h3M1452 1764h3M1416 1762h3M1396 1843h3M1368 1850h3M1404 1807h3M1425 1775h3M1385 1809h3M1373 1768h3M1376 1749h3M1382 1777h3M1380 1801h3M1409 1824h3M1415 1813h3M1391 1808h3M1365 1856h3M1401 1924h3M1386 1903h3M1381 1838h3M1440 1771h3M1438 1791h3M1391 1803h3M1459 1771h3M1385 1769h3M1387 1856h3M1382 1889h3M1408 1769h3M1435 1765h3M1393 1907h3M1385 1831h3M1423 1808h3M1401 1800h3M1366 1843h3M1378 1674h3M1425 1795h3M1401 1808h3M1403 1765h3M1403 1825h3M1444 1751h3M1402 1770h3M1415 1788h3M1386 1758h3M1366 1810h3M1411 1813h3M1418 1772h3M1426 1812h3M1395 1886h3M1432 1795h3M1462 1909h3M1387 1843h3M1406 1871h3M1429 1794h3M1413 1876h3M1387 1784h3M1381 1898h3M1395 1817h3M1434 1914h3M1396 1911h3M1383 1772h3M1453 1753h3M1397 1805h3M1417 1791h3M1375 1826h3M1461 1749h3M1426 1810h3M1482 1746h3M1399 1897h3M1383 1784h3M1374 1883h3M1373 1850h3M1429 1915h3M1389 1906h3M1396 1848h3M1404 1824h3M1454 1782h3M1434 1805h3M1406 1780h3M1399 1875h3M1372 1797h3M1407 1806h3M1417 1769h3M1440 1771h3M1436 1925h3M1468 1887h3M1395 1880h3M1378 1841h3M1424 1939h3M1463 1757h3M1366 1823h3M1384 1895h3M1416 1877h3M1407 1877h3M1391 1791h3M1393 1828h3M1395 1816h3M1409 1683h3M1373 1880h3M1380 1759h3M1368 1863h3M1368 1847h3M1406 1804h3M1374 1782h3M1416 1764h3M1418 1768h3M1438 1767h3M1397 1753h3M1405 1857h3M1406 1875h3M1391 1867h3M1459 1763h3M1380 1855h3M1507 1847h3M1406 1892h3M1377 1894h3M1446 1760h3M1384 1799h3M1368 1806h3M1402 1867h3M1405 1796h3M1423 1881h3M1395 1792h3M1366 1823h3M1407 1911h3M1387 1806h3M1411 1756h3M1372 1882h3M1371 1810h3M1371 1854h3M1425 1767h3M1400 1865h3M1380 1816h3M1370 1697h3M1409 1755h3M1366 1851h3M1402 1840h3M1374 1855h3M1418 1807h3M1410 1954h3M1387 1800h3M1411 1809h3M1437 1916h3M1428 1761h3M1407 1796h3M1413 1794h3M1430 1767h3M1484 1863h3M1387 1765h3M1401 1793h3M1381 1897h3M1439 1758h3M1432 1782h3M1476 1823h3M1373 1759h3M1387 1853h3M1442 1911h3M1376 1876h3M1390 1842h3M1415 1789h3M1405 1910h3M1437 1774h3M1414 1776h3M1381 1860h3M1399 1798h3M1415 1901h3M1410 1906h3M1369 1757h3M1392 1933h3M1457 1758h3M1393 1851h3M1410 1869h3M1428 1890h3M1422 1755h3M1432 1801h3M1401 1763h3M1453 1786h3M1391 1842h3M1405 1892h3M1402 1873h3M1402 1861h3M1380 1846h3M1413 1807h3M1459 1849h3M1401 1836h3M1430 1888h3M1455 1852h3M1389 1864h3M1437 1798h3M1408 1930h3M1431 1786h3M1412 1876h3M1368 1779h3M1399 1838h3M1364 1774h3M1421 1886h3M1388 1900h3M1475 1887h3M1366 1788h3M1366 1827h3M1374 1847h3M1402 1790h3M1413 1801h3M1413 1918h3M1421 1766h3M1407 1816h3M1372 1867h3M1376 1842h3M1411 1914h3M1405 1816h3M1400 1868h3M1418 1806h3M1435 1937h3M1460 1904h3M1392 1816h3M1463 1742h3M1413 1867h3M1425 1774h3M1388 1872h3M1407 1828h3M1438 1683h3M1417 1891h3M1465 1859h3M1386 1875h3M1386 1813h3M1389 1845h3M1392 1831h3M1436 1768h3M1420 1874h3M1373 1836h3M1431 1937h3M1428 1801h3M1393 1782h3M1368 1749h3M1391 1826h3M1384 1822h3M1400 1808h3M1395 1837h3M1409 1675h3M1389 1830h3M1387 1828h3M1381 1858h3M1387 1859h3M1373 1783h3M1408 1775h3M1401 1794h3M1372 1760h3M1436 1778h3M1385 1834h3M1394 1803h3M1374 1879h3M1371 1826h3M1405 1754h3M1372 1773h3M1436 1800h3M1453 1859h3M1454 1772h3M1426 1879h3M1421 1870h3M1413 1883h3M1395 1792h3M1366 1885h3M1445 1876h3M1385 1889h3M1424 1870h3M1406 1797h3M1386 1787h3M1436 1778h3M1389 1838h3M1388 1800h3M1458 1856h3M1377 1760h3M1394 1832h3M1384 1844h3M1364 1838h3M1445 1676h3M1457 1876h3M1437 1786h3M1393 1877h3M1376 1875h3M1366 1935h3M1446 1790h3M1406 1884h3M1427 1806h3M1471 1850h3M1421 1804h3M1426 1962h3M1415 1924h3M1445 1792h3M1428 1772h3M1392 1789h3M1386 1912h3M1411 1911h3M1399 1796h3M1382 1904h3M1413 1820h3M1395 1771h3M1437 1778h3M1374 1792h3M1389 1812h3M1399 1843h3M1408 1822h3M1366 1787h3M1375 1804h3M1386 1820h3M1484 1872h3M1457 1838h3M1410 1878h3M1370 1700h3M1371 1895h3M1400 1810h3M1419 1772h3M1431 1766h3M1379 1803h3M1379 1812h3M1395 1884h3M1392 1818h3M1399 1894h3M1407 1768h3M1485 1821h3M1402 1867h3M1389 1806h3M1434 1754h3M1393 1870h3M1404 1878h3M1447 1670h3M1403 1891h3M1380 1748h3M1415 1798h3M1429 1782h3M1437 1881h3M1389 1815h3M1451 1786h3M1468 1837h3M1415 1888h3M1428 1804h3M1368 1821h3M1404 1892h3M1416 1766h3M1391 1884h3M1401 1850h3M1426 1956h3M1415 1779h3M1392 1859h3M1468 1853h3M1394 1823h3M1370 1860h3M1381 1805h3M1390 1836h3M1399 1839h3M1437 1889h3M1376 1801h3M1373 1888h3M1381 1894h3M1392 1876h3M1391 1807h3M1403 1856h3M1445 1867h3M1411 1664h3M1370 1852h3M1387 1889h3M1384 1774h3M1387 1833h3M1375 1944h3M1396 1916h3M1399 1802h3M1386 1778h3M1422 1886h3M1411 1771h3M1415 1777h3M1410 1798h3M1400 1905h3M1438 1903h3M1412 1864h3M1381 1847h3M1375 1879h3M1392 1818h3M1376 1871h3M1405 1919h3M1368 1854h3M1370 1762h3M1401 1773h3M1384 1945h3M1382 1798h3M1400 1776h3M1426 1883h3M1367 1792h3M1366 1797h3M1379 1835h3M1415 1767h3M1388 1838h3M1424 1812h3M1423 1804h3M1370 1834h3M1429 1791h3M1437 1782h3M1397 1886h3M1406 1818h3M1452 1880h3M1413 1920h3M1389 1897h3M1411 1868h3M1437 1922h3M1410 1758h3M1403 1816h3M1395 1855h3M1375 1800h3M1380 1835h3M1403 1816h3M1423 1802h3M1439 1874h3M1378 1888h3M1397 1779h3M1417 1882h3M1393 1866h3M1416 1804h3M1391 1782h3M1413 1802h3M1447 1785h3M1385 1774h3M1398 1826h3M1392 1768h3M1365 1827h3M1390 1765h3M1398 1835h3M1469 1904h3M1380 1794h3M1386 1790h3M1386 1895h3M1368 1786h3M1501 1871h3M1433 1881h3M1373 1868h3M1430 1894h3M1455 1845h3M1447 1894h3M1375 1935h3M1414 1766h3M1395 1801h3M1420 1813h3M1446 1689h3M1380 1870h3M1395 1854h3M1456 1862h3M1373 1845h3M1423 1809h3M1407 1823h3M1396 1789h3M1401 1845h3M1394 1762h3M1398 1794h3M1426 1793h3M1396 1920h3M1422 1771h3M1383 1854h3M1365 1817h3M1392 1794h3M1405 1885h3M1417 1893h3M1374 1881h3M1382 1836h3M1434 1787h3M1373 1858h3M1397 1876h3M1403 1782h3M1430 1877h3M1408 1919h3M1392 1819h3M1392 1797h3M1400 1784h3M1396 1836h3M1412 1765h3M1424 1777h3M1437 1787h3M1388 1798h3M1400 1911h3M1391 1796h3M1403 1830h3M1453 1946h3M1398 1812h3M1428 1814h3M1435 1764h3M1380 1835h3M1383 1758h3M1380 1748h3M1397 1801h3M1484 1708h3M1390 1850h3M1440 1892h3M1378 1864h3M1364 1775h3M1365 1835h3M1384 1852h3M1404 1802h3M1463 1883h3M1367 1895h3M1432 1892h3M1396 1688h3M1364 1782h3M1380 1880h3M1415 1767h3M1390 1806h3M1427 1897h3M1398 1807h3M1464 1830h3M1397 1857h3M1417 1776h3M1450 1958h3M1381 1777h3M1390 1882h3M1451 1894h3M1384 1849h3M1379 1810h3M1495 1887h3M1384 1788h3M1405 1812h3M1370 1812h3M1396 1906h3M1390 1880h3M1397 1868h3M1428 1915h3M1374 1803h3M1386 1904h3M1379 1859h3M1366 1833h3M1403 1837h3M1421 1782h3M1433 1792h3M1412 1898h3M1379 1824h3M1459 1890h3M1386 1785h3M1425 1783h3M1367 1838h3M1409 1877h3M1406 1788h3M1402 1872h3M1386 1789h3M1374 1858h3M1442 1921h3M1391 1814h3M1411 1819h3M1381 1864h3M1363 1755h3M1407 1761h3M1416 1798h3M1471 1751h3M1382 1852h3M1399 1873h3M1419 1894h3M1365 1834h3M1401 1842h3M1378 1865h3M1365 1870h3M1406 1805h3M1424 1793h3M1496 1830h3M1465 1840h3M1384 1784h3M1371 1849h3M1381 1825h3M1445 1893h3M1467 1887h3M1482 1817h3M1448 1662h3M1414 1787h3M1460 1907h3M1389 1818h3M1413 1878h3M1368 1914h3M1424 1662h3M1381 1819h3M1483 1824h3M1407 1882h3M1425 1880h3M1399 1920h3M1366 1749h3M1428 1809h3M1407 1767h3M1422 1900h3M1385 1933h3M1438 1765h3M1408 1766h3M1407 1768h3M1413 1934h3M1400 1819h3M1376 1801h3M1383 1798h3M1422 1808h3M1421 1899h3M1414 1882h3M1415 1797h3M1541 1769h3M1541 1749h3M1510 1718h3M1491 1820h3M1424 1789h3M1457 1773h3M1501 1704h3M1482 1734h3M1495 1700h3M1499 1729h3M1476 1833h3M1456 1773h3M1507 1809h3M1459 1766h3M1458 1753h3M1429 1797h3M1488 1751h3M1506 1787h3M1509 1695h3M1447 1764h3M1459 1774h3M1400 1787h3M1505 1745h3M1530 1789h3M1391 1835h3M1427 1797h3M1518 1743h3M1431 1796h3M1446 1795h3M1388 1851h3M1405 1806h3M1490 1741h3M1477 1754h3M1393 1799h3M1434 1796h3M1454 1766h3M1543 1745h3M1419 1792h3M1514 1784h3M1466 1843h3M1480 1722h3M1451 1762h3M1429 1783h3M1462 1767h3M1499 1794h3M1514 1733h3M1458 1837h3M1462 1837h3M1444 1778h3M1499 1711h3M1448 1784h3M1468 1745h3M1540 1761h3M1502 1736h3M1518 1751h3M1451 1786h3M1510 1705h3M1438 1800h3M1368 1829h3M1520 1755h3M1455 1853h3M1455 1774h3M1521 1754h3M1378 1812h3M1516 1779h3M1430 1808h3M1484 1737h3M1477 1760h3M1380 1880h3M1516 1757h3M1509 1731h3M1448 1768h3M1444 1776h3M1401 1777h3M1453 1773h3M1474 1768h3M1483 1812h3M1451 1790h3M1425 1814h3M1535 1756h3M1461 1838h3M1406 1877h3M1450 1774h3M1508 1782h3M1525 1741h3M1456 1778h3M1599 1708h3M1481 1711h3M1492 1743h3M1383 1886h3M1427 1803h3M1537 1733h3M1493 1740h3M1469 1749h3M1606 1691h3M1497 1798h3M1437 1795h3M1429 1804h3M1548 1719h3M1587 1677h3M1451 1758h3M1498 1741h3M1561 1740h3M1491 1746h3M1445 1789h3M1463 1774h3M1458 1778h3M1519 1770h3M1474 1842h3M1523 1691h3M1528 1755h3M1485 1720h3M1370 1846h3M1415 1796h3M1448 1754h3M1530 1801h3M1459 1781h3M1397 1807h3M1369 1809h3M1551 1747h3M1457 1760h3M1541 1727h3M1437 1806h3M1440 1781h3M1531 1791h3M1413 1782h3M1505 1682h3M1510 1727h3M1466 1838h3M1518 1756h3M1474 1763h3M1398 1837h3M1511 1751h3M1499 1743h3M1553 1764h3M1391 1803h3M1538 1732h3M1544 1757h3M1490 1749h3M1440 1778h3M1565 1740h3M1468 1762h3M1383 1802h3M1555 1695h3M1455 1784h3M1456 1842h3M1397 1857h3M1518 1761h3M1421 1814h3M1411 1793h3M1508 1743h3M1437 1792h3M1480 1762h3M1458 1762h3M1481 1821h3M1433 1799h3M1429 1810h3M1549 1710h3M1472 1736h3M1480 1739h3M1407 1821h3M1518 1720h3M1471 1750h3M1517 1746h3M1426 1814h3M1395 1782h3M1543 1732h3M1450 1775h3M1377 1802h3M1429 1801h3M1504 1810h3M1421 1798h3M1416 1770h3M1539 1729h3M1522 1789h3M1509 1797h3M1384 1891h3M1469 1763h3M1511 1746h3M1406 1773h3M1501 1673h3M1492 1810h3M1483 1749h3M1444 1782h3M1388 1803h3M1494 1720h3M1452 1867h3M1409 1790h3M1430 1808h3M1534 1741h3M1421 1811h3M1481 1738h3M1425 1778h3M1466 1770h3M1543 1675h3M1558 1674h3M1521 1757h3M1442 1791h3M1537 1770h3M1396 1801h3M1417 1874h3M1518 1705h3M1432 1795h3M1510 1797h3M1459 1767h3M1483 1753h3M1376 1842h3M1445 1796h3M1383 1822h3M1456 1784h3M1428 1815h3M1505 1749h3M1440 1780h3M1444 1779h3M1446 1785h3M1519 1751h3M1497 1751h3M1397 1827h3M1485 1812h3M1382 1798h3M1446 1778h3M1559 1664h3M1390 1823h3M1517 1737h3M1403 1914h3M1462 1917h3M1429 1904h3M1460 1926h3M1438 1924h3M1389 1920h3M1491 1894h3M1454 1912h3M1474 1936h3M1471 1908h3M1457 1917h3M1491 1917h3M1445 1905h3M1436 1895h3M1447 1901h3M1491 1889h3M1467 1889h3M1492 1918h3M1508 1923h3M1428 1913h3M1442 1902h3M1428 1906h3M1467 1916h3M1551 1909h3M1467 1910h3M1455 1906h3M1466 1908h3M1490 1920h3M1433 1912h3M1475 1907h3M1456 1910h3M1485 1915h3M1445 1911h3M1507 1894h3M1487 1907h3M1593 1924h3M1466 1910h3M1412 1902h3M1534 1919h3M1454 1912h3M1466 1894h3M1468 1922h3M1413 1907h3M1370 1880h3M1493 1936h3M1528 1887h3M1461 1906h3M1501 1918h3M1467 1924h3M1449 1931h3M1453 1933h3M1471 1917h3M1425 1883h3M1410 1921h3M1390 1938h3M1453 1886h3M1476 1888h3M1466 1907h3M1505 1929h3M1496 1903h3M1507 1911h3M1468 1921h3M1474 1887h3M1486 1882h3M1480 1911h3M1467 1891h3M1498 1909h3M1493 1898h3M1440 1913h3M1499 1887h3M1444 1903h3M1455 1903h3M1501 1926h3M1465 1928h3M1499 1900h3M1439 1925h3M1537 1867h3M1443 1927h3M1437 1929h3M1472 1888h3M1448 1919h3M1433 1923h3M1475 1906h3M1478 1905h3M1472 1893h3M1513 1907h3M1504 1953h3M1518 1912h3M1470 1911h3M1475 1896h3M1402 1918h3M1466 1941h3M1526 1886h3M1432 1927h3M1505 1915h3M1466 1877h3M1543 1899h3M1484 1919h3M1433 1928h3M1514 1911h3M1469 1925h3M1498 1929h3M1434 1894h3M1419 1908h3M1441 1896h3M1495 1919h3M1492 1909h3M1450 1896h3M1473 1878h3M1434 1923h3M1493 1911h3M1425 1923h3M1439 1910h3M1431 1947h3M1515 1896h3M1424 1911h3M1486 1936h3M1462 1888h3M1474 1917h3M1409 1907h3M1454 1893h3M1472 1932h3M1499 1895h3M1444 1925h3M1453 1905h3M1540 1863h3M1442 1896h3M1462 1945h3M1459 1907h3M1469 1906h3M1477 1961h3M1440 1908h3M1462 1872h3M1485 1911h3M1397 1907h3M1470 1895h3M1501 1901h3M1413 1927h3M1459 1915h3M1409 1886h3M1429 1909h3M1459 1938h3M1517 1915h3M1461 1948h3M1466 1931h3M1447 1910h3M1454 1899h3M1477 1896h3M1460 1920h3M1536 1876h3M1467 1925h3M1452 1929h3M1482 1921h3M1450 1908h3M1456 1893h3M1470 1892h3M1432 1886h3M1502 1901h3M1434 1927h3M1450 1918h3M1458 1919h3M1470 1871h3M1514 1931h3M1414 1929h3M1456 1914h3M1508 1931h3M1497 1950h3M1501 1901h3M1420 1928h3M1405 1905h3M1452 1899h3M1510 1918h3M1456 1929h3M1450 1935h3M1534 1910h3M1458 1934h3M1397 1888h3M1429 1881h3M1464 1918h3M1463 1911h3M1495 1932h3M1507 1909h3M1465 1940h3M1478 1937h3M1448 1911h3M1442 1912h3M1479 1903h3M1531 1884h3M1494 1891h3M1474 1897h3M1466 1913h3M1437 1889h3M1439 1912h3M1492 1943h3M1405 1921h3M1448 1912h3M1475 1927h3M1478 1911h3M1517 1917h3M1464 1934h3M1425 1894h3M1514 1908h3M1403 1927h3M1505 1897h3M1419 1911h3M1476 1900h3M1432 1922h3M1482 1882h3M1425 1906h3M1442 1916h3M1481 1947h3M1476 1929h3M1410 1899h3M1499 1884h3M1509 1922h3M1468 1909h3M1424 1891h3M1445 1903h3M1505 1892h3M1442 1879h3M1469 1912h3M1501 1948h3M1482 1895h3M1471 1917h3M1461 1891h3M1475 1889h3M1460 1906h3M1375 1923h3M1536 1905h3M1442 1929h3M1419 1912h3M1471 1901h3M1461 1896h3M1443 1924h3M1433 1901h3M1439 1921h3M1450 1895h3M1474 1874h3M1398 1917h3M1527 1902h3M1475 1885h3M1467 1915h3M1483 1898h3M1529 1893h3M1515 1891h3M1490 1937h3M1537 1909h3M1407 1928h3M1439 1891h3M1396 1782h3M1453 1770h3M1431 1669h3M1424 1806h3M1499 1870h3M1451 1951h3M1490 1758h3M1511 1955h3M1399 1678h3M1444 1765h3M1374 1806h3M1397 1958h3M1481 1934h3M1485 1943h3M1437 1894h3M1403 1907h3M1422 1915h3M1390 1910h3M1483 1751h3M1487 1712h3M1370 1925h3M1480 1876h3M1375 1673h3M1426 1941h3M1472 1648h3M1487 1944h3M1370 1817h3M1452 1758h3M1397 1813h3M1475 1853h3M1367 1872h3M1474 1825h3M1435 1660h3M1473 1697h3M1466 1836h3M1370 1907h3M1500 1713h3M1390 1681h3M1424 1920h3M1482 1668h3M1497 1909h3M1389 1817h3M1476 1651h3M1383 1809h3M1428 1789h3M1381 1897h3M1468 1675h3M1427 1776h3M1452 1948h3M1520 1885h3M1493 1860h3M1395 1778h3M1453 1675h3M1373 1765h3M1418 1790h3M1407 1923h3M1395 1787h3M1389 1858h3M1435 1953h3M1478 1702h3M1485 1681h3M1497 1669h3M1496 1693h3M1385 1673h3M1423 1877h3M1394 1915h3M1426 1678h3M1503 1917h3M1503 1919h3M1396 1895h3M1500 1711h3M1493 1965h3M1392 1904h3M1484 1752h3M1488 1900h3M1504 1679h3M1441 1974h3M1403 1865h3M1442 1949h3M1508 1710h3M1490 1744h3M1499 1957h3M1459 1694h3M1450 1653h3M1397 1821h3M1455 1782h3M1372 1951h3M1365 1741h3M1516 1723h3M1372 1869h3M1490 1967h3M1494 1896h3M1449 1663h3M1451 1924h3M1399 1823h3M1457 1859h3M1503 1799h3M1400 1650h3M1507 1920h3M1412 1918h3M1452 1898h3M1488 1875h3M1517 1803h3M1479 1667h3M1508 1915h3M1445 1653h3M1460 1771h3M1404 1938h3M1425 1894h3M1514 1853h3M1514 1954h3M1510 1900h3M1464 1681h3M1396 1920h3M1439 1908h3M1381 1859h3M1447 1941h3M1512 1654h3M1388 1831h3M1506 1693h3M1600 1686h3M1584 1866h3M1515 1695h3M1389 1928h3M1494 1700h3M1510 1851h3M1548 1723h3M1596 1748h3M1547 1752h3M1485 1652h3M1542 1783h3M1448 1931h3M1490 1708h3M1596 1954h3M1432 1798h3M1516 1804h3M1419 1900h3M1599 1666h3M1584 1746h3M1525 1826h3M1501 1903h3M1382 1780h3M1464 1905h3M1528 1941h3M1478 1752h3M1428 1791h3M1489 1872h3M1453 1647h3M1557 1938h3M1471 1767h3M1532 1683h3M1491 1676h3M1383 1916h3M1473 1845h3M1568 1947h3M1593 1971h3M1565 1815h3M1573 1957h3M1481 1717h3M1528 1830h3M1511 1711h3M1481 1937h3M1414 1899h3M1447 1933h3M1545 1871h3M1400 1853h3M1380 1868h3M1565 1940h3M1520 1777h3M1375 1668h3M1437 1661h3M1408 1651h3M1370 1647h3M1376 1667h3M1369 1672h3M1477 1667h3M1495 1651h3M1427 1652h3M1500 1663h3M1427 1662h3M1382 1658h3M1369 1667h3M1465 1661h3M1369 1647h3M1441 1656h3M1400 1648h3M1421 1661h3M1443 1649h3M1420 1659h3M1396 1668h3M1428 1665h3M1422 1652h3M1388 1669h3M1411 1662h3M1397 1667h3M1438 1646h3M1491 1669h3M1445 1662h3M1409 1668h3M1516 1658h3M1367 1659h3M1414 1669h3M1398 1669h3M1456 1661h3M1455 1660h3M1375 1647h3M1429 1659h3M1367 1659h3M1405 1663h3M1388 1651h3M1459 1656h3M1451 1650h3M1401 1655h3M1371 1666h3M1411 1670h3M1491 1651h3M1391 1659h3M1411 1666h3M1429 1668h3M1382 1660h3M1367 1657h3M1411 1654h3M1383 1652h3M1418 1663h3M1391 1657h3M1423 1649h3M1449 1679h3M1424 1653h3M1418 1670h3M1422 1651h3M1391 1661h3M1430 1655h3M1375 1656h3M1367 1676h3M1413 1658h3M1367 1653h3M1395 1653h3M1399 1659h3M1391 1662h3M1437 1653h3M1438 1659h3M1386 1663h3M1453 1655h3M1448 1647h3M1403 1663h3M1437 1666h3M1467 1647h3M1446 1681h3M1436 1651h3M1414 1651h3M1417 1667h3M1447 1662h3M1414 1663h3M1406 1658h3M1383 1679h3M1447 1647h3M1380 1652h3M1383 1652h3M1434 1664h3M1410 1662h3M1411 1658h3M1452 1647h3M1398 1651h3M1443 1653h3M1420 1657h3M1376 1648h3M1411 1652h3M1365 1671h3M1384 1668h3M1439 1650h3M1433 1669h3M1421 1662h3M1380 1650h3M1535 1669h3M1394 1663h3M1473 1674h3M1392 1654h3M1387 1660h3M1441 1647h3M1399 1652h3M1375 1652h3M1480 1675h3M1419 1682h3M1423 1650h3M1430 1655h3M1390 1660h3M1426 1656h3M1406 1647h3M1405 1665h3M1410 1656h3M1392 1666h3M1449 1654h3M1367 1648h3M1418 1678h3M1433 1656h3M1461 1656h3M1441 1661h3M1478 1654h3M1438 1663h3M1396 1654h3M1447 1651h3M1385 1666h3M1444 1673h3M1390 1656h3M1476 1658h3M1412 1648h3M1399 1658h3M1466 1661h3M1452 1657h3M1384 1661h3M1370 1661h3M1395 1655h3M1396 1648h3M1443 1656h3M1414 1662h3M1421 1660h3M1422 1661h3M1389 1655h3M1397 1651h3M1385 1671h3M1386 1664h3M1407 1656h3M1430 1675h3M1402 1657h3M1385 1678h3M1454 1669h3M1382 1667h3M1384 1651h3M1424 1653h3M1370 1660h3M1442 1657h3M1452 1652h3M1417 1662h3M1385 1658h3M1408 1664h3M1459 1653h3M1426 1656h3M1376 1650h3M1405 1658h3M1377 1685h3M1406 1664h3M1396 1686h3M1414 1670h3M1405 1648h3M1470 1664h3M1396 1655h3M1397 1659h3M1382 1663h3M1420 1647h3M1460 1665h3M1371 1647h3M1379 1661h3M1457 1649h3M1376 1663h3M1404 1657h3M1402 1654h3M1476 1667h3M1393 1670h3M1482 1662h3M1419 1653h3M1411 1660h3M1458 1648h3M1398 1650h3M1415 1656h3M1432 1658h3M1381 1666h3M1423 1647h3M1414 1665h3M1383 1654h3M1538 1715h3M1527 1719h3M1517 1761h3M1571 1676h3M1516 1735h3M1510 1734h3M1554 1735h3M1561 1694h3M1527 1716h3M1541 1742h3M1580 1712h3M1513 1797h3M1571 1728h3M1555 1739h3M1526 1717h3M1544 1710h3M1545 1733h3M1571 1705h3M1551 1676h3M1565 1676h3M1538 1719h3M1515 1778h3M1557 1651h3M1500 1798h3M1537 1750h3M1534 1722h3M1553 1694h3M1526 1749h3M1489 1752h3M1501 1796h3M1613 1668h3M1514 1745h3M1571 1688h3M1500 1694h3M1535 1703h3M1537 1739h3M1553 1730h3M1560 1647h3M1513 1800h3M1547 1701h3M1533 1736h3M1569 1684h3M1524 1712h3M1592 1677h3M1510 1729h3M1551 1736h3M1636 1661h3M1525 1735h3M1517 1766h3M1525 1759h3M1557 1718h3M1526 1773h3M1521 1720h3M1543 1728h3M1556 1733h3M1607 1704h3M1554 1741h3M1485 1840h3M1557 1739h3M1542 1739h3M1554 1696h3M1489 1716h3M1558 1703h3M1551 1746h3M1556 1714h3M1546 1746h3M1512 1730h3M1558 1752h3M1532 1770h3M1513 1710h3M1591 1726h3M1544 1697h3M1525 1724h3M1480 1821h3M1544 1697h3M1523 1747h3M1590 1656h3M1531 1763h3M1510 1737h3M1549 1738h3M1543 1715h3M1605 1686h3M1547 1718h3M1551 1727h3M1476 1750h3M1567 1727h3M1544 1713h3M1556 1701h3M1571 1700h3M1558 1694h3M1578 1719h3M1527 1732h3M1583 1680h3M1588 1680h3M1609 1662h3M1564 1726h3M1538 1758h3M1538 1725h3M1550 1705h3M1563 1708h3M1555 1729h3M1511 1753h3M1582 1654h3M1580 1674h3M1563 1707h3M1538 1735h3M1565 1682h3M1525 1768h3M1530 1737h3M1533 1726h3M1513 1727h3M1530 1747h3M1591 1655h3M1580 1670h3M1555 1704h3M1569 1698h3M1513 1722h3M1556 1672h3M1547 1764h3M1553 1716h3M1551 1722h3M1538 1740h3M1535 1726h3M1566 1713h3M1567 1721h3M1623 1673h3M1534 1709h3M1581 1683h3M1564 1692h3M1557 1681h3M1534 1704h3M1604 1647h3M1497 1813h3M1592 1702h3M1515 1768h3M1583 1673h3M1555 1707h3M1553 1748h3M1522 1752h3M1564 1702h3M1547 1672h3M1566 1669h3M1535 1727h3M1558 1704h3M1541 1745h3M1519 1741h3M1494 1755h3M1540 1747h3M1520 1733h3M1533 1719h3M1526 1705h3M1517 1734h3M1492 1733h3M1522 1736h3M1509 1735h3M1546 1702h3M1584 1707h3M1573 1713h3M1534 1743h3M1510 1721h3M1571 1690h3M1555 1707h3M1512 1751h3M1539 1699h3M1618 1691h3M1486 1815h3M1538 1746h3M1548 1715h3M1573 1692h3M1593 1674h3M1538 1718h3M1531 1788h3M1542 1726h3M1554 1739h3M1588 1656h3M1537 1761h3M1581 1688h3M1563 1694h3M1544 1724h3M1489 1808h3M1558 1686h3M1532 1746h3M1567 1698h3M1536 1744h3M1537 1709h3M1531 1731h3M1549 1686h3M1516 1748h3M1574 1746h3M1552 1740h3M1584 1708h3M1604 1667h3M1512 1754h3M1616 1691h3M1612 1702h3M1556 1690h3M1552 1723h3M1583 1699h3M1533 1767h3M1531 1746h3M1573 1707h3M1554 1699h3M1552 1738h3M1517 1728h3M1518 1756h3M1545 1746h3M1504 1743h3M1558 1728h3M1523 1762h3M1551 1728h3M1539 1735h3M1522 1747h3M1588 1677h3M1551 1725h3M1579 1666h3M1525 1749h3M1560 1687h3M1524 1770h3M1567 1677h3M1565 1695h3M1528 1740h3M1497 1738h3M1558 1717h3M1560 1685h3M1525 1711h3M1526 1770h3M1562 1748h3M1559 1695h3M1497 1729h3M1596 1687h3M1541 1701h3M1525 1710h3M1577 1709h3M1513 1786h3M1502 1745h3M1503 1799h3M1548 1689h3M1515 1756h3M1534 1709h3M1593 1681h3M1503 1790h3M1547 1713h3M1514 1772h3M1544 1757h3M1589 1693h3M1620 1679h3M1596 1690h3M1538 1768h3M1607 1659h3M1558 1704h3M1546 1714h3M1556 1705h3M1559 1711h3M1601 1680h3M1583 1676h3M1568 1677h3M1534 1758h3M1541 1707h3M1591 1704h3M1584 1709h3M1584 1699h3M1496 1735h3M1493 1703h3M1513 1733h3M1538 1713h3M1532 1715h3M1554 1749h3M1490 1744h3M1646 1866h3M1604 1948h3M1592 1896h3M1644 1732h3M1629 1720h3M1600 1907h3M1602 1941h3M1608 1675h3M1603 1731h3M1637 1751h3M1616 1718h3M1606 1803h3M1608 1811h3M1643 1935h3" stroke="#222" stroke-width="3" stroke-opacity="0.9"/><path d="M339.0 421.5 L360.4 421.5 Q368.0 421.5 368.0 430.0 Q368.0 438.5 360.4 438.5 L339.0 438.5 Z" fill="#fff" stroke="#777" stroke-width="0.6"/><path d="M339.0 423.1 L360.3 423.1 Q366.5 423.1 366.5 430.0 Q366.5 436.9 360.3 436.9 L339.0 436.9 Z" fill="none" stroke="#777" stroke-width="0.6"/><path d="M339.0 424.7 L360.2 424.7 Q364.9 424.7 364.9 430.0 Q364.9 435.3 360.2 435.3 L339.0 435.3 Z" fill="none" stroke="#777" stroke-width="0.6"/><path d="M339.0 426.3 L360.1 426.3 Q363.4 426.3 363.4 430.0 Q363.4 433.7 360.1 433.7 L339.0 433.7 Z" fill="none" stroke="#777" stroke-width="0.6"/><path d="M339.0 427.9 L360.0 427.9 Q361.9 427.9 361.9 430.0 Q361.9 432.1 360.0 432.1 L339.0 432.1 Z" fill="none" stroke="#777" stroke-width="0.6"/><ellipse cx="367.5" cy="449.5" rx="15.0" ry="4.8" transform="rotate(-45 367.5 449.5)" fill="#fff" stroke="#444" stroke-width="0.6" opacity="1"/><ellipse cx="357.3" cy="460.7" rx="6.5" ry="7.0" transform="rotate(0 357.3 460.7)" fill="#fff" stroke="#444" stroke-width="0.6" opacity="1"/><ellipse cx="363.0" cy="455.0" rx="9.0" ry="3.2" transform="rotate(-48 363.0 455.0)" fill="#fff" stroke="none" stroke-width="0" opacity="1"/><ellipse cx="386.0" cy="431.0" rx="12.0" ry="4.0" transform="rotate(-50 386.0 431.0)" fill="rgba(0,0,0,0.14)" stroke="#333" stroke-width="0.6" opacity="1"/><ellipse cx="386.0" cy="431.0" rx="9.2" ry="3.1" transform="rotate(-50 386.0 431.0)" fill="rgba(0,0,0,0.14)" stroke="#333" stroke-width="0.6" opacity="1"/><ellipse cx="386.0" cy="431.0" rx="6.4" ry="2.1" transform="rotate(-50 386.0 431.0)" fill="rgba(0,0,0,0.14)" stroke="#333" stroke-width="0.6" opacity="1"/><ellipse cx="386.0" cy="431.0" rx="3.6" ry="1.2" transform="rotate(-50 386.0 431.0)" fill="rgba(0,0,0,0.14)" stroke="#333" stroke-width="0.6" opacity="1"/><ellipse cx="385.0" cy="432.0" rx="6.0" ry="1.3" transform="rotate(-50 385.0 432.0)" fill="none" stroke="#111" stroke-width="0.8" opacity="1"/><rect x="340.2" y="410.8" width="1.5" height="40" fill="#222"/></g><clipPath id="cr2"><rect x="435" y="408.5" width="72.19999999999999" height="84.0"/></clipPath><g clip-path="url(#cr2)"><ellipse cx="479.0" cy="447.0" rx="10.5" ry="15.0" transform="rotate(0 479.0 447.0)" fill="rgba(0,0,0,0.07)" stroke="#666" stroke-width="0.6" opacity="1"/><ellipse cx="479.1" cy="446.8" rx="8.8" ry="12.5" transform="rotate(0 479.1 446.8)" fill="rgba(0,0,0,0.07)" stroke="#666" stroke-width="0.6" opacity="1"/><ellipse cx="479.3" cy="446.5" rx="7.0" ry="10.0" transform="rotate(0 479.3 446.5)" fill="rgba(0,0,0,0.07)" stroke="#666" stroke-width="0.6" opacity="1"/><ellipse cx="479.4" cy="446.2" rx="5.2" ry="7.5" transform="rotate(0 479.4 446.2)" fill="rgba(0,0,0,0.07)" stroke="#666" stroke-width="0.6" opacity="1"/><ellipse cx="479.6" cy="446.0" rx="3.5" ry="5.0" transform="rotate(0 479.6 446.0)" fill="rgba(0,0,0,0.07)" stroke="#666" stroke-width="0.6" opacity="1"/><ellipse cx="479.8" cy="445.8" rx="1.7" ry="2.5" transform="rotate(0 479.8 445.8)" fill="rgba(0,0,0,0.07)" stroke="#666" stroke-width="0.6" opacity="1"/><ellipse cx="470.0" cy="450.0" rx="6.0" ry="9.0" transform="rotate(0 470.0 450.0)" fill="none" stroke="#888" stroke-width="0.55" opacity="1"/><ellipse cx="471.0" cy="451.0" rx="3.5" ry="6.0" transform="rotate(0 471.0 451.0)" fill="none" stroke="#999" stroke-width="0.5" opacity="1"/><ellipse cx="453.0" cy="442.4" rx="3.0" ry="3.0" transform="rotate(0 453.0 442.4)" fill="none" stroke="#888" stroke-width="0.5" opacity="1"/><ellipse cx="453.0" cy="442.4" rx="1.0" ry="1.0" transform="rotate(0 453.0 442.4)" fill="none" stroke="#888" stroke-width="0.5" opacity="1"/><path d="M455 468 C458 464 466 465 470 467 C476 468 476 474 470 476 C466 477 467 480 468 482 C470 486 467 488 462 488 C456 488 454 484 456 480 C458 476 452 474 455 468 Z" fill="rgba(0,0,0,0.04)" stroke="#777" stroke-width=".55"/><path d="M458 470 C462 468 468 469 470 471 C468 474 462 473 460 475 C458 478 462 481 463 484 C459 485 458 481 458 478 Z" fill="none" stroke="#888" stroke-width=".5"/><path d="M455 492 C456 486 462 484 468 486 C474 488 476 491 476 493" fill="rgba(0,0,0,0.05)" stroke="#777" stroke-width=".55"/><path d="M459 492 C460 489 465 488 470 490" fill="none" stroke="#888" stroke-width=".5"/><ellipse cx="436.0" cy="477.0" rx="3.0" ry="3.5" transform="rotate(0 436.0 477.0)" fill="none" stroke="#999" stroke-width="0.5" opacity="1"/><ellipse cx="444.5" cy="491.0" rx="3.0" ry="3.0" transform="rotate(0 444.5 491.0)" fill="none" stroke="#999" stroke-width="0.5" opacity="1"/><circle cx="461" cy="481" r=".8" fill="#555"/></g>
<clipPath id="cc3"><rect x="340.1" y="510.8" width="71.89999999999998" height="82.40000000000003"/></clipPath><g clip-path="url(#cc3)"><path transform="scale(.25)" d="M1423 2324h3M1429 2250h3M1385 2255h3M1456 2207h3M1488 2221h3M1433 2228h3M1454 2155h3M1464 2198h3M1414 2344h3M1402 2234h3M1394 2235h3M1441 2306h3M1446 2279h3M1408 2246h3M1482 2258h3M1489 2195h3M1409 2244h3M1401 2269h3M1398 2257h3M1387 2209h3M1437 2267h3M1402 2182h3M1445 2203h3M1441 2295h3M1448 2182h3M1464 2288h3M1413 2226h3M1470 2256h3M1442 2287h3M1445 2357h3M1469 2250h3M1433 2232h3M1464 2196h3M1455 2220h3M1378 2284h3M1442 2256h3M1421 2243h3M1412 2298h3M1469 2243h3M1431 2256h3M1456 2254h3M1418 2235h3M1438 2239h3M1420 2294h3M1442 2282h3M1406 2279h3M1431 2235h3M1412 2219h3M1418 2250h3M1428 2326h3M1444 2255h3M1428 2213h3M1408 2260h3M1388 2311h3M1475 2186h3M1465 2290h3M1463 2273h3M1477 2213h3M1418 2270h3M1433 2188h3M1454 2287h3M1425 2261h3M1458 2161h3M1415 2210h3M1427 2196h3M1395 2254h3M1482 2196h3M1476 2284h3M1459 2299h3M1419 2291h3M1389 2214h3M1440 2277h3M1392 2169h3M1443 2257h3M1451 2243h3M1394 2291h3M1453 2253h3M1492 2255h3M1474 2240h3M1464 2177h3M1452 2235h3M1457 2261h3M1403 2269h3M1430 2282h3M1486 2238h3M1478 2242h3M1449 2254h3M1413 2251h3M1419 2269h3M1402 2207h3M1456 2268h3M1448 2269h3M1461 2265h3M1457 2215h3M1446 2217h3M1397 2237h3M1450 2247h3M1482 2274h3M1444 2251h3M1394 2249h3M1432 2317h3M1410 2241h3M1411 2253h3M1383 2258h3M1432 2254h3M1506 2243h3M1445 2246h3M1462 2337h3M1480 2260h3M1396 2264h3M1385 2211h3M1415 2202h3M1432 2232h3M1411 2261h3M1411 2298h3M1450 2229h3M1444 2219h3M1414 2288h3M1386 2265h3M1486 2157h3M1499 2168h3M1368 2161h3M1398 2222h3M1377 2238h3M1454 2214h3M1435 2271h3M1480 2242h3M1452 2266h3M1433 2232h3M1441 2274h3M1394 2230h3M1441 2258h3M1441 2312h3M1461 2194h3M1476 2217h3M1407 2289h3M1422 2177h3M1449 2264h3M1446 2188h3M1454 2220h3M1457 2194h3M1403 2165h3M1409 2289h3M1438 2222h3M1470 2254h3M1453 2259h3M1428 2251h3M1443 2291h3M1448 2281h3M1399 2168h3M1440 2251h3M1443 2204h3M1435 2201h3M1433 2242h3M1426 2257h3M1416 2244h3M1451 2307h3M1442 2278h3M1447 2313h3M1490 2219h3M1450 2257h3M1476 2145h3M1412 2174h3M1470 2256h3M1450 2262h3M1439 2262h3M1419 2161h3M1440 2242h3M1414 2220h3M1468 2215h3M1400 2272h3M1472 2192h3M1402 2202h3M1441 2268h3M1471 2242h3M1423 2220h3M1463 2220h3M1407 2235h3M1430 2261h3M1412 2316h3M1485 2199h3M1434 2203h3M1422 2194h3M1422 2255h3M1435 2190h3M1373 2169h3M1465 2237h3M1432 2304h3M1402 2261h3M1411 2252h3M1376 2228h3M1428 2249h3M1389 2234h3M1456 2241h3M1455 2271h3M1437 2229h3M1432 2206h3M1449 2258h3M1464 2336h3M1454 2267h3M1436 2279h3M1470 2233h3M1394 2189h3M1459 2263h3M1446 2176h3M1414 2181h3M1397 2221h3M1411 2309h3M1394 2219h3M1409 2247h3M1451 2211h3M1382 2227h3M1442 2200h3M1458 2202h3M1412 2226h3M1485 2276h3M1440 2203h3M1398 2216h3M1476 2298h3M1434 2215h3M1380 2226h3M1445 2267h3M1441 2215h3M1445 2238h3M1455 2255h3M1452 2258h3M1417 2292h3M1400 2272h3M1417 2229h3M1438 2223h3M1401 2206h3M1398 2245h3M1439 2241h3M1386 2250h3M1457 2198h3M1404 2282h3M1425 2288h3M1421 2186h3M1429 2242h3M1439 2210h3M1417 2327h3M1414 2309h3M1398 2254h3M1441 2280h3M1430 2218h3M1433 2184h3M1475 2278h3M1483 2264h3M1388 2204h3M1439 2210h3M1403 2200h3M1408 2167h3M1442 2215h3M1466 2311h3M1428 2287h3M1461 2253h3M1425 2296h3M1449 2237h3M1416 2244h3M1457 2272h3M1413 2238h3M1435 2228h3M1428 2205h3M1407 2256h3M1437 2232h3M1492 2237h3M1450 2256h3M1417 2272h3M1461 2245h3M1444 2359h3M1405 2236h3M1446 2245h3M1407 2225h3M1424 2234h3M1432 2308h3M1437 2229h3M1450 2271h3M1400 2220h3M1400 2258h3M1455 2236h3M1465 2222h3M1422 2242h3M1436 2311h3M1399 2267h3M1433 2292h3M1393 2198h3M1478 2295h3M1461 2240h3M1460 2245h3M1400 2239h3M1423 2203h3M1415 2217h3M1445 2284h3M1462 2289h3M1401 2268h3M1453 2261h3M1435 2212h3M1456 2186h3M1446 2227h3M1393 2227h3M1426 2278h3M1453 2294h3M1452 2226h3M1418 2251h3M1421 2179h3M1373 2275h3M1434 2324h3M1416 2286h3M1435 2264h3M1432 2289h3M1445 2226h3M1427 2235h3M1433 2254h3M1418 2221h3M1430 2173h3M1442 2259h3M1430 2154h3M1443 2284h3M1444 2282h3M1427 2279h3M1450 2239h3M1433 2178h3M1392 2285h3M1459 2211h3M1387 2165h3M1463 2258h3M1484 2295h3M1487 2278h3M1414 2231h3M1461 2187h3M1446 2228h3M1466 2222h3M1409 2282h3M1438 2220h3M1449 2225h3M1448 2248h3M1451 2206h3M1411 2318h3M1439 2237h3M1405 2223h3M1437 2195h3M1429 2233h3M1375 2244h3M1464 2226h3M1424 2254h3M1413 2174h3M1431 2226h3M1412 2299h3M1433 2214h3M1411 2308h3M1453 2172h3M1447 2224h3M1413 2289h3M1450 2210h3M1429 2269h3M1427 2260h3M1410 2296h3M1471 2217h3M1390 2225h3M1454 2252h3M1428 2251h3M1388 2242h3M1427 2218h3M1452 2217h3M1412 2272h3M1448 2247h3M1436 2260h3M1439 2205h3M1453 2325h3M1441 2233h3M1463 2269h3M1409 2240h3M1414 2285h3M1393 2294h3M1411 2256h3M1418 2259h3M1463 2269h3M1396 2234h3M1434 2320h3M1416 2228h3M1408 2242h3M1449 2204h3M1469 2295h3M1453 2269h3M1499 2201h3M1415 2331h3M1395 2257h3M1425 2206h3M1403 2235h3M1438 2264h3M1447 2247h3M1431 2269h3M1412 2191h3M1454 2160h3M1446 2295h3M1395 2154h3M1406 2256h3M1403 2285h3M1448 2204h3M1452 2186h3M1417 2253h3M1467 2276h3M1472 2185h3M1521 2208h3M1438 2307h3M1444 2293h3M1395 2198h3M1417 2221h3M1433 2231h3M1397 2253h3M1390 2216h3M1439 2208h3M1429 2270h3M1472 2292h3M1455 2264h3M1394 2209h3M1405 2222h3M1426 2205h3M1417 2289h3M1417 2165h3M1422 2238h3M1420 2330h3M1456 2312h3M1412 2274h3M1437 2240h3M1406 2252h3M1375 2282h3M1508 2303h3M1370 2251h3M1408 2218h3M1422 2291h3M1450 2209h3M1445 2249h3M1487 2184h3M1426 2205h3M1428 2161h3M1403 2239h3M1412 2207h3M1426 2220h3M1403 2233h3M1430 2256h3M1380 2226h3M1462 2185h3M1433 2223h3M1460 2292h3M1437 2223h3M1385 2221h3M1405 2244h3M1473 2319h3M1438 2248h3M1425 2255h3M1423 2313h3M1408 2248h3M1412 2281h3M1480 2270h3M1435 2245h3M1446 2225h3M1476 2314h3M1458 2276h3M1418 2317h3M1391 2215h3M1489 2227h3M1407 2178h3M1459 2292h3M1436 2179h3M1428 2213h3M1455 2303h3M1443 2262h3M1473 2312h3M1397 2263h3M1398 2214h3M1462 2201h3M1426 2294h3M1443 2180h3M1428 2236h3M1406 2326h3M1433 2248h3M1460 2252h3M1395 2246h3M1443 2252h3M1461 2281h3M1446 2240h3M1433 2323h3M1386 2291h3M1444 2219h3M1431 2271h3M1393 2253h3M1448 2211h3M1436 2302h3M1437 2213h3M1388 2177h3M1459 2239h3M1429 2239h3M1412 2316h3M1451 2306h3M1399 2271h3M1450 2202h3M1408 2215h3M1460 2256h3M1412 2274h3M1414 2252h3M1430 2213h3M1458 2249h3M1369 2240h3M1473 2159h3M1457 2256h3M1398 2246h3M1401 2187h3M1443 2258h3M1382 2226h3M1433 2185h3M1462 2218h3M1443 2272h3M1406 2260h3M1435 2263h3M1420 2285h3M1452 2307h3M1461 2194h3M1416 2264h3M1460 2219h3M1432 2259h3M1429 2286h3M1405 2267h3M1410 2264h3M1407 2236h3M1458 2209h3M1434 2272h3M1429 2236h3M1432 2212h3M1453 2275h3M1480 2258h3M1462 2227h3M1445 2211h3M1439 2234h3M1458 2167h3M1427 2235h3M1450 2219h3M1420 2296h3M1415 2232h3M1463 2165h3M1443 2260h3M1439 2177h3M1393 2215h3M1409 2273h3M1420 2302h3M1431 2271h3M1414 2224h3M1444 2281h3M1414 2297h3M1425 2308h3M1398 2233h3M1450 2244h3M1416 2272h3M1458 2231h3M1453 2230h3M1410 2297h3M1417 2228h3M1453 2209h3M1406 2237h3M1435 2283h3M1427 2222h3M1397 2234h3M1419 2290h3M1388 2178h3M1381 2237h3M1444 2310h3M1388 2253h3M1415 2310h3M1441 2306h3M1431 2288h3M1442 2222h3M1457 2234h3M1370 2242h3M1398 2267h3M1474 2258h3M1447 2198h3M1410 2223h3M1485 2230h3M1439 2174h3M1418 2251h3M1428 2235h3M1443 2265h3M1398 2194h3M1447 2278h3M1394 2272h3M1393 2239h3M1466 2182h3M1431 2237h3M1400 2276h3M1405 2220h3M1401 2263h3M1447 2299h3M1424 2213h3M1472 2221h3M1450 2309h3M1453 2174h3M1402 2214h3M1454 2215h3M1452 2254h3M1435 2244h3M1410 2299h3M1434 2304h3M1406 2178h3M1469 2199h3M1434 2230h3M1426 2231h3M1400 2197h3M1436 2216h3M1478 2247h3M1469 2225h3M1452 2220h3M1404 2234h3M1424 2347h3M1393 2218h3M1450 2237h3M1434 2274h3M1426 2215h3M1392 2241h3M1445 2252h3M1462 2227h3M1437 2210h3M1376 2266h3M1417 2269h3M1412 2182h3M1404 2231h3M1410 2232h3M1445 2243h3M1442 2237h3M1410 2204h3M1368 2266h3M1460 2204h3M1403 2209h3M1439 2247h3M1423 2241h3M1383 2238h3M1424 2262h3M1409 2222h3M1435 2349h3M1412 2324h3M1404 2245h3M1403 2297h3M1433 2251h3M1458 2295h3M1411 2253h3M1416 2289h3M1371 2330h3M1423 2161h3M1437 2210h3M1430 2248h3M1459 2171h3M1441 2289h3M1394 2273h3M1452 2222h3M1376 2250h3M1416 2305h3M1423 2271h3M1439 2251h3M1395 2215h3M1433 2240h3M1427 2274h3M1431 2272h3M1432 2259h3M1415 2184h3M1453 2278h3M1448 2212h3M1460 2247h3M1434 2217h3M1416 2218h3M1440 2216h3M1429 2222h3M1394 2246h3M1433 2246h3M1429 2206h3M1483 2245h3M1450 2249h3M1366 2291h3M1398 2286h3M1426 2209h3M1402 2245h3M1399 2272h3M1415 2226h3M1485 2275h3M1412 2258h3M1385 2214h3M1425 2214h3M1402 2269h3M1413 2211h3M1413 2217h3M1451 2255h3M1388 2296h3M1459 2232h3M1402 2244h3M1414 2264h3M1428 2293h3M1385 2219h3M1437 2224h3M1418 2198h3M1482 2236h3M1448 2212h3M1417 2240h3M1475 2297h3M1486 2303h3M1470 2235h3M1410 2294h3M1410 2264h3M1413 2202h3M1431 2208h3M1421 2277h3M1424 2282h3M1417 2257h3M1402 2295h3M1373 2254h3M1384 2183h3M1427 2233h3M1420 2267h3M1492 2203h3M1439 2245h3M1459 2160h3M1385 2201h3M1400 2252h3M1416 2164h3M1409 2179h3M1408 2235h3M1408 2290h3M1491 2262h3M1387 2299h3M1486 2235h3M1439 2286h3M1435 2292h3M1444 2219h3M1416 2233h3M1410 2294h3M1438 2235h3M1451 2246h3M1458 2306h3M1434 2220h3M1397 2312h3M1440 2219h3M1426 2198h3M1466 2255h3M1419 2185h3M1487 2247h3M1368 2220h3M1428 2248h3M1399 2288h3M1445 2244h3M1411 2173h3M1416 2234h3M1396 2254h3M1451 2224h3M1418 2242h3M1474 2298h3M1383 2223h3M1499 2230h3M1477 2262h3M1464 2229h3M1431 2264h3M1429 2240h3M1468 2236h3M1465 2219h3M1420 2271h3M1443 2281h3M1430 2242h3M1416 2181h3M1418 2283h3M1427 2251h3M1463 2207h3M1439 2221h3M1460 2186h3M1420 2223h3M1420 2221h3M1480 2234h3M1425 2187h3M1393 2213h3M1396 2263h3M1413 2225h3M1425 2207h3M1395 2216h3M1435 2239h3M1406 2305h3M1439 2269h3M1471 2207h3M1455 2253h3M1437 2184h3M1407 2243h3M1428 2303h3M1419 2252h3M1421 2192h3M1420 2247h3M1476 2291h3M1415 2208h3M1429 2221h3M1496 2276h3M1428 2222h3M1400 2240h3M1417 2302h3M1382 2278h3M1420 2273h3M1410 2259h3M1452 2342h3M1408 2239h3M1427 2221h3M1427 2245h3M1420 2177h3M1437 2187h3M1427 2283h3M1395 2238h3M1435 2242h3M1417 2244h3M1448 2205h3M1425 2271h3M1414 2197h3M1450 2270h3M1456 2243h3M1412 2302h3M1463 2275h3M1416 2248h3M1406 2203h3M1432 2256h3M1445 2248h3M1485 2206h3M1465 2228h3M1455 2209h3M1489 2299h3M1387 2295h3M1435 2279h3M1430 2239h3M1393 2226h3M1430 2180h3M1404 2245h3M1443 2227h3M1468 2225h3M1447 2295h3M1409 2290h3M1427 2212h3M1474 2308h3M1423 2287h3M1458 2245h3M1490 2241h3M1413 2247h3M1428 2229h3M1424 2194h3M1448 2193h3M1461 2273h3M1421 2231h3M1414 2246h3M1479 2259h3M1420 2314h3M1421 2232h3M1490 2272h3M1464 2270h3M1446 2273h3M1452 2332h3M1400 2154h3M1424 2189h3M1436 2200h3M1433 2289h3M1418 2218h3M1453 2217h3M1429 2241h3M1397 2283h3M1402 2281h3M1442 2205h3M1422 2279h3M1424 2332h3M1405 2292h3M1387 2236h3M1459 2172h3M1439 2203h3M1395 2217h3M1416 2227h3M1415 2212h3M1489 2263h3M1423 2207h3M1439 2256h3M1406 2239h3M1451 2257h3M1430 2250h3M1411 2243h3M1433 2217h3M1428 2281h3M1459 2160h3M1392 2284h3M1443 2263h3M1393 2248h3M1447 2262h3M1411 2223h3M1439 2253h3M1466 2157h3M1415 2294h3M1400 2249h3M1470 2206h3M1440 2320h3M1396 2168h3M1460 2226h3M1429 2248h3M1465 2234h3M1458 2275h3M1431 2286h3M1439 2242h3M1514 2167h3M1399 2205h3M1419 2252h3M1425 2334h3M1417 2203h3M1431 2228h3M1417 2281h3M1439 2289h3M1401 2269h3M1431 2220h3M1387 2242h3M1399 2273h3M1443 2264h3M1507 2294h3M1375 2268h3M1436 2253h3M1417 2281h3M1447 2252h3M1456 2230h3M1416 2275h3M1435 2176h3M1456 2202h3M1455 2252h3M1446 2285h3M1402 2270h3M1429 2234h3M1430 2225h3M1431 2254h3M1413 2287h3M1433 2201h3M1443 2265h3M1391 2256h3M1420 2255h3M1426 2260h3M1435 2155h3M1432 2266h3M1450 2293h3M1440 2296h3M1454 2226h3M1411 2295h3M1450 2176h3M1401 2290h3M1435 2176h3M1442 2283h3M1448 2243h3M1425 2223h3M1416 2255h3M1500 2347h3M1426 2186h3M1428 2233h3M1423 2178h3M1428 2219h3M1432 2183h3M1431 2196h3M1407 2219h3M1415 2223h3M1415 2220h3M1411 2222h3M1421 2319h3M1456 2221h3M1392 2289h3M1430 2258h3M1462 2169h3M1413 2252h3M1469 2241h3M1432 2243h3M1429 2250h3M1414 2216h3M1420 2269h3M1463 2249h3M1423 2293h3M1446 2273h3M1427 2228h3M1444 2238h3M1463 2210h3M1439 2245h3M1402 2230h3M1401 2231h3M1423 2349h3M1402 2270h3M1418 2259h3M1421 2213h3M1470 2289h3M1382 2239h3M1420 2182h3M1435 2264h3M1432 2263h3M1479 2227h3M1465 2331h3M1468 2258h3M1414 2301h3M1455 2181h3M1453 2238h3M1436 2198h3M1446 2251h3M1405 2231h3M1470 2305h3M1389 2265h3M1422 2225h3M1437 2305h3M1446 2207h3M1432 2263h3M1461 2242h3M1435 2254h3M1449 2171h3M1469 2258h3M1431 2202h3M1438 2323h3M1414 2181h3M1443 2246h3M1430 2185h3M1443 2270h3M1452 2210h3M1372 2249h3M1490 2260h3M1493 2259h3M1425 2214h3M1470 2193h3M1414 2229h3M1439 2247h3M1390 2199h3M1478 2249h3M1431 2232h3M1439 2216h3M1462 2279h3M1431 2282h3M1426 2229h3M1458 2242h3M1408 2309h3M1426 2263h3M1473 2195h3M1422 2284h3M1423 2228h3M1427 2234h3M1422 2262h3M1434 2314h3M1440 2312h3M1435 2315h3M1428 2294h3M1436 2310h3M1410 2228h3M1442 2208h3M1472 2239h3M1446 2287h3M1448 2217h3M1395 2180h3M1406 2216h3M1409 2264h3M1394 2182h3M1436 2317h3M1406 2241h3M1430 2289h3M1455 2228h3M1457 2248h3M1453 2317h3M1371 2189h3M1394 2196h3M1434 2250h3M1479 2301h3M1439 2240h3M1449 2262h3M1418 2273h3M1417 2242h3M1427 2222h3M1413 2248h3M1427 2196h3M1477 2312h3M1476 2291h3M1428 2208h3M1403 2176h3M1422 2177h3M1434 2255h3M1416 2223h3M1429 2267h3M1421 2311h3M1406 2220h3M1417 2236h3M1436 2266h3M1421 2307h3M1379 2255h3M1431 2191h3M1391 2248h3M1461 2260h3M1428 2231h3M1416 2228h3M1447 2285h3M1445 2217h3M1445 2284h3M1380 2256h3M1415 2248h3M1395 2202h3M1426 2222h3M1416 2209h3M1441 2285h3M1403 2253h3M1417 2253h3M1460 2253h3M1426 2202h3M1460 2307h3M1377 2265h3M1424 2193h3M1476 2263h3M1486 2212h3M1416 2185h3M1431 2177h3M1420 2287h3M1444 2280h3M1433 2272h3M1426 2194h3M1442 2240h3M1407 2200h3M1462 2179h3M1406 2257h3M1446 2252h3M1388 2285h3M1426 2185h3M1458 2239h3M1425 2218h3M1436 2248h3M1408 2259h3M1435 2201h3M1450 2250h3M1424 2256h3M1407 2212h3M1426 2206h3M1470 2252h3M1449 2312h3M1468 2324h3M1406 2307h3M1418 2235h3M1435 2247h3M1429 2256h3M1471 2158h3M1390 2193h3M1438 2248h3M1440 2318h3M1431 2188h3M1442 2315h3M1484 2241h3M1434 2257h3M1446 2239h3M1417 2304h3M1472 2245h3M1414 2220h3M1399 2196h3M1423 2216h3M1438 2224h3M1405 2229h3M1423 2297h3M1418 2238h3M1405 2325h3M1437 2291h3M1421 2267h3M1404 2220h3M1422 2209h3M1450 2276h3M1462 2208h3M1414 2242h3M1447 2194h3M1422 2283h3M1432 2239h3M1399 2230h3M1448 2283h3M1384 2259h3M1419 2207h3M1479 2269h3M1400 2203h3M1434 2185h3M1423 2262h3M1393 2249h3M1441 2217h3M1439 2268h3M1440 2216h3M1452 2229h3M1434 2244h3M1428 2164h3M1457 2260h3M1432 2266h3M1417 2236h3M1442 2158h3M1408 2219h3M1420 2221h3M1407 2251h3M1450 2259h3M1456 2262h3M1468 2303h3M1416 2210h3M1412 2228h3M1448 2262h3M1434 2216h3M1417 2234h3M1435 2261h3M1409 2297h3M1449 2269h3M1385 2273h3M1433 2250h3M1366 2182h3M1420 2190h3M1464 2198h3M1449 2256h3M1505 2244h3M1469 2225h3M1398 2256h3M1463 2221h3M1457 2265h3M1429 2250h3M1433 2219h3M1433 2259h3M1446 2216h3M1444 2209h3M1439 2234h3M1420 2240h3M1439 2174h3M1463 2282h3M1438 2179h3M1452 2243h3M1474 2224h3M1424 2281h3M1370 2227h3M1403 2252h3M1438 2307h3M1455 2190h3M1451 2258h3M1432 2198h3M1480 2311h3M1437 2211h3M1398 2199h3M1453 2176h3M1460 2236h3M1439 2273h3M1495 2272h3M1425 2258h3M1433 2244h3M1432 2204h3M1438 2190h3M1460 2228h3M1397 2269h3M1448 2247h3M1388 2192h3M1444 2332h3M1436 2255h3M1446 2209h3M1460 2219h3M1431 2212h3M1396 2213h3M1404 2228h3M1472 2255h3M1414 2260h3M1414 2288h3M1451 2230h3M1428 2246h3M1402 2199h3M1426 2208h3M1429 2277h3M1424 2267h3M1478 2227h3M1469 2212h3M1399 2251h3M1426 2187h3M1465 2277h3M1403 2236h3M1428 2195h3M1439 2191h3M1383 2300h3M1413 2214h3M1424 2216h3M1489 2262h3M1453 2279h3M1488 2156h3M1451 2251h3M1432 2290h3M1447 2176h3M1437 2238h3M1461 2162h3M1448 2250h3M1448 2259h3M1373 2271h3M1429 2213h3M1456 2242h3M1475 2286h3M1400 2275h3M1430 2243h3M1426 2284h3M1408 2261h3M1388 2257h3M1395 2194h3M1429 2200h3M1460 2201h3M1474 2276h3M1433 2269h3M1436 2337h3M1444 2221h3M1441 2231h3M1428 2221h3M1415 2277h3M1429 2274h3M1422 2241h3M1417 2295h3M1475 2241h3M1455 2188h3M1395 2273h3M1382 2354h3M1458 2313h3M1428 2191h3M1406 2210h3M1454 2204h3M1408 2306h3M1397 2220h3M1468 2343h3M1411 2253h3M1429 2223h3M1395 2278h3M1416 2219h3M1432 2302h3M1436 2348h3M1422 2269h3M1371 2219h3M1430 2217h3M1409 2223h3M1404 2224h3M1433 2260h3M1401 2237h3M1408 2281h3M1479 2253h3M1442 2235h3M1445 2237h3M1396 2295h3M1494 2271h3M1431 2265h3M1478 2227h3M1452 2253h3M1370 2231h3M1447 2260h3M1428 2196h3M1438 2253h3M1447 2318h3M1433 2290h3M1445 2357h3M1446 2352h3M1404 2198h3M1445 2241h3M1469 2279h3M1455 2216h3M1431 2281h3M1416 2248h3M1466 2246h3M1439 2296h3M1445 2189h3M1436 2249h3M1442 2340h3M1465 2254h3M1414 2282h3M1438 2300h3M1442 2288h3M1410 2241h3M1434 2215h3M1444 2233h3M1422 2220h3M1430 2182h3M1458 2264h3M1449 2298h3M1440 2236h3M1470 2232h3M1437 2161h3M1417 2246h3M1450 2268h3M1459 2224h3M1416 2255h3M1410 2231h3M1433 2166h3M1387 2262h3M1411 2276h3M1418 2204h3M1448 2235h3M1441 2218h3M1408 2232h3M1409 2238h3M1402 2259h3M1469 2228h3M1395 2258h3M1378 2217h3M1444 2239h3M1416 2189h3M1482 2254h3M1404 2197h3M1481 2182h3M1443 2219h3M1394 2245h3M1453 2215h3M1421 2206h3M1501 2236h3M1441 2194h3M1507 2191h3M1370 2257h3M1390 2154h3M1419 2274h3M1437 2185h3M1434 2216h3M1476 2261h3M1370 2149h3M1440 2285h3M1423 2252h3M1420 2186h3M1431 2264h3M1423 2211h3M1452 2245h3M1443 2244h3M1502 2241h3M1427 2203h3M1451 2198h3M1400 2171h3M1546 2243h3M1420 2179h3M1485 2153h3M1404 2250h3M1438 2240h3M1445 2209h3M1418 2228h3M1450 2218h3M1426 2257h3M1443 2233h3M1467 2183h3M1411 2224h3M1489 2198h3M1430 2227h3M1461 2212h3M1376 2240h3M1413 2293h3M1416 2218h3M1439 2217h3M1531 2199h3M1478 2209h3M1428 2240h3M1453 2202h3M1406 2226h3M1564 2204h3M1464 2186h3M1566 2152h3M1466 2216h3M1457 2209h3M1498 2265h3M1484 2102h3M1408 2214h3M1473 2099h3M1499 2223h3M1499 2163h3M1414 2168h3M1419 2178h3M1378 2262h3M1461 2176h3M1367 2256h3M1395 2179h3M1457 2243h3M1452 2162h3M1488 2257h3M1469 2304h3M1402 2178h3M1412 2184h3M1464 2217h3M1426 2255h3M1438 2186h3M1418 2156h3M1432 2173h3M1436 2223h3M1457 2190h3M1509 2162h3M1466 2209h3M1450 2181h3M1412 2234h3M1377 2213h3M1442 2185h3M1510 2137h3M1445 2212h3M1446 2189h3M1381 2237h3M1467 2223h3M1450 2256h3M1475 2236h3M1417 2249h3M1408 2224h3M1404 2201h3M1469 2195h3M1474 2189h3M1500 2202h3M1534 2237h3M1439 2163h3M1425 2287h3M1451 2259h3M1426 2173h3M1432 2199h3M1481 2284h3M1435 2175h3M1466 2198h3M1414 2266h3M1377 2244h3M1444 2218h3M1439 2162h3M1462 2256h3M1366 2212h3M1435 2196h3M1454 2200h3M1425 2256h3M1404 2191h3M1424 2175h3M1420 2264h3M1409 2308h3M1414 2156h3M1484 2225h3M1400 2199h3M1428 2313h3M1444 2218h3M1458 2216h3M1439 2172h3M1442 2215h3M1390 2210h3M1436 2228h3M1473 2184h3M1386 2170h3M1429 2202h3M1456 2199h3M1477 2181h3M1456 2232h3M1453 2228h3M1399 2242h3M1420 2199h3M1402 2222h3M1423 2179h3M1464 2176h3M1452 2214h3M1458 2209h3M1395 2213h3M1452 2283h3M1507 2243h3M1475 2104h3M1420 2163h3M1461 2229h3M1459 2231h3M1453 2203h3M1418 2236h3M1440 2250h3M1423 2197h3M1411 2234h3M1410 2180h3M1439 2193h3M1486 2221h3M1475 2264h3M1478 2245h3M1423 2226h3M1436 2239h3M1419 2235h3M1422 2238h3M1485 2258h3M1425 2262h3M1378 2215h3M1389 2209h3M1397 2207h3M1415 2260h3M1519 2243h3M1478 2228h3M1438 2200h3M1398 2177h3M1470 2192h3M1455 2173h3M1524 2264h3M1438 2285h3M1460 2254h3M1436 2191h3M1493 2239h3M1472 2250h3M1446 2191h3M1455 2139h3M1445 2255h3M1433 2285h3M1429 2168h3M1463 2203h3M1464 2184h3M1462 2214h3M1451 2248h3M1414 2203h3M1482 2259h3M1468 2165h3M1449 2194h3M1366 2249h3M1471 2151h3M1429 2212h3M1420 2230h3M1427 2154h3M1426 2227h3M1408 2239h3M1479 2234h3M1461 2206h3M1461 2180h3M1493 2250h3M1402 2200h3M1415 2161h3M1429 2240h3M1443 2199h3M1399 2209h3M1470 2216h3M1470 2115h3M1409 2181h3M1472 2157h3M1479 2244h3M1427 2152h3M1419 2179h3M1416 2177h3M1442 2196h3M1438 2207h3M1484 2288h3M1440 2205h3M1434 2246h3M1465 2212h3M1435 2231h3M1477 2191h3M1455 2136h3M1416 2227h3M1428 2291h3M1452 2278h3M1496 2178h3M1433 2223h3M1480 2265h3M1468 2221h3M1402 2250h3M1419 2248h3M1488 2150h3M1513 2201h3M1479 2246h3M1507 2256h3M1499 2242h3M1412 2201h3M1465 2247h3M1446 2180h3M1395 2212h3M1549 2204h3M1423 2233h3M1467 2214h3M1368 2181h3M1418 2234h3M1418 2199h3M1401 2186h3M1520 2242h3M1456 2175h3M1397 2250h3M1440 2233h3M1451 2214h3M1504 2212h3M1435 2218h3M1428 2209h3M1479 2170h3M1430 2210h3M1458 2287h3M1464 2235h3M1398 2273h3M1379 2263h3M1473 2213h3M1403 2231h3M1424 2264h3M1430 2243h3M1400 2170h3M1363 2191h3M1447 2199h3M1406 2200h3M1461 2221h3M1370 2189h3M1462 2222h3M1403 2230h3M1449 2189h3M1452 2200h3M1416 2250h3M1384 2285h3M1450 2192h3M1456 2171h3M1426 2289h3M1458 2202h3M1435 2246h3M1474 2196h3M1484 2208h3M1439 2239h3M1435 2244h3M1430 2244h3M1485 2195h3M1441 2203h3M1465 2229h3M1448 2264h3M1455 2221h3M1415 2212h3M1490 2238h3M1445 2206h3M1408 2180h3M1478 2211h3M1445 2260h3M1427 2191h3M1493 2235h3M1385 2209h3M1414 2190h3M1416 2283h3M1434 2191h3M1476 2156h3M1434 2262h3M1442 2224h3M1434 2224h3M1467 2203h3M1446 2220h3M1374 2247h3M1507 2243h3M1451 2196h3M1455 2288h3M1496 2183h3M1497 2183h3M1419 2205h3M1465 2202h3M1478 2223h3M1499 2156h3M1447 2237h3M1498 2128h3M1458 2189h3M1455 2251h3M1474 2203h3M1465 2334h3M1426 2234h3M1426 2245h3M1415 2236h3M1390 2219h3M1533 2166h3M1423 2248h3M1384 2220h3M1483 2216h3M1446 2255h3M1442 2265h3M1497 2199h3M1489 2240h3M1439 2211h3M1482 2163h3M1387 2258h3M1514 2223h3M1481 2147h3M1396 2190h3M1430 2218h3M1426 2209h3M1436 2236h3M1482 2247h3M1493 2204h3M1383 2243h3M1460 2213h3M1431 2162h3M1363 2187h3M1573 2079h3M1554 2126h3M1583 2075h3M1571 2104h3M1532 2131h3M1495 2163h3M1500 2152h3M1538 2135h3M1516 2136h3M1531 2168h3M1514 2149h3M1469 2183h3M1476 2168h3M1569 2119h3M1538 2130h3M1530 2121h3M1537 2136h3M1532 2120h3M1512 2151h3M1521 2150h3M1478 2186h3M1494 2158h3M1617 2065h3M1504 2145h3M1569 2107h3M1531 2138h3M1490 2122h3M1566 2088h3M1549 2108h3M1509 2133h3M1563 2111h3M1581 2092h3M1540 2111h3M1532 2132h3M1421 2208h3M1526 2143h3M1594 2095h3M1498 2158h3M1501 2142h3M1514 2144h3M1547 2089h3M1514 2127h3M1594 2096h3M1503 2141h3M1558 2117h3M1484 2162h3M1529 2112h3M1585 2078h3M1520 2119h3M1564 2076h3M1493 2151h3M1510 2123h3M1500 2163h3M1525 2133h3M1567 2100h3M1565 2096h3M1504 2176h3M1449 2179h3M1499 2191h3M1537 2137h3M1457 2176h3M1535 2116h3M1535 2132h3M1530 2128h3M1533 2122h3M1545 2128h3M1492 2166h3M1559 2098h3M1536 2150h3M1587 2111h3M1596 2063h3M1497 2153h3M1534 2072h3M1537 2139h3M1531 2132h3M1505 2125h3M1561 2095h3M1545 2114h3M1606 2066h3M1543 2115h3M1498 2162h3M1569 2093h3M1437 2200h3M1598 2058h3M1519 2108h3M1498 2143h3M1562 2108h3M1556 2120h3M1521 2162h3M1524 2147h3M1605 2052h3M1540 2116h3M1534 2128h3M1524 2133h3M1544 2095h3M1494 2152h3M1476 2181h3M1502 2139h3M1467 2171h3M1534 2105h3M1567 2104h3M1525 2106h3M1505 2166h3M1506 2137h3M1501 2159h3M1463 2203h3M1527 2114h3M1530 2087h3M1481 2176h3M1575 2069h3M1471 2180h3M1524 2121h3M1507 2171h3M1478 2150h3M1520 2156h3M1552 2107h3M1475 2176h3M1554 2081h3M1505 2141h3M1590 2068h3M1519 2129h3M1424 2240h3M1448 2193h3M1460 2181h3M1503 2143h3M1572 2071h3M1517 2147h3M1505 2141h3M1606 2070h3M1495 2163h3M1494 2167h3M1476 2188h3M1542 2121h3M1527 2133h3M1492 2162h3M1551 2114h3M1493 2169h3M1473 2167h3M1487 2156h3M1525 2142h3M1569 2098h3M1502 2164h3M1557 2091h3M1477 2172h3M1598 2061h3M1523 2144h3M1471 2164h3M1526 2143h3M1508 2137h3M1471 2204h3M1485 2187h3M1505 2166h3M1584 2065h3M1553 2118h3M1571 2085h3M1573 2089h3M1493 2175h3M1573 2087h3M1525 2143h3M1581 2062h3M1581 2112h3M1494 2167h3M1529 2133h3M1561 2075h3M1494 2138h3M1526 2159h3M1480 2165h3M1504 2157h3M1506 2136h3M1493 2157h3M1458 2155h3M1570 2092h3M1500 2152h3M1546 2099h3M1521 2126h3M1553 2069h3M1480 2193h3M1472 2167h3M1459 2155h3M1525 2141h3M1527 2111h3M1515 2165h3M1509 2131h3M1556 2099h3M1444 2191h3M1558 2099h3M1525 2141h3M1482 2147h3M1518 2128h3M1518 2127h3M1484 2147h3M1549 2139h3M1484 2185h3M1545 2103h3M1488 2172h3M1508 2142h3M1520 2164h3M1464 2192h3M1599 2067h3M1607 2057h3M1537 2133h3M1496 2157h3M1542 2106h3M1551 2125h3M1478 2172h3M1535 2112h3M1573 2107h3M1505 2153h3M1499 2153h3M1542 2114h3M1528 2122h3M1578 2097h3M1505 2158h3M1599 2105h3M1524 2145h3M1451 2219h3M1557 2115h3M1541 2132h3M1575 2098h3M1514 2139h3M1526 2128h3M1484 2149h3M1515 2127h3M1502 2133h3M1470 2175h3M1533 2157h3M1531 2142h3M1548 2116h3M1519 2147h3M1536 2101h3M1551 2106h3M1458 2180h3M1561 2114h3M1531 2145h3M1545 2090h3M1486 2172h3M1486 2157h3M1535 2118h3M1488 2143h3M1595 2047h3M1517 2155h3M1515 2127h3M1490 2181h3M1541 2087h3M1476 2185h3M1585 2070h3M1551 2084h3M1451 2179h3M1546 2115h3M1540 2091h3M1587 2069h3M1454 2195h3M1504 2174h3M1543 2134h3M1488 2153h3M1531 2127h3M1492 2169h3M1568 2087h3M1502 2145h3M1545 2111h3M1551 2125h3M1511 2140h3M1524 2155h3M1521 2136h3M1519 2150h3M1532 2107h3M1565 2102h3M1576 2094h3M1515 2125h3M1573 2107h3M1489 2162h3M1542 2114h3M1537 2115h3M1508 2165h3M1462 2198h3M1493 2160h3M1499 2157h3M1502 2156h3M1460 2173h3M1523 2142h3M1506 2178h3M1515 2152h3M1445 2188h3M1475 2158h3M1458 2184h3M1503 2176h3M1523 2137h3M1453 2219h3M1576 2068h3M1476 2164h3M1569 2071h3M1471 2155h3M1541 2130h3M1494 2176h3M1523 2120h3M1555 2123h3M1578 2091h3M1576 2085h3M1550 2136h3M1513 2129h3M1472 2171h3M1443 2190h3M1477 2171h3M1469 2180h3M1530 2139h3M1577 2108h3M1504 2129h3M1558 2108h3M1514 2154h3M1605 2065h3M1510 2148h3M1504 2181h3M1469 2166h3M1564 2094h3M1484 2183h3M1558 2077h3M1558 2117h3M1602 2070h3M1556 2106h3M1566 2121h3M1549 2101h3M1537 2150h3M1472 2170h3M1509 2166h3M1487 2159h3M1527 2138h3M1541 2100h3M1469 2160h3M1568 2089h3M1532 2125h3M1454 2170h3M1496 2188h3M1514 2149h3M1505 2189h3M1517 2115h3M1508 2151h3M1562 2093h3M1553 2111h3M1530 2120h3M1548 2127h3M1522 2129h3M1540 2096h3M1555 2079h3M1574 2092h3M1501 2143h3M1528 2122h3M1381 2304h3M1500 2224h3M1479 2254h3M1511 2247h3M1479 2359h3M1396 2226h3M1510 2089h3M1479 2319h3M1474 2095h3M1500 2243h3M1473 2244h3M1496 2070h3M1413 2290h3M1488 2287h3M1447 2270h3M1509 2218h3M1384 2274h3M1403 2348h3M1468 2312h3M1391 2170h3M1493 2148h3M1381 2068h3M1513 2062h3M1421 2334h3M1504 2130h3M1404 2294h3M1443 2348h3M1484 2242h3M1480 2210h3M1520 2212h3M1393 2351h3M1389 2246h3M1449 2221h3M1402 2210h3M1370 2358h3M1451 2317h3M1489 2331h3M1507 2053h3M1412 2246h3M1444 2167h3M1470 2140h3M1366 2359h3M1466 2278h3M1384 2350h3M1475 2055h3M1508 2111h3M1395 2247h3M1380 2218h3M1385 2358h3M1453 2174h3M1458 2187h3M1482 2059h3M1489 2135h3M1429 2249h3M1396 2203h3M1420 2251h3M1365 2322h3M1448 2323h3M1513 2275h3M1387 2290h3M1408 2312h3M1458 2230h3M1453 2364h3M1484 2175h3M1437 2060h3M1371 2201h3M1382 2224h3M1389 2272h3M1425 2194h3M1490 2343h3M1402 2332h3M1388 2157h3M1380 2296h3M1456 2291h3M1436 2149h3M1451 2370h3M1382 2190h3M1367 2235h3M1387 2075h3M1505 2208h3M1518 2215h3M1510 2317h3M1410 2328h3M1457 2060h3M1365 2064h3M1461 2163h3M1364 2311h3M1396 2172h3M1481 2098h3M1422 2289h3M1464 2202h3M1408 2247h3M1436 2346h3M1416 2248h3M1372 2163h3M1425 2293h3M1490 2348h3M1401 2347h3M1413 2370h3M1399 2230h3M1488 2109h3M1413 2276h3M1451 2275h3M1460 2267h3M1400 2339h3M1377 2316h3M1451 2068h3M1488 2247h3M1391 2179h3M1431 2189h3M1460 2205h3M1396 2050h3M1378 2187h3M1503 2339h3M1365 2146h3M1381 2308h3M1406 2072h3M1371 2323h3M1466 2140h3M1414 2259h3M1437 2221h3M1417 2287h3M1452 2182h3M1421 2181h3M1483 2177h3M1438 2334h3M1418 2215h3M1445 2219h3M1595 2264h3M1497 2082h3M1506 2339h3M1554 2246h3M1436 2310h3M1586 2138h3M1517 2237h3M1594 2082h3M1581 2094h3M1415 2184h3M1513 2272h3M1485 2286h3M1467 2282h3M1527 2185h3M1549 2126h3M1585 2051h3M1486 2133h3M1414 2254h3M1514 2153h3M1438 2333h3M1388 2266h3M1507 2134h3M1394 2240h3M1598 2171h3M1549 2114h3M1548 2292h3M1542 2150h3M1407 2363h3M1377 2057h3M1526 2094h3M1434 2184h3M1519 2297h3M1512 2088h3M1518 2183h3M1435 2178h3M1591 2049h3M1597 2138h3M1465 2050h3M1424 2269h3M1484 2314h3M1456 2219h3M1570 2183h3M1445 2166h3M1580 2216h3M1522 2121h3M1445 2050h3M1439 2071h3M1444 2059h3M1409 2049h3M1380 2070h3M1468 2056h3M1505 2082h3M1368 2065h3M1404 2064h3M1408 2060h3M1381 2072h3M1391 2065h3M1450 2058h3M1383 2061h3M1416 2069h3M1378 2046h3M1454 2062h3M1477 2075h3M1428 2060h3M1465 2082h3M1412 2058h3M1452 2068h3M1415 2069h3M1485 2053h3M1480 2050h3M1481 2049h3M1405 2058h3M1413 2055h3M1408 2053h3M1401 2060h3M1393 2061h3M1455 2049h3M1423 2047h3M1377 2074h3M1385 2061h3M1400 2060h3M1428 2053h3M1384 2063h3M1492 2053h3M1503 2072h3M1377 2065h3M1472 2047h3M1484 2072h3M1497 2069h3M1503 2067h3M1459 2052h3M1378 2059h3M1441 2050h3M1393 2068h3M1408 2071h3M1415 2067h3M1444 2054h3M1390 2075h3M1427 2059h3M1436 2058h3M1412 2058h3M1397 2071h3M1465 2054h3M1413 2060h3M1512 2071h3M1387 2076h3M1375 2072h3M1399 2057h3M1470 2074h3M1470 2065h3M1444 2067h3M1455 2074h3M1442 2051h3M1384 2058h3M1416 2061h3M1384 2049h3M1464 2066h3M1443 2053h3M1458 2050h3M1427 2063h3M1393 2065h3M1399 2054h3M1410 2054h3M1385 2061h3M1389 2055h3M1426 2056h3M1381 2068h3M1510 2052h3M1459 2050h3M1406 2046h3M1391 2050h3M1414 2055h3M1520 2048h3M1448 2068h3M1369 2056h3M1472 2083h3M1390 2076h3M1420 2056h3M1410 2056h3M1367 2063h3M1498 2046h3M1405 2071h3M1444 2073h3M1484 2056h3M1396 2067h3M1444 2079h3M1444 2056h3M1383 2050h3M1422 2056h3M1424 2066h3M1456 2059h3M1412 2050h3M1419 2058h3M1392 2056h3M1480 2069h3M1435 2073h3M1427 2073h3M1447 2056h3M1366 2061h3M1428 2047h3M1412 2052h3M1467 2059h3M1493 2055h3M1461 2063h3M1402 2065h3M1533 2049h3M1392 2058h3M1400 2051h3M1444 2048h3M1373 2057h3M1447 2076h3M1420 2070h3M1486 2065h3M1461 2057h3M1369 2066h3M1383 2046h3M1426 2057h3M1460 2057h3M1460 2064h3M1424 2066h3M1502 2051h3M1421 2060h3M1387 2052h3M1560 2064h3M1447 2049h3M1385 2062h3M1407 2057h3M1439 2062h3M1448 2068h3M1508 2055h3M1432 2076h3M1404 2073h3M1399 2054h3M1371 2058h3M1520 2081h3M1426 2066h3M1477 2047h3M1403 2057h3M1393 2056h3M1442 2053h3M1443 2066h3M1416 2066h3M1405 2049h3M1397 2064h3M1401 2050h3M1399 2049h3M1370 2060h3M1374 2065h3M1498 2066h3M1391 2057h3M1430 2077h3M1427 2067h3M1368 2060h3M1480 2056h3M1398 2055h3M1476 2065h3M1440 2050h3M1400 2069h3M1445 2052h3M1368 2070h3M1495 2049h3M1429 2072h3M1520 2047h3M1412 2070h3M1420 2050h3M1467 2058h3M1420 2051h3M1408 2071h3M1432 2072h3M1448 2054h3M1407 2060h3M1365 2079h3M1387 2048h3M1499 2078h3M1612 2120h3M1609 2140h3M1644 2175h3M1606 2176h3M1632 2339h3M1624 2114h3M1618 2084h3M1601 2230h3M1610 2104h3M1626 2305h3M1617 2270h3M1640 2132h3" stroke="#222" stroke-width="3" stroke-opacity="0.9"/><path d="M339.0 519.5 L358.4 519.5 Q367.0 519.5 367.0 529.0 Q367.0 538.5 358.4 538.5 L339.0 538.5 Z" fill="#fff" stroke="#777" stroke-width="0.6"/><path d="M339.0 521.7 L358.6 521.7 Q365.2 521.7 365.2 529.0 Q365.2 536.3 358.6 536.3 L339.0 536.3 Z" fill="none" stroke="#777" stroke-width="0.6"/><path d="M339.0 523.9 L358.8 523.9 Q363.4 523.9 363.4 529.0 Q363.4 534.1 358.8 534.1 L339.0 534.1 Z" fill="none" stroke="#777" stroke-width="0.6"/><path d="M339.0 526.1 L359.0 526.1 Q361.6 526.1 361.6 529.0 Q361.6 531.9 359.0 531.9 L339.0 531.9 Z" fill="none" stroke="#777" stroke-width="0.6"/><ellipse cx="376.0" cy="541.0" rx="7.0" ry="1.8" transform="rotate(-42 376.0 541.0)" fill="rgba(0,0,0,0.4)" stroke="none" stroke-width="0" opacity="1"/><ellipse cx="386.0" cy="529.0" rx="13.0" ry="3.0" transform="rotate(-42 386.0 529.0)" fill="none" stroke="#666" stroke-width="0.5" opacity="1"/><ellipse cx="381.0" cy="535.0" rx="4.0" ry="1.5" transform="rotate(-42 381.0 535.0)" fill="none" stroke="#333" stroke-width="0.8" opacity="1"/><rect x="340.1" y="510.8" width="1.5" height="30" fill="#222"/></g><clipPath id="cr3"><rect x="435" y="509.5" width="72.19999999999999" height="83.60000000000002"/></clipPath><g clip-path="url(#cr3)"><path d="M462 572 C463 567 469 566 470 571 C471 575 470 580 466 582 C463 584 462 587 461 590 L459 593 L452 593 C454 588 457 585 459 582 C461 579 461 576 462 572 Z" fill="rgba(0,0,0,0.05)" stroke="#666" stroke-width=".6"/><path d="M464 572 C465 569 468 569 468 572 C468 575 467 578 465 579 C463 580 463 576 464 572 Z" fill="none" stroke="#666" stroke-width=".6"/><path d="M465 584 C468 583 469 588 467 593" fill="none" stroke="#888" stroke-width=".6"/><path d="M456 590 L460 586 L464 588" fill="none" stroke="#888" stroke-width=".5"/></g>
<line x1="321.80" y1="206.70" x2="321.80" y2="547.40" stroke="#111" stroke-width="1.2"/>
<line x1="422.80" y1="217.00" x2="422.80" y2="561.30" stroke="#111" stroke-width="1.2"/>
<text x="283.70" y="251.20" font-size="13" text-anchor="start" font-weight="normal" font-style="normal" fill="#111" textLength="18.60" lengthAdjust="spacingAndGlyphs">WT</text>
<text x="277.00" y="347.50" font-size="14" text-anchor="start" font-weight="normal" font-style="italic" fill="#111" textLength="35.20" lengthAdjust="spacingAndGlyphs"><tspan>Flt3l</tspan><tspan font-size="10.08" dy="-5.88">-/-</tspan></text>
<text x="280.00" y="446.50" font-size="14" text-anchor="start" font-weight="normal" font-style="italic" fill="#111" textLength="24.00" lengthAdjust="spacingAndGlyphs"><tspan>Il7</tspan><tspan font-size="10.08" dy="-5.88">-/-</tspan></text>
<text x="274.70" y="535.30" font-size="13.5" text-anchor="start" font-weight="normal" font-style="italic" fill="#111" textLength="34.30" lengthAdjust="spacingAndGlyphs"><tspan>Flt3l</tspan><tspan font-size="9.72" dy="-5.67">-/-</tspan></text>
<text x="274.70" y="547.40" font-size="13.5" text-anchor="start" font-weight="normal" font-style="italic" fill="#111" textLength="27.80" lengthAdjust="spacingAndGlyphs"><tspan>Il7</tspan><tspan font-size="9.72" dy="-5.67">-/-</tspan></text>
<rect x="341.40" y="212.60" width="71.80" height="82.90" fill="none" stroke="#555" stroke-width="1.0"/>
<path d="M370.80 295.50 L370.90 268.50 L387.70 261.90 L398.30 267.30 L399.60 295.50" fill="none" stroke="#555" stroke-width="1.0" stroke-linejoin="round"/>
<rect x="435.00" y="211.10" width="72.20" height="83.40" fill="none" stroke="#555" stroke-width="1.0"/>
<rect x="435.00" y="234.70" width="35.90" height="30.50" fill="none" stroke="#555" stroke-width="1.1"/>
<rect x="470.90" y="234.70" width="27.90" height="30.50" fill="none" stroke="#555" stroke-width="1.1"/>
<line x1="400.20" y1="234.00" x2="423.00" y2="234.00" stroke="#111" stroke-width="1.4"/>
<path d="M429.00 234.00 L422.50 230.80 L422.50 237.20 Z" fill="#111"/>
<text x="453.00" y="228.90" font-size="10" text-anchor="middle" font-weight="normal" font-style="normal" fill="#111">0.12</text>
<text x="482.60" y="228.90" font-size="10" text-anchor="middle" font-weight="normal" font-style="normal" fill="#111">7.2</text>
<text x="342.9" y="301.0" font-size="3.8" fill="#7a7a7a" text-anchor="middle">10<tspan font-size="2.7" dy="-1.7">0</tspan></text>
<text x="360.7" y="301.0" font-size="3.8" fill="#7a7a7a" text-anchor="middle">10<tspan font-size="2.7" dy="-1.7">1</tspan></text>
<text x="378.5" y="301.0" font-size="3.8" fill="#7a7a7a" text-anchor="middle">10<tspan font-size="2.7" dy="-1.7">2</tspan></text>
<text x="396.3" y="301.0" font-size="3.8" fill="#7a7a7a" text-anchor="middle">10<tspan font-size="2.7" dy="-1.7">3</tspan></text>
<text x="339.9" y="295.8" font-size="3.8" fill="#7a7a7a" text-anchor="end">10<tspan font-size="2.7" dy="-1.7">0</tspan></text>
<text x="339.9" y="275.3" font-size="3.8" fill="#7a7a7a" text-anchor="end">10<tspan font-size="2.7" dy="-1.7">1</tspan></text>
<text x="339.9" y="255.8" font-size="3.8" fill="#7a7a7a" text-anchor="end">10<tspan font-size="2.7" dy="-1.7">2</tspan></text>
<text x="339.9" y="235.8" font-size="3.8" fill="#7a7a7a" text-anchor="end">10<tspan font-size="2.7" dy="-1.7">3</tspan></text>
<text x="436.5" y="300.0" font-size="3.8" fill="#7a7a7a" text-anchor="middle">10<tspan font-size="2.7" dy="-1.7">0</tspan></text>
<text x="454.3" y="300.0" font-size="3.8" fill="#7a7a7a" text-anchor="middle">10<tspan font-size="2.7" dy="-1.7">1</tspan></text>
<text x="472.1" y="300.0" font-size="3.8" fill="#7a7a7a" text-anchor="middle">10<tspan font-size="2.7" dy="-1.7">2</tspan></text>
<text x="489.9" y="300.0" font-size="3.8" fill="#7a7a7a" text-anchor="middle">10<tspan font-size="2.7" dy="-1.7">3</tspan></text>
<text x="433.5" y="294.8" font-size="3.8" fill="#7a7a7a" text-anchor="end">10<tspan font-size="2.7" dy="-1.7">0</tspan></text>
<text x="433.5" y="274.3" font-size="3.8" fill="#7a7a7a" text-anchor="end">10<tspan font-size="2.7" dy="-1.7">1</tspan></text>
<text x="433.5" y="254.8" font-size="3.8" fill="#7a7a7a" text-anchor="end">10<tspan font-size="2.7" dy="-1.7">2</tspan></text>
<text x="433.5" y="234.8" font-size="3.8" fill="#7a7a7a" text-anchor="end">10<tspan font-size="2.7" dy="-1.7">3</tspan></text>
<rect x="340.60" y="309.60" width="72.10" height="83.70" fill="none" stroke="#555" stroke-width="1.0"/>
<path d="M369.40 393.30 L370.80 365.40 L385.80 359.20 L396.90 364.40 L398.30 393.30" fill="none" stroke="#555" stroke-width="1.0" stroke-linejoin="round"/>
<rect x="435.00" y="308.50" width="72.20" height="84.00" fill="none" stroke="#555" stroke-width="1.0"/>
<rect x="435.00" y="332.30" width="35.10" height="30.70" fill="none" stroke="#555" stroke-width="1.1"/>
<rect x="470.10" y="332.30" width="27.70" height="30.70" fill="none" stroke="#555" stroke-width="1.1"/>
<line x1="398.30" y1="356.00" x2="421.20" y2="356.00" stroke="#111" stroke-width="1.4"/>
<path d="M427.20 356.00 L420.70 352.80 L420.70 359.20 Z" fill="#111"/>
<text x="454.00" y="329.30" font-size="10" text-anchor="middle" font-weight="normal" font-style="normal" fill="#111">0.05</text>
<text x="483.70" y="329.30" font-size="10" text-anchor="middle" font-weight="normal" font-style="normal" fill="#111">3.0</text>
<text x="342.1" y="398.8" font-size="3.8" fill="#7a7a7a" text-anchor="middle">10<tspan font-size="2.7" dy="-1.7">0</tspan></text>
<text x="359.9" y="398.8" font-size="3.8" fill="#7a7a7a" text-anchor="middle">10<tspan font-size="2.7" dy="-1.7">1</tspan></text>
<text x="377.7" y="398.8" font-size="3.8" fill="#7a7a7a" text-anchor="middle">10<tspan font-size="2.7" dy="-1.7">2</tspan></text>
<text x="395.5" y="398.8" font-size="3.8" fill="#7a7a7a" text-anchor="middle">10<tspan font-size="2.7" dy="-1.7">3</tspan></text>
<text x="339.1" y="393.6" font-size="3.8" fill="#7a7a7a" text-anchor="end">10<tspan font-size="2.7" dy="-1.7">0</tspan></text>
<text x="339.1" y="373.1" font-size="3.8" fill="#7a7a7a" text-anchor="end">10<tspan font-size="2.7" dy="-1.7">1</tspan></text>
<text x="339.1" y="353.6" font-size="3.8" fill="#7a7a7a" text-anchor="end">10<tspan font-size="2.7" dy="-1.7">2</tspan></text>
<text x="339.1" y="333.6" font-size="3.8" fill="#7a7a7a" text-anchor="end">10<tspan font-size="2.7" dy="-1.7">3</tspan></text>
<text x="436.5" y="398.0" font-size="3.8" fill="#7a7a7a" text-anchor="middle">10<tspan font-size="2.7" dy="-1.7">0</tspan></text>
<text x="454.3" y="398.0" font-size="3.8" fill="#7a7a7a" text-anchor="middle">10<tspan font-size="2.7" dy="-1.7">1</tspan></text>
<text x="472.1" y="398.0" font-size="3.8" fill="#7a7a7a" text-anchor="middle">10<tspan font-size="2.7" dy="-1.7">2</tspan></text>
<text x="489.9" y="398.0" font-size="3.8" fill="#7a7a7a" text-anchor="middle">10<tspan font-size="2.7" dy="-1.7">3</tspan></text>
<text x="433.5" y="392.8" font-size="3.8" fill="#7a7a7a" text-anchor="end">10<tspan font-size="2.7" dy="-1.7">0</tspan></text>
<text x="433.5" y="372.3" font-size="3.8" fill="#7a7a7a" text-anchor="end">10<tspan font-size="2.7" dy="-1.7">1</tspan></text>
<text x="433.5" y="352.8" font-size="3.8" fill="#7a7a7a" text-anchor="end">10<tspan font-size="2.7" dy="-1.7">2</tspan></text>
<text x="433.5" y="332.8" font-size="3.8" fill="#7a7a7a" text-anchor="end">10<tspan font-size="2.7" dy="-1.7">3</tspan></text>
<rect x="340.20" y="410.80" width="72.00" height="83.40" fill="none" stroke="#555" stroke-width="1.0"/>
<path d="M369.40 494.20 L370.00 467.30 L382.90 459.60 L396.30 464.40 L397.70 494.20" fill="none" stroke="#555" stroke-width="1.0" stroke-linejoin="round"/>
<rect x="435.00" y="408.50" width="72.20" height="84.00" fill="none" stroke="#555" stroke-width="1.0"/>
<rect x="435.00" y="432.30" width="34.50" height="31.30" fill="none" stroke="#555" stroke-width="1.1"/>
<rect x="469.50" y="432.30" width="27.90" height="31.30" fill="none" stroke="#555" stroke-width="1.1"/>
<line x1="399.20" y1="455.20" x2="421.20" y2="455.20" stroke="#111" stroke-width="1.4"/>
<path d="M427.20 455.20 L420.70 452.00 L420.70 458.40 Z" fill="#111"/>
<text x="451.30" y="429.30" font-size="10" text-anchor="middle" font-weight="normal" font-style="normal" fill="#111">0.013</text>
<text x="484.30" y="429.30" font-size="10" text-anchor="middle" font-weight="normal" font-style="normal" fill="#111">0.20</text>
<text x="341.7" y="499.7" font-size="3.8" fill="#7a7a7a" text-anchor="middle">10<tspan font-size="2.7" dy="-1.7">0</tspan></text>
<text x="359.5" y="499.7" font-size="3.8" fill="#7a7a7a" text-anchor="middle">10<tspan font-size="2.7" dy="-1.7">1</tspan></text>
<text x="377.3" y="499.7" font-size="3.8" fill="#7a7a7a" text-anchor="middle">10<tspan font-size="2.7" dy="-1.7">2</tspan></text>
<text x="395.1" y="499.7" font-size="3.8" fill="#7a7a7a" text-anchor="middle">10<tspan font-size="2.7" dy="-1.7">3</tspan></text>
<text x="338.7" y="494.5" font-size="3.8" fill="#7a7a7a" text-anchor="end">10<tspan font-size="2.7" dy="-1.7">0</tspan></text>
<text x="338.7" y="474.0" font-size="3.8" fill="#7a7a7a" text-anchor="end">10<tspan font-size="2.7" dy="-1.7">1</tspan></text>
<text x="338.7" y="454.5" font-size="3.8" fill="#7a7a7a" text-anchor="end">10<tspan font-size="2.7" dy="-1.7">2</tspan></text>
<text x="338.7" y="434.5" font-size="3.8" fill="#7a7a7a" text-anchor="end">10<tspan font-size="2.7" dy="-1.7">3</tspan></text>
<text x="436.5" y="498.0" font-size="3.8" fill="#7a7a7a" text-anchor="middle">10<tspan font-size="2.7" dy="-1.7">0</tspan></text>
<text x="454.3" y="498.0" font-size="3.8" fill="#7a7a7a" text-anchor="middle">10<tspan font-size="2.7" dy="-1.7">1</tspan></text>
<text x="472.1" y="498.0" font-size="3.8" fill="#7a7a7a" text-anchor="middle">10<tspan font-size="2.7" dy="-1.7">2</tspan></text>
<text x="489.9" y="498.0" font-size="3.8" fill="#7a7a7a" text-anchor="middle">10<tspan font-size="2.7" dy="-1.7">3</tspan></text>
<text x="433.5" y="492.8" font-size="3.8" fill="#7a7a7a" text-anchor="end">10<tspan font-size="2.7" dy="-1.7">0</tspan></text>
<text x="433.5" y="472.3" font-size="3.8" fill="#7a7a7a" text-anchor="end">10<tspan font-size="2.7" dy="-1.7">1</tspan></text>
<text x="433.5" y="452.8" font-size="3.8" fill="#7a7a7a" text-anchor="end">10<tspan font-size="2.7" dy="-1.7">2</tspan></text>
<text x="433.5" y="432.8" font-size="3.8" fill="#7a7a7a" text-anchor="end">10<tspan font-size="2.7" dy="-1.7">3</tspan></text>
<rect x="340.10" y="510.80" width="71.90" height="82.40" fill="none" stroke="#555" stroke-width="1.0"/>
<path d="M369.50 593.20 L371.10 565.40 L384.20 559.80 L396.60 564.70 L398.90 593.20" fill="none" stroke="#555" stroke-width="1.0" stroke-linejoin="round"/>
<rect x="435.00" y="509.50" width="72.20" height="83.60" fill="none" stroke="#555" stroke-width="1.0"/>
<rect x="435.00" y="532.80" width="35.70" height="30.70" fill="none" stroke="#555" stroke-width="1.1"/>
<rect x="470.70" y="532.80" width="26.70" height="30.70" fill="none" stroke="#555" stroke-width="1.1"/>
<line x1="399.00" y1="562.80" x2="424.10" y2="562.80" stroke="#111" stroke-width="1.4"/>
<path d="M430.10 562.80 L423.60 559.60 L423.60 566.00 Z" fill="#111"/>
<text x="455.00" y="530.70" font-size="10" text-anchor="middle" font-weight="normal" font-style="normal" fill="#111">0.0005</text>
<text x="487.20" y="530.70" font-size="10" text-anchor="middle" font-weight="normal" font-style="normal" fill="#111">0.002</text>
<text x="341.6" y="598.7" font-size="3.8" fill="#7a7a7a" text-anchor="middle">10<tspan font-size="2.7" dy="-1.7">0</tspan></text>
<text x="359.4" y="598.7" font-size="3.8" fill="#7a7a7a" text-anchor="middle">10<tspan font-size="2.7" dy="-1.7">1</tspan></text>
<text x="377.2" y="598.7" font-size="3.8" fill="#7a7a7a" text-anchor="middle">10<tspan font-size="2.7" dy="-1.7">2</tspan></text>
<text x="395.0" y="598.7" font-size="3.8" fill="#7a7a7a" text-anchor="middle">10<tspan font-size="2.7" dy="-1.7">3</tspan></text>
<text x="338.6" y="593.5" font-size="3.8" fill="#7a7a7a" text-anchor="end">10<tspan font-size="2.7" dy="-1.7">0</tspan></text>
<text x="338.6" y="573.0" font-size="3.8" fill="#7a7a7a" text-anchor="end">10<tspan font-size="2.7" dy="-1.7">1</tspan></text>
<text x="338.6" y="553.5" font-size="3.8" fill="#7a7a7a" text-anchor="end">10<tspan font-size="2.7" dy="-1.7">2</tspan></text>
<text x="338.6" y="533.5" font-size="3.8" fill="#7a7a7a" text-anchor="end">10<tspan font-size="2.7" dy="-1.7">3</tspan></text>
<text x="436.5" y="598.6" font-size="3.8" fill="#7a7a7a" text-anchor="middle">10<tspan font-size="2.7" dy="-1.7">0</tspan></text>
<text x="454.3" y="598.6" font-size="3.8" fill="#7a7a7a" text-anchor="middle">10<tspan font-size="2.7" dy="-1.7">1</tspan></text>
<text x="472.1" y="598.6" font-size="3.8" fill="#7a7a7a" text-anchor="middle">10<tspan font-size="2.7" dy="-1.7">2</tspan></text>
<text x="489.9" y="598.6" font-size="3.8" fill="#7a7a7a" text-anchor="middle">10<tspan font-size="2.7" dy="-1.7">3</tspan></text>
<text x="433.5" y="593.4" font-size="3.8" fill="#7a7a7a" text-anchor="end">10<tspan font-size="2.7" dy="-1.7">0</tspan></text>
<text x="433.5" y="572.9" font-size="3.8" fill="#7a7a7a" text-anchor="end">10<tspan font-size="2.7" dy="-1.7">1</tspan></text>
<text x="433.5" y="553.4" font-size="3.8" fill="#7a7a7a" text-anchor="end">10<tspan font-size="2.7" dy="-1.7">2</tspan></text>
<text x="433.5" y="533.4" font-size="3.8" fill="#7a7a7a" text-anchor="end">10<tspan font-size="2.7" dy="-1.7">3</tspan></text>
<text transform="translate(323.20,589.90) rotate(-90)" x="0" y="0" font-size="12.2" text-anchor="start" font-weight="normal" font-style="normal" fill="#111" textLength="39.20" lengthAdjust="spacingAndGlyphs">lineage</text>
<text x="348.30" y="613.50" font-size="13" text-anchor="start" font-weight="normal" font-style="normal" fill="#111" textLength="35.90" lengthAdjust="spacingAndGlyphs">AA4.1</text>
<text transform="translate(426.90,597.30) rotate(-90)" x="0" y="0" font-size="12" text-anchor="start" font-weight="normal" font-style="normal" fill="#111" textLength="30.70" lengthAdjust="spacingAndGlyphs">CD19</text>
<text x="442.80" y="612.10" font-size="12.2" text-anchor="start" font-weight="normal" font-style="normal" fill="#111" textLength="26.40" lengthAdjust="spacingAndGlyphs">B220</text>
</svg></body></html>
